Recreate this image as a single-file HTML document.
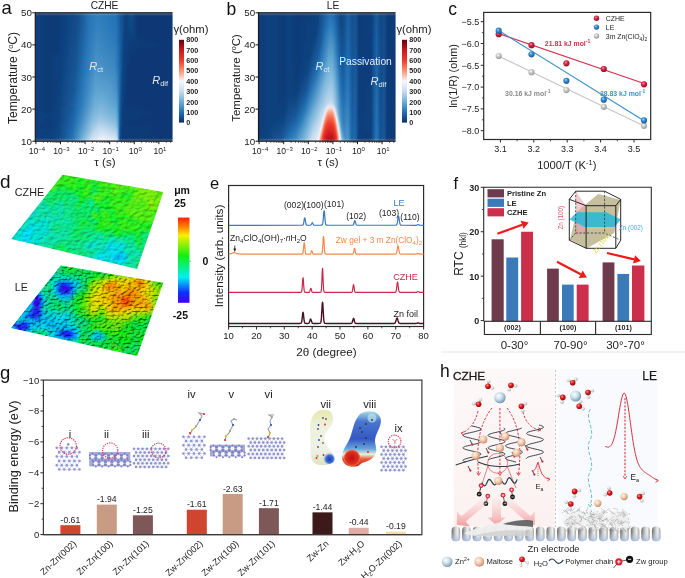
<!DOCTYPE html>
<html><head><meta charset="utf-8"><style>
html,body{margin:0;padding:0;background:#fff;width:685px;height:578px;overflow:hidden}
svg{display:block;filter:blur(0.35px);font-family:"Liberation Sans", sans-serif}
</style></head><body>
<svg width="685" height="578" viewBox="0 0 685 578">
<defs><linearGradient id="ha0" x1="35.3" y1="0" x2="172.5" y2="0" gradientUnits="userSpaceOnUse"><stop offset="0.000" stop-color="#0e407d"/><stop offset="0.091" stop-color="#0c3b78"/><stop offset="0.161" stop-color="#0c3b78"/><stop offset="0.307" stop-color="#124b8a"/><stop offset="0.409" stop-color="#2b79ba"/><stop offset="0.467" stop-color="#317ebc"/><stop offset="0.588" stop-color="#2372b6"/><stop offset="0.631" stop-color="#155190"/><stop offset="0.664" stop-color="#0e3f7c"/><stop offset="0.701" stop-color="#124b8a"/><stop offset="0.741" stop-color="#0b3874"/><stop offset="1.000" stop-color="#0b3874"/></linearGradient><linearGradient id="ha1" x1="35.3" y1="0" x2="172.5" y2="0" gradientUnits="userSpaceOnUse"><stop offset="0.000" stop-color="#0e407d"/><stop offset="0.091" stop-color="#0c3b78"/><stop offset="0.161" stop-color="#0c3b78"/><stop offset="0.307" stop-color="#134c8a"/><stop offset="0.401" stop-color="#2877b8"/><stop offset="0.456" stop-color="#3380bd"/><stop offset="0.588" stop-color="#2373b6"/><stop offset="0.631" stop-color="#145090"/><stop offset="0.664" stop-color="#0e3f7c"/><stop offset="0.701" stop-color="#124b8a"/><stop offset="0.741" stop-color="#0b3874"/><stop offset="1.000" stop-color="#0b3874"/></linearGradient><linearGradient id="ha2" x1="35.3" y1="0" x2="172.5" y2="0" gradientUnits="userSpaceOnUse"><stop offset="0.000" stop-color="#0e407d"/><stop offset="0.091" stop-color="#0c3b78"/><stop offset="0.161" stop-color="#0c3b78"/><stop offset="0.307" stop-color="#134c8b"/><stop offset="0.401" stop-color="#2978b9"/><stop offset="0.453" stop-color="#3480bd"/><stop offset="0.588" stop-color="#2473b6"/><stop offset="0.624" stop-color="#175798"/><stop offset="0.657" stop-color="#0e3f7c"/><stop offset="0.704" stop-color="#124988"/><stop offset="0.741" stop-color="#0b3874"/><stop offset="1.000" stop-color="#0b3874"/></linearGradient><linearGradient id="ha3" x1="35.3" y1="0" x2="172.5" y2="0" gradientUnits="userSpaceOnUse"><stop offset="0.000" stop-color="#0e407d"/><stop offset="0.091" stop-color="#0c3b78"/><stop offset="0.161" stop-color="#0c3b78"/><stop offset="0.310" stop-color="#144e8d"/><stop offset="0.401" stop-color="#2a78b9"/><stop offset="0.460" stop-color="#3481be"/><stop offset="0.588" stop-color="#2574b7"/><stop offset="0.624" stop-color="#175798"/><stop offset="0.657" stop-color="#0e3f7c"/><stop offset="0.690" stop-color="#124987"/><stop offset="0.712" stop-color="#104482"/><stop offset="0.748" stop-color="#0b3874"/><stop offset="1.000" stop-color="#0b3874"/></linearGradient><linearGradient id="ha4" x1="35.3" y1="0" x2="172.5" y2="0" gradientUnits="userSpaceOnUse"><stop offset="0.000" stop-color="#0e407d"/><stop offset="0.091" stop-color="#0c3b78"/><stop offset="0.161" stop-color="#0c3b78"/><stop offset="0.303" stop-color="#134d8c"/><stop offset="0.398" stop-color="#2978b9"/><stop offset="0.456" stop-color="#3682be"/><stop offset="0.588" stop-color="#2675b7"/><stop offset="0.620" stop-color="#195b9c"/><stop offset="0.657" stop-color="#0e3f7c"/><stop offset="0.704" stop-color="#114886"/><stop offset="0.745" stop-color="#0b3874"/><stop offset="1.000" stop-color="#0b3874"/></linearGradient><linearGradient id="ha5" x1="35.3" y1="0" x2="172.5" y2="0" gradientUnits="userSpaceOnUse"><stop offset="0.000" stop-color="#0e407d"/><stop offset="0.091" stop-color="#0c3b78"/><stop offset="0.161" stop-color="#0c3b78"/><stop offset="0.299" stop-color="#134c8b"/><stop offset="0.394" stop-color="#2877b8"/><stop offset="0.453" stop-color="#3783bf"/><stop offset="0.588" stop-color="#2776b8"/><stop offset="0.617" stop-color="#1a5fa1"/><stop offset="0.653" stop-color="#0e407d"/><stop offset="0.682" stop-color="#0f4381"/><stop offset="0.708" stop-color="#104583"/><stop offset="0.745" stop-color="#0b3874"/><stop offset="1.000" stop-color="#0b3874"/></linearGradient><linearGradient id="ha6" x1="35.3" y1="0" x2="172.5" y2="0" gradientUnits="userSpaceOnUse"><stop offset="0.000" stop-color="#0e407d"/><stop offset="0.091" stop-color="#0c3b78"/><stop offset="0.161" stop-color="#0c3b78"/><stop offset="0.299" stop-color="#134d8c"/><stop offset="0.391" stop-color="#2876b8"/><stop offset="0.453" stop-color="#3985c0"/><stop offset="0.588" stop-color="#2877b8"/><stop offset="0.613" stop-color="#1c63a6"/><stop offset="0.650" stop-color="#0e417e"/><stop offset="0.679" stop-color="#0e407e"/><stop offset="0.704" stop-color="#104583"/><stop offset="0.748" stop-color="#0b3874"/><stop offset="1.000" stop-color="#0b3874"/></linearGradient><linearGradient id="ha7" x1="35.3" y1="0" x2="172.5" y2="0" gradientUnits="userSpaceOnUse"><stop offset="0.000" stop-color="#0e407d"/><stop offset="0.091" stop-color="#0c3b78"/><stop offset="0.161" stop-color="#0c3b78"/><stop offset="0.299" stop-color="#144e8d"/><stop offset="0.391" stop-color="#2977b9"/><stop offset="0.449" stop-color="#3b86c0"/><stop offset="0.588" stop-color="#2978b9"/><stop offset="0.613" stop-color="#1c64a6"/><stop offset="0.650" stop-color="#0e407e"/><stop offset="0.682" stop-color="#0e417e"/><stop offset="0.712" stop-color="#0e407d"/><stop offset="0.766" stop-color="#0b3874"/><stop offset="1.000" stop-color="#0b3874"/></linearGradient><linearGradient id="ha8" x1="35.3" y1="0" x2="172.5" y2="0" gradientUnits="userSpaceOnUse"><stop offset="0.000" stop-color="#0e407d"/><stop offset="0.091" stop-color="#0c3b78"/><stop offset="0.161" stop-color="#0c3b78"/><stop offset="0.299" stop-color="#144f8e"/><stop offset="0.391" stop-color="#2a79b9"/><stop offset="0.453" stop-color="#3c87c1"/><stop offset="0.584" stop-color="#2c7aba"/><stop offset="0.609" stop-color="#1e68ab"/><stop offset="0.650" stop-color="#0e407d"/><stop offset="0.715" stop-color="#0d3d7a"/><stop offset="0.847" stop-color="#0b3874"/><stop offset="1.000" stop-color="#0b3874"/></linearGradient><linearGradient id="ha9" x1="35.3" y1="0" x2="172.5" y2="0" gradientUnits="userSpaceOnUse"><stop offset="0.000" stop-color="#0e407d"/><stop offset="0.091" stop-color="#0c3b78"/><stop offset="0.161" stop-color="#0c3b78"/><stop offset="0.299" stop-color="#14508f"/><stop offset="0.383" stop-color="#2876b8"/><stop offset="0.449" stop-color="#3e89c2"/><stop offset="0.588" stop-color="#2c7aba"/><stop offset="0.609" stop-color="#1e69ac"/><stop offset="0.646" stop-color="#0f427f"/><stop offset="0.682" stop-color="#0d3d7a"/><stop offset="0.989" stop-color="#0b3874"/><stop offset="1.000" stop-color="#0b3874"/></linearGradient><linearGradient id="ha10" x1="35.3" y1="0" x2="172.5" y2="0" gradientUnits="userSpaceOnUse"><stop offset="0.000" stop-color="#0e407d"/><stop offset="0.091" stop-color="#0c3b78"/><stop offset="0.161" stop-color="#0c3b78"/><stop offset="0.299" stop-color="#155190"/><stop offset="0.383" stop-color="#2978b9"/><stop offset="0.449" stop-color="#408ac3"/><stop offset="0.584" stop-color="#2f7dbb"/><stop offset="0.609" stop-color="#1e6aad"/><stop offset="0.646" stop-color="#0f417f"/><stop offset="0.686" stop-color="#0d3c79"/><stop offset="1.000" stop-color="#0b3874"/></linearGradient><linearGradient id="ha11" x1="35.3" y1="0" x2="172.5" y2="0" gradientUnits="userSpaceOnUse"><stop offset="0.000" stop-color="#0e407d"/><stop offset="0.091" stop-color="#0c3b78"/><stop offset="0.161" stop-color="#0c3b78"/><stop offset="0.299" stop-color="#155291"/><stop offset="0.380" stop-color="#2977b8"/><stop offset="0.445" stop-color="#418cc3"/><stop offset="0.584" stop-color="#317ebc"/><stop offset="0.609" stop-color="#1e6aad"/><stop offset="0.646" stop-color="#0e417e"/><stop offset="0.737" stop-color="#0b3874"/><stop offset="1.000" stop-color="#0b3874"/></linearGradient><linearGradient id="ha12" x1="35.3" y1="0" x2="172.5" y2="0" gradientUnits="userSpaceOnUse"><stop offset="0.000" stop-color="#0e407d"/><stop offset="0.091" stop-color="#0c3b78"/><stop offset="0.161" stop-color="#0c3b78"/><stop offset="0.296" stop-color="#155291"/><stop offset="0.376" stop-color="#2877b8"/><stop offset="0.445" stop-color="#438dc4"/><stop offset="0.584" stop-color="#3380bd"/><stop offset="0.609" stop-color="#1f6bae"/><stop offset="0.642" stop-color="#0f4380"/><stop offset="0.690" stop-color="#0c3a77"/><stop offset="1.000" stop-color="#0b3874"/></linearGradient><linearGradient id="ha13" x1="35.3" y1="0" x2="172.5" y2="0" gradientUnits="userSpaceOnUse"><stop offset="0.000" stop-color="#0e407d"/><stop offset="0.091" stop-color="#0c3b78"/><stop offset="0.193" stop-color="#0f417e"/><stop offset="0.296" stop-color="#155392"/><stop offset="0.372" stop-color="#2776b8"/><stop offset="0.442" stop-color="#458ec5"/><stop offset="0.580" stop-color="#3682be"/><stop offset="0.609" stop-color="#1f6caf"/><stop offset="0.642" stop-color="#0f4280"/><stop offset="0.690" stop-color="#0c3976"/><stop offset="1.000" stop-color="#0b3874"/></linearGradient><linearGradient id="ha14" x1="35.3" y1="0" x2="172.5" y2="0" gradientUnits="userSpaceOnUse"><stop offset="0.000" stop-color="#0e407d"/><stop offset="0.091" stop-color="#0c3b78"/><stop offset="0.190" stop-color="#0e417e"/><stop offset="0.296" stop-color="#165493"/><stop offset="0.372" stop-color="#2978b9"/><stop offset="0.445" stop-color="#4790c6"/><stop offset="0.580" stop-color="#3884bf"/><stop offset="0.609" stop-color="#1f6cb0"/><stop offset="0.642" stop-color="#0f427f"/><stop offset="0.701" stop-color="#0b3975"/><stop offset="1.000" stop-color="#0b3874"/></linearGradient><linearGradient id="ha15" x1="35.3" y1="0" x2="172.5" y2="0" gradientUnits="userSpaceOnUse"><stop offset="0.000" stop-color="#0e407d"/><stop offset="0.091" stop-color="#0c3b78"/><stop offset="0.190" stop-color="#0f417e"/><stop offset="0.299" stop-color="#175696"/><stop offset="0.372" stop-color="#2b79b9"/><stop offset="0.445" stop-color="#4992c7"/><stop offset="0.580" stop-color="#3a86c0"/><stop offset="0.609" stop-color="#206db1"/><stop offset="0.639" stop-color="#104482"/><stop offset="0.686" stop-color="#0b3975"/><stop offset="1.000" stop-color="#0b3874"/></linearGradient><linearGradient id="ha16" x1="35.3" y1="0" x2="172.5" y2="0" gradientUnits="userSpaceOnUse"><stop offset="0.000" stop-color="#0e407d"/><stop offset="0.091" stop-color="#0c3b78"/><stop offset="0.186" stop-color="#0e417e"/><stop offset="0.292" stop-color="#165494"/><stop offset="0.365" stop-color="#2877b8"/><stop offset="0.442" stop-color="#4b94c8"/><stop offset="0.580" stop-color="#3c87c1"/><stop offset="0.609" stop-color="#206eb1"/><stop offset="0.639" stop-color="#104481"/><stop offset="0.686" stop-color="#0b3875"/><stop offset="1.000" stop-color="#0b3874"/></linearGradient><linearGradient id="ha17" x1="35.3" y1="0" x2="172.5" y2="0" gradientUnits="userSpaceOnUse"><stop offset="0.000" stop-color="#0e407d"/><stop offset="0.091" stop-color="#0c3b78"/><stop offset="0.186" stop-color="#0f417e"/><stop offset="0.288" stop-color="#165494"/><stop offset="0.361" stop-color="#2876b8"/><stop offset="0.438" stop-color="#4c95c8"/><stop offset="0.577" stop-color="#408ac3"/><stop offset="0.606" stop-color="#2574b7"/><stop offset="0.639" stop-color="#0f4381"/><stop offset="0.679" stop-color="#0b3975"/><stop offset="1.000" stop-color="#0b3874"/></linearGradient><linearGradient id="ha18" x1="35.3" y1="0" x2="172.5" y2="0" gradientUnits="userSpaceOnUse"><stop offset="0.000" stop-color="#0e407d"/><stop offset="0.091" stop-color="#0c3b78"/><stop offset="0.182" stop-color="#0e407e"/><stop offset="0.288" stop-color="#165595"/><stop offset="0.361" stop-color="#2978b9"/><stop offset="0.442" stop-color="#5097ca"/><stop offset="0.584" stop-color="#3f89c2"/><stop offset="0.609" stop-color="#206fb3"/><stop offset="0.635" stop-color="#104684"/><stop offset="0.668" stop-color="#0c3975"/><stop offset="1.000" stop-color="#0b3874"/></linearGradient><linearGradient id="ha19" x1="35.3" y1="0" x2="172.5" y2="0" gradientUnits="userSpaceOnUse"><stop offset="0.000" stop-color="#0e407d"/><stop offset="0.091" stop-color="#0c3b78"/><stop offset="0.182" stop-color="#0e417e"/><stop offset="0.292" stop-color="#175898"/><stop offset="0.361" stop-color="#2b7aba"/><stop offset="0.442" stop-color="#5299cb"/><stop offset="0.580" stop-color="#438dc4"/><stop offset="0.606" stop-color="#2776b8"/><stop offset="0.635" stop-color="#104583"/><stop offset="0.675" stop-color="#0b3975"/><stop offset="1.000" stop-color="#0b3874"/></linearGradient><linearGradient id="ha20" x1="35.3" y1="0" x2="172.5" y2="0" gradientUnits="userSpaceOnUse"><stop offset="0.000" stop-color="#0e407d"/><stop offset="0.091" stop-color="#0c3b78"/><stop offset="0.186" stop-color="#0f427f"/><stop offset="0.292" stop-color="#185999"/><stop offset="0.354" stop-color="#2977b8"/><stop offset="0.438" stop-color="#549bcc"/><stop offset="0.573" stop-color="#4891c6"/><stop offset="0.599" stop-color="#3582be"/><stop offset="0.613" stop-color="#1e69ac"/><stop offset="0.635" stop-color="#104582"/><stop offset="0.672" stop-color="#0b3975"/><stop offset="1.000" stop-color="#0b3874"/></linearGradient><linearGradient id="ha21" x1="35.3" y1="0" x2="172.5" y2="0" gradientUnits="userSpaceOnUse"><stop offset="0.000" stop-color="#0e407d"/><stop offset="0.091" stop-color="#0c3b78"/><stop offset="0.157" stop-color="#0d3d7a"/><stop offset="0.281" stop-color="#175696"/><stop offset="0.350" stop-color="#2877b8"/><stop offset="0.434" stop-color="#559ccc"/><stop offset="0.522" stop-color="#539acb"/><stop offset="0.588" stop-color="#438dc4"/><stop offset="0.609" stop-color="#2171b5"/><stop offset="0.635" stop-color="#104482"/><stop offset="0.672" stop-color="#0b3975"/><stop offset="1.000" stop-color="#0b3874"/></linearGradient><linearGradient id="ha22" x1="35.3" y1="0" x2="172.5" y2="0" gradientUnits="userSpaceOnUse"><stop offset="0.000" stop-color="#0e407d"/><stop offset="0.091" stop-color="#0c3b78"/><stop offset="0.157" stop-color="#0d3e7a"/><stop offset="0.285" stop-color="#175899"/><stop offset="0.350" stop-color="#2a79b9"/><stop offset="0.438" stop-color="#599fce"/><stop offset="0.544" stop-color="#539acb"/><stop offset="0.591" stop-color="#438dc4"/><stop offset="0.609" stop-color="#2272b6"/><stop offset="0.631" stop-color="#114785"/><stop offset="0.664" stop-color="#0b3975"/><stop offset="1.000" stop-color="#0b3874"/></linearGradient><linearGradient id="ha23" x1="35.3" y1="0" x2="172.5" y2="0" gradientUnits="userSpaceOnUse"><stop offset="0.000" stop-color="#0e407d"/><stop offset="0.095" stop-color="#0c3a77"/><stop offset="0.157" stop-color="#0d3e7b"/><stop offset="0.285" stop-color="#18599a"/><stop offset="0.347" stop-color="#2a78b9"/><stop offset="0.442" stop-color="#5da2d0"/><stop offset="0.551" stop-color="#559ccc"/><stop offset="0.591" stop-color="#458fc5"/><stop offset="0.613" stop-color="#1e6aad"/><stop offset="0.631" stop-color="#114684"/><stop offset="0.668" stop-color="#0b3975"/><stop offset="1.000" stop-color="#0b3874"/></linearGradient><linearGradient id="ha24" x1="35.3" y1="0" x2="172.5" y2="0" gradientUnits="userSpaceOnUse"><stop offset="0.000" stop-color="#0e407d"/><stop offset="0.095" stop-color="#0c3a77"/><stop offset="0.157" stop-color="#0d3e7b"/><stop offset="0.281" stop-color="#18599a"/><stop offset="0.343" stop-color="#2a78b9"/><stop offset="0.442" stop-color="#60a5d1"/><stop offset="0.547" stop-color="#599fce"/><stop offset="0.591" stop-color="#4891c6"/><stop offset="0.609" stop-color="#2473b6"/><stop offset="0.631" stop-color="#104684"/><stop offset="0.661" stop-color="#0c3975"/><stop offset="1.000" stop-color="#0b3874"/></linearGradient><linearGradient id="ha25" x1="35.3" y1="0" x2="172.5" y2="0" gradientUnits="userSpaceOnUse"><stop offset="0.000" stop-color="#0e407d"/><stop offset="0.095" stop-color="#0c3a77"/><stop offset="0.157" stop-color="#0d3e7b"/><stop offset="0.281" stop-color="#185b9b"/><stop offset="0.339" stop-color="#2978b9"/><stop offset="0.434" stop-color="#61a6d2"/><stop offset="0.493" stop-color="#64a8d3"/><stop offset="0.584" stop-color="#5299cb"/><stop offset="0.602" stop-color="#3985c0"/><stop offset="0.613" stop-color="#1e6aad"/><stop offset="0.631" stop-color="#104583"/><stop offset="0.664" stop-color="#0b3975"/><stop offset="1.000" stop-color="#0b3874"/></linearGradient><linearGradient id="ha26" x1="35.3" y1="0" x2="172.5" y2="0" gradientUnits="userSpaceOnUse"><stop offset="0.000" stop-color="#0e407d"/><stop offset="0.095" stop-color="#0c3a77"/><stop offset="0.153" stop-color="#0e3f7c"/><stop offset="0.270" stop-color="#175898"/><stop offset="0.336" stop-color="#2978b9"/><stop offset="0.434" stop-color="#65a9d3"/><stop offset="0.493" stop-color="#68abd5"/><stop offset="0.584" stop-color="#559ccc"/><stop offset="0.602" stop-color="#3b86c1"/><stop offset="0.613" stop-color="#1f6bae"/><stop offset="0.628" stop-color="#124987"/><stop offset="0.653" stop-color="#0c3a76"/><stop offset="1.000" stop-color="#0b3874"/></linearGradient><linearGradient id="ha27" x1="35.3" y1="0" x2="172.5" y2="0" gradientUnits="userSpaceOnUse"><stop offset="0.000" stop-color="#0e407d"/><stop offset="0.095" stop-color="#0c3a77"/><stop offset="0.157" stop-color="#0e3f7c"/><stop offset="0.277" stop-color="#195c9d"/><stop offset="0.332" stop-color="#2978b9"/><stop offset="0.434" stop-color="#68acd5"/><stop offset="0.485" stop-color="#6eafd7"/><stop offset="0.584" stop-color="#599fce"/><stop offset="0.602" stop-color="#3e88c2"/><stop offset="0.613" stop-color="#1f6bae"/><stop offset="0.628" stop-color="#114886"/><stop offset="0.657" stop-color="#0c3975"/><stop offset="1.000" stop-color="#0b3874"/></linearGradient><linearGradient id="ha28" x1="35.3" y1="0" x2="172.5" y2="0" gradientUnits="userSpaceOnUse"><stop offset="0.000" stop-color="#0e407d"/><stop offset="0.095" stop-color="#0c3a77"/><stop offset="0.153" stop-color="#0e407d"/><stop offset="0.230" stop-color="#134d8c"/><stop offset="0.325" stop-color="#2776b8"/><stop offset="0.438" stop-color="#6fb0d7"/><stop offset="0.485" stop-color="#74b2d8"/><stop offset="0.584" stop-color="#5da3d0"/><stop offset="0.599" stop-color="#4a93c7"/><stop offset="0.613" stop-color="#1f6bae"/><stop offset="0.628" stop-color="#114785"/><stop offset="0.657" stop-color="#0b3975"/><stop offset="1.000" stop-color="#0b3874"/></linearGradient><linearGradient id="ha29" x1="35.3" y1="0" x2="172.5" y2="0" gradientUnits="userSpaceOnUse"><stop offset="0.000" stop-color="#0e407d"/><stop offset="0.095" stop-color="#0c3b77"/><stop offset="0.153" stop-color="#0e407d"/><stop offset="0.270" stop-color="#195c9d"/><stop offset="0.325" stop-color="#2978b9"/><stop offset="0.434" stop-color="#73b2d8"/><stop offset="0.485" stop-color="#7bb6da"/><stop offset="0.584" stop-color="#62a7d2"/><stop offset="0.599" stop-color="#4d96c9"/><stop offset="0.613" stop-color="#1f6bae"/><stop offset="0.628" stop-color="#104684"/><stop offset="0.650" stop-color="#0c3a76"/><stop offset="1.000" stop-color="#0b3874"/></linearGradient><linearGradient id="ha30" x1="35.3" y1="0" x2="172.5" y2="0" gradientUnits="userSpaceOnUse"><stop offset="0.000" stop-color="#0e407d"/><stop offset="0.095" stop-color="#0c3b77"/><stop offset="0.157" stop-color="#0e407d"/><stop offset="0.274" stop-color="#1a5fa1"/><stop offset="0.325" stop-color="#2c7aba"/><stop offset="0.427" stop-color="#75b3d9"/><stop offset="0.478" stop-color="#84badd"/><stop offset="0.584" stop-color="#68abd4"/><stop offset="0.599" stop-color="#5299cb"/><stop offset="0.613" stop-color="#1f6bae"/><stop offset="0.624" stop-color="#124b8a"/><stop offset="0.642" stop-color="#0c3b78"/><stop offset="1.000" stop-color="#0b3874"/></linearGradient><linearGradient id="ha31" x1="35.3" y1="0" x2="172.5" y2="0" gradientUnits="userSpaceOnUse"><stop offset="0.000" stop-color="#0e407d"/><stop offset="0.113" stop-color="#0d3e7b"/><stop offset="0.182" stop-color="#104583"/><stop offset="0.281" stop-color="#1c64a7"/><stop offset="0.325" stop-color="#307dbc"/><stop offset="0.427" stop-color="#7db7db"/><stop offset="0.478" stop-color="#8dbfdf"/><stop offset="0.584" stop-color="#6eb0d7"/><stop offset="0.599" stop-color="#579dcd"/><stop offset="0.613" stop-color="#1f6bae"/><stop offset="0.624" stop-color="#124a89"/><stop offset="0.642" stop-color="#0c3b77"/><stop offset="1.000" stop-color="#0b3874"/></linearGradient><linearGradient id="ha32" x1="35.3" y1="0" x2="172.5" y2="0" gradientUnits="userSpaceOnUse"><stop offset="0.000" stop-color="#0e407d"/><stop offset="0.113" stop-color="#0e3e7b"/><stop offset="0.179" stop-color="#104482"/><stop offset="0.285" stop-color="#1e69ab"/><stop offset="0.328" stop-color="#3682be"/><stop offset="0.416" stop-color="#7db7db"/><stop offset="0.474" stop-color="#97c4e2"/><stop offset="0.584" stop-color="#77b4d9"/><stop offset="0.599" stop-color="#5ca2cf"/><stop offset="0.613" stop-color="#1f6bae"/><stop offset="0.624" stop-color="#124987"/><stop offset="0.646" stop-color="#0c3a76"/><stop offset="1.000" stop-color="#0b3874"/></linearGradient><linearGradient id="ha33" x1="35.3" y1="0" x2="172.5" y2="0" gradientUnits="userSpaceOnUse"><stop offset="0.000" stop-color="#0e407d"/><stop offset="0.109" stop-color="#0d3d7a"/><stop offset="0.179" stop-color="#104583"/><stop offset="0.281" stop-color="#1e69ac"/><stop offset="0.328" stop-color="#3a86c0"/><stop offset="0.416" stop-color="#86bbdd"/><stop offset="0.471" stop-color="#a1c9e5"/><stop offset="0.580" stop-color="#84badd"/><stop offset="0.595" stop-color="#6dafd7"/><stop offset="0.606" stop-color="#428cc4"/><stop offset="0.613" stop-color="#1f6bae"/><stop offset="0.624" stop-color="#114886"/><stop offset="0.646" stop-color="#0c3a76"/><stop offset="1.000" stop-color="#0b3874"/></linearGradient><linearGradient id="ha34" x1="35.3" y1="0" x2="172.5" y2="0" gradientUnits="userSpaceOnUse"><stop offset="0.000" stop-color="#0e407d"/><stop offset="0.109" stop-color="#0d3d7a"/><stop offset="0.161" stop-color="#0e417e"/><stop offset="0.270" stop-color="#1d66a8"/><stop offset="0.310" stop-color="#307dbc"/><stop offset="0.409" stop-color="#8abdde"/><stop offset="0.464" stop-color="#accee8"/><stop offset="0.507" stop-color="#a8cce7"/><stop offset="0.584" stop-color="#8dbfdf"/><stop offset="0.595" stop-color="#78b4da"/><stop offset="0.602" stop-color="#5aa0ce"/><stop offset="0.613" stop-color="#1f6bae"/><stop offset="0.624" stop-color="#114785"/><stop offset="0.646" stop-color="#0c3976"/><stop offset="1.000" stop-color="#0b3874"/></linearGradient><linearGradient id="ha35" x1="35.3" y1="0" x2="172.5" y2="0" gradientUnits="userSpaceOnUse"><stop offset="0.000" stop-color="#0e407d"/><stop offset="0.095" stop-color="#0c3b78"/><stop offset="0.157" stop-color="#0f427f"/><stop offset="0.266" stop-color="#1d67a9"/><stop offset="0.299" stop-color="#2c7aba"/><stop offset="0.409" stop-color="#95c3e2"/><stop offset="0.464" stop-color="#bad5ec"/><stop offset="0.507" stop-color="#b8d4eb"/><stop offset="0.584" stop-color="#9ac5e3"/><stop offset="0.595" stop-color="#84badd"/><stop offset="0.606" stop-color="#4a93c7"/><stop offset="0.613" stop-color="#1f6bae"/><stop offset="0.620" stop-color="#134e8d"/><stop offset="0.635" stop-color="#0c3c78"/><stop offset="1.000" stop-color="#0b3874"/></linearGradient><linearGradient id="ha36" x1="35.3" y1="0" x2="172.5" y2="0" gradientUnits="userSpaceOnUse"><stop offset="0.000" stop-color="#0e407d"/><stop offset="0.113" stop-color="#0e3f7d"/><stop offset="0.179" stop-color="#114886"/><stop offset="0.274" stop-color="#206eb1"/><stop offset="0.343" stop-color="#589fce"/><stop offset="0.438" stop-color="#bcd6ec"/><stop offset="0.482" stop-color="#cbdef0"/><stop offset="0.569" stop-color="#b3d2ea"/><stop offset="0.591" stop-color="#9dc7e4"/><stop offset="0.599" stop-color="#80b9dc"/><stop offset="0.606" stop-color="#4f97c9"/><stop offset="0.613" stop-color="#1e6aad"/><stop offset="0.620" stop-color="#134c8b"/><stop offset="0.635" stop-color="#0c3b78"/><stop offset="1.000" stop-color="#0b3874"/></linearGradient><linearGradient id="ha37" x1="35.3" y1="0" x2="172.5" y2="0" gradientUnits="userSpaceOnUse"><stop offset="0.000" stop-color="#0e407d"/><stop offset="0.091" stop-color="#0d3d7a"/><stop offset="0.179" stop-color="#114987"/><stop offset="0.270" stop-color="#206fb2"/><stop offset="0.350" stop-color="#67abd4"/><stop offset="0.431" stop-color="#c6dbef"/><stop offset="0.493" stop-color="#d5e4f3"/><stop offset="0.580" stop-color="#bfd8ed"/><stop offset="0.591" stop-color="#aecfe9"/><stop offset="0.599" stop-color="#8fc0e0"/><stop offset="0.606" stop-color="#549bcc"/><stop offset="0.613" stop-color="#1e6aad"/><stop offset="0.620" stop-color="#124b89"/><stop offset="0.635" stop-color="#0c3b77"/><stop offset="1.000" stop-color="#0b3874"/></linearGradient><linearGradient id="ha38" x1="35.3" y1="0" x2="172.5" y2="0" gradientUnits="userSpaceOnUse"><stop offset="0.000" stop-color="#0e407d"/><stop offset="0.113" stop-color="#0e407d"/><stop offset="0.179" stop-color="#124988"/><stop offset="0.274" stop-color="#2574b7"/><stop offset="0.350" stop-color="#71b1d8"/><stop offset="0.420" stop-color="#caddf0"/><stop offset="0.489" stop-color="#e1ecf7"/><stop offset="0.588" stop-color="#c9ddf0"/><stop offset="0.595" stop-color="#b5d3ea"/><stop offset="0.602" stop-color="#7fb8db"/><stop offset="0.609" stop-color="#3683be"/><stop offset="0.613" stop-color="#1e69ac"/><stop offset="0.620" stop-color="#124988"/><stop offset="0.635" stop-color="#0c3b77"/><stop offset="1.000" stop-color="#0b3874"/></linearGradient><linearGradient id="ha39" x1="35.3" y1="0" x2="172.5" y2="0" gradientUnits="userSpaceOnUse"><stop offset="0.000" stop-color="#0e407d"/><stop offset="0.113" stop-color="#0e407d"/><stop offset="0.179" stop-color="#124a89"/><stop offset="0.270" stop-color="#2574b7"/><stop offset="0.343" stop-color="#6fb0d7"/><stop offset="0.405" stop-color="#c9ddf0"/><stop offset="0.478" stop-color="#edf3fa"/><stop offset="0.551" stop-color="#e3edf7"/><stop offset="0.591" stop-color="#d0e2f2"/><stop offset="0.595" stop-color="#c9ddf0"/><stop offset="0.599" stop-color="#b2d1ea"/><stop offset="0.606" stop-color="#60a5d1"/><stop offset="0.609" stop-color="#3884bf"/><stop offset="0.613" stop-color="#1d68aa"/><stop offset="0.620" stop-color="#114886"/><stop offset="0.635" stop-color="#0c3a77"/><stop offset="1.000" stop-color="#0b3874"/></linearGradient><filter id="blha" x="0" y="0" width="1" height="1"><feGaussianBlur stdDeviation="0.4 1.6" edgeMode="duplicate"/></filter><linearGradient id="cba" x1="0" y1="0" x2="0" y2="1" ><stop offset="0.000" stop-color="#67000d"/><stop offset="0.125" stop-color="#cb181d"/><stop offset="0.250" stop-color="#ef3b2c"/><stop offset="0.375" stop-color="#fc9272"/><stop offset="0.500" stop-color="#f4f8fc"/><stop offset="0.625" stop-color="#c6dbef"/><stop offset="0.750" stop-color="#6baed6"/><stop offset="0.875" stop-color="#2171b5"/><stop offset="1.000" stop-color="#08306b"/></linearGradient><linearGradient id="hb0" x1="258.5" y1="0" x2="395.5" y2="0" gradientUnits="userSpaceOnUse"><stop offset="0.000" stop-color="#0c3a77"/><stop offset="0.077" stop-color="#0e417e"/><stop offset="0.106" stop-color="#0e417e"/><stop offset="0.182" stop-color="#0c3b78"/><stop offset="0.223" stop-color="#0f4381"/><stop offset="0.285" stop-color="#0c3a77"/><stop offset="0.431" stop-color="#0e407e"/><stop offset="0.489" stop-color="#1b61a3"/><stop offset="0.529" stop-color="#2373b6"/><stop offset="0.558" stop-color="#1c63a5"/><stop offset="0.602" stop-color="#104482"/><stop offset="0.628" stop-color="#144e8d"/><stop offset="0.653" stop-color="#1b62a4"/><stop offset="0.686" stop-color="#144e8d"/><stop offset="0.708" stop-color="#155292"/><stop offset="0.737" stop-color="#0c3b78"/><stop offset="0.825" stop-color="#0e3f7c"/><stop offset="0.861" stop-color="#195c9d"/><stop offset="0.894" stop-color="#104684"/><stop offset="0.916" stop-color="#134c8a"/><stop offset="0.945" stop-color="#0c3b77"/><stop offset="1.000" stop-color="#0c3a77"/></linearGradient><linearGradient id="hb1" x1="258.5" y1="0" x2="395.5" y2="0" gradientUnits="userSpaceOnUse"><stop offset="0.000" stop-color="#0c3a77"/><stop offset="0.077" stop-color="#0e417e"/><stop offset="0.106" stop-color="#0e417e"/><stop offset="0.182" stop-color="#0c3b78"/><stop offset="0.223" stop-color="#0f4381"/><stop offset="0.285" stop-color="#0c3a77"/><stop offset="0.431" stop-color="#0f417e"/><stop offset="0.496" stop-color="#1e69ac"/><stop offset="0.529" stop-color="#2776b8"/><stop offset="0.555" stop-color="#1e6aad"/><stop offset="0.599" stop-color="#104684"/><stop offset="0.624" stop-color="#134b8a"/><stop offset="0.653" stop-color="#1c63a5"/><stop offset="0.686" stop-color="#144f8e"/><stop offset="0.708" stop-color="#155393"/><stop offset="0.734" stop-color="#0d3c79"/><stop offset="0.825" stop-color="#0e3f7c"/><stop offset="0.861" stop-color="#195d9e"/><stop offset="0.894" stop-color="#104684"/><stop offset="0.916" stop-color="#134c8b"/><stop offset="0.945" stop-color="#0c3b77"/><stop offset="1.000" stop-color="#0c3a77"/></linearGradient><linearGradient id="hb2" x1="258.5" y1="0" x2="395.5" y2="0" gradientUnits="userSpaceOnUse"><stop offset="0.000" stop-color="#0c3a77"/><stop offset="0.077" stop-color="#0e417e"/><stop offset="0.106" stop-color="#0e417e"/><stop offset="0.182" stop-color="#0c3b78"/><stop offset="0.223" stop-color="#0f4381"/><stop offset="0.285" stop-color="#0c3a77"/><stop offset="0.431" stop-color="#0f427f"/><stop offset="0.489" stop-color="#1d67a9"/><stop offset="0.522" stop-color="#2b79b9"/><stop offset="0.551" stop-color="#2170b4"/><stop offset="0.599" stop-color="#114785"/><stop offset="0.624" stop-color="#134c8b"/><stop offset="0.653" stop-color="#1c64a6"/><stop offset="0.690" stop-color="#14508f"/><stop offset="0.708" stop-color="#165393"/><stop offset="0.737" stop-color="#0c3b78"/><stop offset="0.825" stop-color="#0e3f7c"/><stop offset="0.861" stop-color="#195d9f"/><stop offset="0.894" stop-color="#114684"/><stop offset="0.916" stop-color="#134c8b"/><stop offset="0.945" stop-color="#0c3b77"/><stop offset="1.000" stop-color="#0c3a77"/></linearGradient><linearGradient id="hb3" x1="258.5" y1="0" x2="395.5" y2="0" gradientUnits="userSpaceOnUse"><stop offset="0.000" stop-color="#0c3a77"/><stop offset="0.077" stop-color="#0e417e"/><stop offset="0.106" stop-color="#0e417e"/><stop offset="0.182" stop-color="#0c3b78"/><stop offset="0.223" stop-color="#0f4381"/><stop offset="0.285" stop-color="#0c3a77"/><stop offset="0.431" stop-color="#0f4380"/><stop offset="0.485" stop-color="#1d67a9"/><stop offset="0.518" stop-color="#2e7cbb"/><stop offset="0.547" stop-color="#2877b8"/><stop offset="0.602" stop-color="#114785"/><stop offset="0.624" stop-color="#134d8c"/><stop offset="0.653" stop-color="#1c65a7"/><stop offset="0.686" stop-color="#144f8f"/><stop offset="0.708" stop-color="#165494"/><stop offset="0.737" stop-color="#0c3b78"/><stop offset="0.825" stop-color="#0e3f7c"/><stop offset="0.861" stop-color="#1a5e9f"/><stop offset="0.894" stop-color="#114684"/><stop offset="0.916" stop-color="#134d8c"/><stop offset="0.945" stop-color="#0c3b77"/><stop offset="1.000" stop-color="#0c3a77"/></linearGradient><linearGradient id="hb4" x1="258.5" y1="0" x2="395.5" y2="0" gradientUnits="userSpaceOnUse"><stop offset="0.000" stop-color="#0c3a77"/><stop offset="0.077" stop-color="#0e417e"/><stop offset="0.106" stop-color="#0e417e"/><stop offset="0.182" stop-color="#0c3b78"/><stop offset="0.223" stop-color="#0f4381"/><stop offset="0.285" stop-color="#0c3a77"/><stop offset="0.431" stop-color="#104481"/><stop offset="0.489" stop-color="#206db1"/><stop offset="0.526" stop-color="#3581be"/><stop offset="0.555" stop-color="#2574b7"/><stop offset="0.602" stop-color="#114887"/><stop offset="0.624" stop-color="#134d8d"/><stop offset="0.653" stop-color="#1d65a8"/><stop offset="0.686" stop-color="#14508f"/><stop offset="0.708" stop-color="#165494"/><stop offset="0.737" stop-color="#0c3b78"/><stop offset="0.825" stop-color="#0e3f7c"/><stop offset="0.861" stop-color="#1a5fa0"/><stop offset="0.894" stop-color="#114785"/><stop offset="0.916" stop-color="#134d8c"/><stop offset="0.945" stop-color="#0c3b77"/><stop offset="1.000" stop-color="#0c3a77"/></linearGradient><linearGradient id="hb5" x1="258.5" y1="0" x2="395.5" y2="0" gradientUnits="userSpaceOnUse"><stop offset="0.000" stop-color="#0c3a77"/><stop offset="0.077" stop-color="#0e417e"/><stop offset="0.106" stop-color="#0e417e"/><stop offset="0.182" stop-color="#0c3b78"/><stop offset="0.223" stop-color="#0f4381"/><stop offset="0.285" stop-color="#0c3a77"/><stop offset="0.427" stop-color="#104481"/><stop offset="0.478" stop-color="#1d67a9"/><stop offset="0.507" stop-color="#317fbc"/><stop offset="0.536" stop-color="#3884bf"/><stop offset="0.566" stop-color="#1f6caf"/><stop offset="0.602" stop-color="#124a88"/><stop offset="0.624" stop-color="#144e8d"/><stop offset="0.653" stop-color="#1d66a9"/><stop offset="0.686" stop-color="#145090"/><stop offset="0.708" stop-color="#165595"/><stop offset="0.737" stop-color="#0c3b78"/><stop offset="0.825" stop-color="#0e3f7c"/><stop offset="0.861" stop-color="#1a5fa1"/><stop offset="0.894" stop-color="#114785"/><stop offset="0.916" stop-color="#134d8c"/><stop offset="0.945" stop-color="#0c3b77"/><stop offset="1.000" stop-color="#0c3a77"/></linearGradient><linearGradient id="hb6" x1="258.5" y1="0" x2="395.5" y2="0" gradientUnits="userSpaceOnUse"><stop offset="0.000" stop-color="#0c3a77"/><stop offset="0.077" stop-color="#0e417e"/><stop offset="0.106" stop-color="#0e417e"/><stop offset="0.182" stop-color="#0c3b78"/><stop offset="0.223" stop-color="#0f4381"/><stop offset="0.285" stop-color="#0c3a77"/><stop offset="0.420" stop-color="#0f4380"/><stop offset="0.467" stop-color="#1a60a1"/><stop offset="0.496" stop-color="#2d7bba"/><stop offset="0.529" stop-color="#3f89c2"/><stop offset="0.558" stop-color="#2977b8"/><stop offset="0.599" stop-color="#134d8c"/><stop offset="0.620" stop-color="#134c8b"/><stop offset="0.653" stop-color="#1d67aa"/><stop offset="0.686" stop-color="#155190"/><stop offset="0.708" stop-color="#165595"/><stop offset="0.737" stop-color="#0c3b78"/><stop offset="0.825" stop-color="#0e3f7c"/><stop offset="0.861" stop-color="#1a60a2"/><stop offset="0.894" stop-color="#114785"/><stop offset="0.916" stop-color="#134e8d"/><stop offset="0.942" stop-color="#0c3b78"/><stop offset="1.000" stop-color="#0c3a77"/></linearGradient><linearGradient id="hb7" x1="258.5" y1="0" x2="395.5" y2="0" gradientUnits="userSpaceOnUse"><stop offset="0.000" stop-color="#0c3a77"/><stop offset="0.077" stop-color="#0e417e"/><stop offset="0.106" stop-color="#0e417e"/><stop offset="0.182" stop-color="#0c3b78"/><stop offset="0.223" stop-color="#0f4381"/><stop offset="0.285" stop-color="#0c3a77"/><stop offset="0.420" stop-color="#104482"/><stop offset="0.467" stop-color="#1c63a5"/><stop offset="0.496" stop-color="#327fbc"/><stop offset="0.529" stop-color="#448ec4"/><stop offset="0.558" stop-color="#2d7bba"/><stop offset="0.588" stop-color="#175898"/><stop offset="0.613" stop-color="#124b89"/><stop offset="0.653" stop-color="#1e68ab"/><stop offset="0.686" stop-color="#155191"/><stop offset="0.708" stop-color="#175696"/><stop offset="0.734" stop-color="#0d3d79"/><stop offset="0.821" stop-color="#0d3e7b"/><stop offset="0.861" stop-color="#1b61a2"/><stop offset="0.894" stop-color="#114786"/><stop offset="0.916" stop-color="#144e8d"/><stop offset="0.942" stop-color="#0c3b78"/><stop offset="1.000" stop-color="#0c3a77"/></linearGradient><linearGradient id="hb8" x1="258.5" y1="0" x2="395.5" y2="0" gradientUnits="userSpaceOnUse"><stop offset="0.000" stop-color="#0c3a77"/><stop offset="0.077" stop-color="#0e417e"/><stop offset="0.106" stop-color="#0e417e"/><stop offset="0.182" stop-color="#0c3b78"/><stop offset="0.223" stop-color="#0f4381"/><stop offset="0.285" stop-color="#0c3a77"/><stop offset="0.412" stop-color="#104482"/><stop offset="0.456" stop-color="#195c9e"/><stop offset="0.485" stop-color="#2b79b9"/><stop offset="0.522" stop-color="#4891c6"/><stop offset="0.547" stop-color="#3f8ac2"/><stop offset="0.577" stop-color="#1d67aa"/><stop offset="0.606" stop-color="#134d8c"/><stop offset="0.628" stop-color="#165494"/><stop offset="0.653" stop-color="#1e69ac"/><stop offset="0.686" stop-color="#155291"/><stop offset="0.708" stop-color="#175697"/><stop offset="0.734" stop-color="#0d3d79"/><stop offset="0.821" stop-color="#0d3e7b"/><stop offset="0.861" stop-color="#1b61a3"/><stop offset="0.894" stop-color="#114886"/><stop offset="0.916" stop-color="#144e8e"/><stop offset="0.942" stop-color="#0c3b78"/><stop offset="1.000" stop-color="#0c3a77"/></linearGradient><linearGradient id="hb9" x1="258.5" y1="0" x2="395.5" y2="0" gradientUnits="userSpaceOnUse"><stop offset="0.000" stop-color="#0c3a77"/><stop offset="0.077" stop-color="#0e417e"/><stop offset="0.106" stop-color="#0e417e"/><stop offset="0.182" stop-color="#0c3b78"/><stop offset="0.223" stop-color="#0f4381"/><stop offset="0.285" stop-color="#0c3a77"/><stop offset="0.409" stop-color="#104582"/><stop offset="0.453" stop-color="#195d9e"/><stop offset="0.482" stop-color="#2b7aba"/><stop offset="0.522" stop-color="#4d95c9"/><stop offset="0.547" stop-color="#448ec4"/><stop offset="0.577" stop-color="#1f6bae"/><stop offset="0.606" stop-color="#144e8d"/><stop offset="0.628" stop-color="#165596"/><stop offset="0.653" stop-color="#1e6aad"/><stop offset="0.686" stop-color="#155292"/><stop offset="0.708" stop-color="#175797"/><stop offset="0.734" stop-color="#0d3d79"/><stop offset="0.821" stop-color="#0d3e7b"/><stop offset="0.861" stop-color="#1b62a4"/><stop offset="0.894" stop-color="#114886"/><stop offset="0.916" stop-color="#144f8e"/><stop offset="0.942" stop-color="#0c3b78"/><stop offset="1.000" stop-color="#0c3a77"/></linearGradient><linearGradient id="hb10" x1="258.5" y1="0" x2="395.5" y2="0" gradientUnits="userSpaceOnUse"><stop offset="0.000" stop-color="#0c3a77"/><stop offset="0.077" stop-color="#0e417e"/><stop offset="0.106" stop-color="#0e417e"/><stop offset="0.182" stop-color="#0c3b78"/><stop offset="0.223" stop-color="#0f4381"/><stop offset="0.285" stop-color="#0c3a77"/><stop offset="0.401" stop-color="#104582"/><stop offset="0.449" stop-color="#195d9f"/><stop offset="0.478" stop-color="#2c7aba"/><stop offset="0.518" stop-color="#5198ca"/><stop offset="0.547" stop-color="#4992c7"/><stop offset="0.580" stop-color="#1e69ac"/><stop offset="0.606" stop-color="#14508f"/><stop offset="0.628" stop-color="#175697"/><stop offset="0.653" stop-color="#1f6bae"/><stop offset="0.686" stop-color="#155292"/><stop offset="0.708" stop-color="#175798"/><stop offset="0.734" stop-color="#0d3d79"/><stop offset="0.821" stop-color="#0d3e7b"/><stop offset="0.861" stop-color="#1c63a5"/><stop offset="0.894" stop-color="#114886"/><stop offset="0.916" stop-color="#144f8e"/><stop offset="0.945" stop-color="#0c3b77"/><stop offset="1.000" stop-color="#0c3a77"/></linearGradient><linearGradient id="hb11" x1="258.5" y1="0" x2="395.5" y2="0" gradientUnits="userSpaceOnUse"><stop offset="0.000" stop-color="#0c3a77"/><stop offset="0.077" stop-color="#0e417e"/><stop offset="0.106" stop-color="#0e417e"/><stop offset="0.182" stop-color="#0c3b78"/><stop offset="0.223" stop-color="#0f4381"/><stop offset="0.285" stop-color="#0c3a77"/><stop offset="0.394" stop-color="#104582"/><stop offset="0.442" stop-color="#195b9c"/><stop offset="0.471" stop-color="#2977b9"/><stop offset="0.515" stop-color="#549bcc"/><stop offset="0.540" stop-color="#549bcc"/><stop offset="0.580" stop-color="#1f6caf"/><stop offset="0.606" stop-color="#155191"/><stop offset="0.628" stop-color="#175798"/><stop offset="0.653" stop-color="#1f6caf"/><stop offset="0.686" stop-color="#155393"/><stop offset="0.708" stop-color="#175898"/><stop offset="0.734" stop-color="#0d3d79"/><stop offset="0.821" stop-color="#0d3e7b"/><stop offset="0.861" stop-color="#1c63a6"/><stop offset="0.894" stop-color="#114887"/><stop offset="0.916" stop-color="#144f8f"/><stop offset="0.945" stop-color="#0c3b77"/><stop offset="1.000" stop-color="#0c3a77"/></linearGradient><linearGradient id="hb12" x1="258.5" y1="0" x2="395.5" y2="0" gradientUnits="userSpaceOnUse"><stop offset="0.000" stop-color="#0c3a77"/><stop offset="0.077" stop-color="#0e417e"/><stop offset="0.106" stop-color="#0e417e"/><stop offset="0.182" stop-color="#0c3b78"/><stop offset="0.223" stop-color="#0f4381"/><stop offset="0.285" stop-color="#0c3a77"/><stop offset="0.387" stop-color="#104582"/><stop offset="0.442" stop-color="#1a5fa1"/><stop offset="0.467" stop-color="#2a78b9"/><stop offset="0.515" stop-color="#5aa0ce"/><stop offset="0.540" stop-color="#599fce"/><stop offset="0.580" stop-color="#206fb3"/><stop offset="0.609" stop-color="#155291"/><stop offset="0.631" stop-color="#195c9e"/><stop offset="0.653" stop-color="#1f6db1"/><stop offset="0.686" stop-color="#165393"/><stop offset="0.708" stop-color="#175899"/><stop offset="0.734" stop-color="#0d3d79"/><stop offset="0.821" stop-color="#0d3e7b"/><stop offset="0.861" stop-color="#1c64a6"/><stop offset="0.894" stop-color="#114887"/><stop offset="0.916" stop-color="#14508f"/><stop offset="0.945" stop-color="#0c3b77"/><stop offset="1.000" stop-color="#0c3a77"/></linearGradient><linearGradient id="hb13" x1="258.5" y1="0" x2="395.5" y2="0" gradientUnits="userSpaceOnUse"><stop offset="0.000" stop-color="#0c3a77"/><stop offset="0.077" stop-color="#0e417e"/><stop offset="0.106" stop-color="#0e417e"/><stop offset="0.182" stop-color="#0c3b78"/><stop offset="0.223" stop-color="#0f4381"/><stop offset="0.285" stop-color="#0c3a77"/><stop offset="0.380" stop-color="#104482"/><stop offset="0.438" stop-color="#1b61a3"/><stop offset="0.464" stop-color="#2b7aba"/><stop offset="0.511" stop-color="#5da3d0"/><stop offset="0.540" stop-color="#5fa4d0"/><stop offset="0.577" stop-color="#2977b8"/><stop offset="0.602" stop-color="#175798"/><stop offset="0.624" stop-color="#175797"/><stop offset="0.653" stop-color="#206eb2"/><stop offset="0.686" stop-color="#165494"/><stop offset="0.708" stop-color="#185999"/><stop offset="0.734" stop-color="#0d3d7a"/><stop offset="0.821" stop-color="#0d3e7b"/><stop offset="0.861" stop-color="#1c65a7"/><stop offset="0.894" stop-color="#124987"/><stop offset="0.916" stop-color="#145090"/><stop offset="0.942" stop-color="#0c3b78"/><stop offset="1.000" stop-color="#0c3a77"/></linearGradient><linearGradient id="hb14" x1="258.5" y1="0" x2="395.5" y2="0" gradientUnits="userSpaceOnUse"><stop offset="0.000" stop-color="#0c3a77"/><stop offset="0.077" stop-color="#0e417e"/><stop offset="0.106" stop-color="#0e417e"/><stop offset="0.182" stop-color="#0c3b78"/><stop offset="0.223" stop-color="#0f4381"/><stop offset="0.285" stop-color="#0c3a77"/><stop offset="0.372" stop-color="#104482"/><stop offset="0.434" stop-color="#1b63a5"/><stop offset="0.460" stop-color="#2d7bba"/><stop offset="0.511" stop-color="#63a7d2"/><stop offset="0.540" stop-color="#64a8d3"/><stop offset="0.577" stop-color="#2d7bba"/><stop offset="0.595" stop-color="#1b61a3"/><stop offset="0.617" stop-color="#165595"/><stop offset="0.653" stop-color="#206fb3"/><stop offset="0.686" stop-color="#165494"/><stop offset="0.708" stop-color="#18599a"/><stop offset="0.734" stop-color="#0d3d7a"/><stop offset="0.821" stop-color="#0d3e7b"/><stop offset="0.861" stop-color="#1d66a8"/><stop offset="0.894" stop-color="#124987"/><stop offset="0.916" stop-color="#155190"/><stop offset="0.942" stop-color="#0c3b78"/><stop offset="1.000" stop-color="#0c3a77"/></linearGradient><linearGradient id="hb15" x1="258.5" y1="0" x2="395.5" y2="0" gradientUnits="userSpaceOnUse"><stop offset="0.000" stop-color="#0c3a77"/><stop offset="0.077" stop-color="#0e417e"/><stop offset="0.106" stop-color="#0e417e"/><stop offset="0.182" stop-color="#0c3b78"/><stop offset="0.223" stop-color="#0f4381"/><stop offset="0.285" stop-color="#0c3b77"/><stop offset="0.369" stop-color="#104582"/><stop offset="0.434" stop-color="#1d68aa"/><stop offset="0.460" stop-color="#3380bd"/><stop offset="0.511" stop-color="#68acd5"/><stop offset="0.536" stop-color="#6caed6"/><stop offset="0.566" stop-color="#458fc5"/><stop offset="0.588" stop-color="#206db1"/><stop offset="0.613" stop-color="#175696"/><stop offset="0.639" stop-color="#1e68ab"/><stop offset="0.657" stop-color="#206fb3"/><stop offset="0.686" stop-color="#165595"/><stop offset="0.708" stop-color="#185a9a"/><stop offset="0.734" stop-color="#0d3d7a"/><stop offset="0.821" stop-color="#0d3e7b"/><stop offset="0.861" stop-color="#1d66a9"/><stop offset="0.894" stop-color="#124988"/><stop offset="0.916" stop-color="#155190"/><stop offset="0.942" stop-color="#0c3b78"/><stop offset="1.000" stop-color="#0c3a77"/></linearGradient><linearGradient id="hb16" x1="258.5" y1="0" x2="395.5" y2="0" gradientUnits="userSpaceOnUse"><stop offset="0.000" stop-color="#0c3a77"/><stop offset="0.077" stop-color="#0e417e"/><stop offset="0.106" stop-color="#0e417e"/><stop offset="0.182" stop-color="#0c3b78"/><stop offset="0.223" stop-color="#0f4381"/><stop offset="0.285" stop-color="#0c3b77"/><stop offset="0.365" stop-color="#104583"/><stop offset="0.431" stop-color="#1e6aad"/><stop offset="0.464" stop-color="#3f89c2"/><stop offset="0.511" stop-color="#6eb0d7"/><stop offset="0.536" stop-color="#72b2d8"/><stop offset="0.566" stop-color="#4a93c7"/><stop offset="0.591" stop-color="#1f6bae"/><stop offset="0.613" stop-color="#175898"/><stop offset="0.642" stop-color="#1f6db0"/><stop offset="0.661" stop-color="#206db1"/><stop offset="0.686" stop-color="#165595"/><stop offset="0.708" stop-color="#185a9b"/><stop offset="0.734" stop-color="#0d3d7a"/><stop offset="0.821" stop-color="#0d3e7b"/><stop offset="0.850" stop-color="#1a5fa1"/><stop offset="0.865" stop-color="#1d66a9"/><stop offset="0.894" stop-color="#124988"/><stop offset="0.916" stop-color="#155191"/><stop offset="0.942" stop-color="#0c3b78"/><stop offset="1.000" stop-color="#0c3a77"/></linearGradient><linearGradient id="hb17" x1="258.5" y1="0" x2="395.5" y2="0" gradientUnits="userSpaceOnUse"><stop offset="0.000" stop-color="#0c3a77"/><stop offset="0.077" stop-color="#0e417e"/><stop offset="0.106" stop-color="#0e417e"/><stop offset="0.182" stop-color="#0c3b78"/><stop offset="0.226" stop-color="#0f4280"/><stop offset="0.288" stop-color="#0c3b77"/><stop offset="0.365" stop-color="#114886"/><stop offset="0.438" stop-color="#2776b8"/><stop offset="0.504" stop-color="#70b0d7"/><stop offset="0.536" stop-color="#79b5da"/><stop offset="0.562" stop-color="#559ccc"/><stop offset="0.591" stop-color="#206eb2"/><stop offset="0.613" stop-color="#185a9b"/><stop offset="0.635" stop-color="#1d67a9"/><stop offset="0.653" stop-color="#2373b6"/><stop offset="0.686" stop-color="#165596"/><stop offset="0.708" stop-color="#185b9c"/><stop offset="0.734" stop-color="#0d3d7a"/><stop offset="0.821" stop-color="#0d3e7b"/><stop offset="0.861" stop-color="#1d68aa"/><stop offset="0.894" stop-color="#124a88"/><stop offset="0.916" stop-color="#155291"/><stop offset="0.942" stop-color="#0c3b78"/><stop offset="1.000" stop-color="#0c3a77"/></linearGradient><linearGradient id="hb18" x1="258.5" y1="0" x2="395.5" y2="0" gradientUnits="userSpaceOnUse"><stop offset="0.000" stop-color="#0c3a77"/><stop offset="0.077" stop-color="#0e417e"/><stop offset="0.106" stop-color="#0e417e"/><stop offset="0.182" stop-color="#0c3b78"/><stop offset="0.226" stop-color="#0f4280"/><stop offset="0.285" stop-color="#0c3b78"/><stop offset="0.358" stop-color="#114785"/><stop offset="0.431" stop-color="#2675b7"/><stop offset="0.500" stop-color="#74b2d8"/><stop offset="0.533" stop-color="#81b9dc"/><stop offset="0.558" stop-color="#61a6d2"/><stop offset="0.595" stop-color="#1f6caf"/><stop offset="0.617" stop-color="#195b9c"/><stop offset="0.650" stop-color="#2474b6"/><stop offset="0.664" stop-color="#1f6baf"/><stop offset="0.682" stop-color="#175697"/><stop offset="0.708" stop-color="#195b9c"/><stop offset="0.734" stop-color="#0d3d7a"/><stop offset="0.821" stop-color="#0d3e7b"/><stop offset="0.861" stop-color="#1e68ab"/><stop offset="0.894" stop-color="#124a88"/><stop offset="0.916" stop-color="#155292"/><stop offset="0.938" stop-color="#0d3c79"/><stop offset="1.000" stop-color="#0c3a77"/></linearGradient><linearGradient id="hb19" x1="258.5" y1="0" x2="395.5" y2="0" gradientUnits="userSpaceOnUse"><stop offset="0.000" stop-color="#0c3a77"/><stop offset="0.077" stop-color="#0e417e"/><stop offset="0.106" stop-color="#0e417e"/><stop offset="0.182" stop-color="#0c3b78"/><stop offset="0.226" stop-color="#0f4280"/><stop offset="0.285" stop-color="#0c3b78"/><stop offset="0.354" stop-color="#114887"/><stop offset="0.423" stop-color="#2675b7"/><stop offset="0.496" stop-color="#78b4da"/><stop offset="0.529" stop-color="#89bdde"/><stop offset="0.551" stop-color="#74b2d8"/><stop offset="0.595" stop-color="#206fb2"/><stop offset="0.617" stop-color="#195d9e"/><stop offset="0.650" stop-color="#2675b7"/><stop offset="0.668" stop-color="#1d67aa"/><stop offset="0.686" stop-color="#175697"/><stop offset="0.708" stop-color="#195c9d"/><stop offset="0.734" stop-color="#0d3d7a"/><stop offset="0.821" stop-color="#0e3e7b"/><stop offset="0.861" stop-color="#1e69ac"/><stop offset="0.894" stop-color="#124a89"/><stop offset="0.916" stop-color="#155292"/><stop offset="0.942" stop-color="#0c3b78"/><stop offset="1.000" stop-color="#0c3a77"/></linearGradient><linearGradient id="hb20" x1="258.5" y1="0" x2="395.5" y2="0" gradientUnits="userSpaceOnUse"><stop offset="0.000" stop-color="#0c3a77"/><stop offset="0.077" stop-color="#0e417e"/><stop offset="0.106" stop-color="#0e417e"/><stop offset="0.182" stop-color="#0c3b78"/><stop offset="0.226" stop-color="#0f4280"/><stop offset="0.281" stop-color="#0d3c78"/><stop offset="0.354" stop-color="#134b8a"/><stop offset="0.416" stop-color="#2776b8"/><stop offset="0.496" stop-color="#80b8dc"/><stop offset="0.533" stop-color="#8fc0e0"/><stop offset="0.555" stop-color="#73b2d8"/><stop offset="0.599" stop-color="#1f6cb0"/><stop offset="0.617" stop-color="#1a5fa1"/><stop offset="0.653" stop-color="#2776b8"/><stop offset="0.672" stop-color="#1c63a5"/><stop offset="0.686" stop-color="#175797"/><stop offset="0.708" stop-color="#195c9d"/><stop offset="0.734" stop-color="#0d3d7a"/><stop offset="0.821" stop-color="#0e3e7b"/><stop offset="0.847" stop-color="#195d9e"/><stop offset="0.861" stop-color="#1e6aad"/><stop offset="0.894" stop-color="#124a89"/><stop offset="0.916" stop-color="#155392"/><stop offset="0.942" stop-color="#0c3b78"/><stop offset="1.000" stop-color="#0c3a77"/></linearGradient><linearGradient id="hb21" x1="258.5" y1="0" x2="395.5" y2="0" gradientUnits="userSpaceOnUse"><stop offset="0.000" stop-color="#0c3a77"/><stop offset="0.077" stop-color="#0e417e"/><stop offset="0.106" stop-color="#0e417e"/><stop offset="0.182" stop-color="#0c3b78"/><stop offset="0.226" stop-color="#0f4280"/><stop offset="0.281" stop-color="#0d3d79"/><stop offset="0.354" stop-color="#144f8e"/><stop offset="0.409" stop-color="#2877b8"/><stop offset="0.489" stop-color="#80b8dc"/><stop offset="0.529" stop-color="#96c3e2"/><stop offset="0.547" stop-color="#87bcde"/><stop offset="0.573" stop-color="#529acb"/><stop offset="0.599" stop-color="#206fb3"/><stop offset="0.620" stop-color="#1b62a3"/><stop offset="0.650" stop-color="#2977b8"/><stop offset="0.664" stop-color="#206eb2"/><stop offset="0.682" stop-color="#175899"/><stop offset="0.708" stop-color="#195d9e"/><stop offset="0.734" stop-color="#0d3d7a"/><stop offset="0.821" stop-color="#0e3e7b"/><stop offset="0.858" stop-color="#1e69ac"/><stop offset="0.872" stop-color="#1b62a4"/><stop offset="0.894" stop-color="#124b89"/><stop offset="0.916" stop-color="#155393"/><stop offset="0.942" stop-color="#0c3b78"/><stop offset="1.000" stop-color="#0c3a77"/></linearGradient><linearGradient id="hb22" x1="258.5" y1="0" x2="395.5" y2="0" gradientUnits="userSpaceOnUse"><stop offset="0.000" stop-color="#0c3a77"/><stop offset="0.077" stop-color="#0e417e"/><stop offset="0.106" stop-color="#0e417e"/><stop offset="0.182" stop-color="#0c3c78"/><stop offset="0.226" stop-color="#0f4280"/><stop offset="0.281" stop-color="#0d3e7a"/><stop offset="0.347" stop-color="#144f8e"/><stop offset="0.398" stop-color="#2675b7"/><stop offset="0.485" stop-color="#84bbdd"/><stop offset="0.522" stop-color="#9cc6e4"/><stop offset="0.544" stop-color="#93c2e1"/><stop offset="0.573" stop-color="#579ecd"/><stop offset="0.602" stop-color="#206db1"/><stop offset="0.620" stop-color="#1c64a6"/><stop offset="0.650" stop-color="#2a79b9"/><stop offset="0.668" stop-color="#1e6aad"/><stop offset="0.686" stop-color="#175898"/><stop offset="0.708" stop-color="#195d9f"/><stop offset="0.734" stop-color="#0d3d7a"/><stop offset="0.821" stop-color="#0e3f7c"/><stop offset="0.847" stop-color="#1a5e9f"/><stop offset="0.861" stop-color="#1f6bae"/><stop offset="0.883" stop-color="#155393"/><stop offset="0.898" stop-color="#134c8b"/><stop offset="0.916" stop-color="#165393"/><stop offset="0.942" stop-color="#0c3b78"/><stop offset="1.000" stop-color="#0c3a77"/></linearGradient><linearGradient id="hb23" x1="258.5" y1="0" x2="395.5" y2="0" gradientUnits="userSpaceOnUse"><stop offset="0.000" stop-color="#0c3a77"/><stop offset="0.077" stop-color="#0e417e"/><stop offset="0.106" stop-color="#0e417e"/><stop offset="0.182" stop-color="#0c3c78"/><stop offset="0.226" stop-color="#0f4380"/><stop offset="0.281" stop-color="#0e3f7c"/><stop offset="0.347" stop-color="#165393"/><stop offset="0.391" stop-color="#2776b8"/><stop offset="0.478" stop-color="#84bbdd"/><stop offset="0.518" stop-color="#a2c9e5"/><stop offset="0.540" stop-color="#9ec7e4"/><stop offset="0.562" stop-color="#76b3d9"/><stop offset="0.599" stop-color="#2675b7"/><stop offset="0.620" stop-color="#1d66a8"/><stop offset="0.653" stop-color="#2c7aba"/><stop offset="0.672" stop-color="#1c65a8"/><stop offset="0.686" stop-color="#185899"/><stop offset="0.708" stop-color="#1a5e9f"/><stop offset="0.734" stop-color="#0d3d7a"/><stop offset="0.821" stop-color="#0e3f7c"/><stop offset="0.847" stop-color="#1a5e9f"/><stop offset="0.861" stop-color="#1f6caf"/><stop offset="0.880" stop-color="#185899"/><stop offset="0.894" stop-color="#124b8a"/><stop offset="0.916" stop-color="#165494"/><stop offset="0.942" stop-color="#0c3b78"/><stop offset="1.000" stop-color="#0c3a77"/></linearGradient><linearGradient id="hb24" x1="258.5" y1="0" x2="395.5" y2="0" gradientUnits="userSpaceOnUse"><stop offset="0.000" stop-color="#0c3a77"/><stop offset="0.077" stop-color="#0e417e"/><stop offset="0.106" stop-color="#0e417e"/><stop offset="0.182" stop-color="#0d3c78"/><stop offset="0.226" stop-color="#0f4381"/><stop offset="0.281" stop-color="#0e417e"/><stop offset="0.347" stop-color="#175899"/><stop offset="0.383" stop-color="#2877b8"/><stop offset="0.467" stop-color="#80b8dc"/><stop offset="0.511" stop-color="#a7cce6"/><stop offset="0.536" stop-color="#a8cce7"/><stop offset="0.558" stop-color="#85bbdd"/><stop offset="0.602" stop-color="#2373b6"/><stop offset="0.620" stop-color="#1d68aa"/><stop offset="0.653" stop-color="#2d7bbb"/><stop offset="0.668" stop-color="#1f6caf"/><stop offset="0.682" stop-color="#185a9a"/><stop offset="0.708" stop-color="#1a5ea0"/><stop offset="0.734" stop-color="#0d3d7a"/><stop offset="0.821" stop-color="#0e3f7c"/><stop offset="0.843" stop-color="#185899"/><stop offset="0.861" stop-color="#1f6cb0"/><stop offset="0.880" stop-color="#18599a"/><stop offset="0.894" stop-color="#124b8a"/><stop offset="0.916" stop-color="#165494"/><stop offset="0.942" stop-color="#0c3b78"/><stop offset="1.000" stop-color="#0c3a77"/></linearGradient><linearGradient id="hb25" x1="258.5" y1="0" x2="395.5" y2="0" gradientUnits="userSpaceOnUse"><stop offset="0.000" stop-color="#0c3a77"/><stop offset="0.077" stop-color="#0e417e"/><stop offset="0.106" stop-color="#0e417e"/><stop offset="0.179" stop-color="#0c3b78"/><stop offset="0.226" stop-color="#104482"/><stop offset="0.274" stop-color="#0f417f"/><stop offset="0.339" stop-color="#185999"/><stop offset="0.376" stop-color="#2877b8"/><stop offset="0.474" stop-color="#91c1e1"/><stop offset="0.515" stop-color="#afd0e9"/><stop offset="0.540" stop-color="#accee8"/><stop offset="0.562" stop-color="#82badc"/><stop offset="0.599" stop-color="#2d7bba"/><stop offset="0.617" stop-color="#1e6aad"/><stop offset="0.653" stop-color="#2f7dbb"/><stop offset="0.668" stop-color="#1f6db0"/><stop offset="0.686" stop-color="#185a9a"/><stop offset="0.708" stop-color="#1a5fa0"/><stop offset="0.734" stop-color="#0d3d7a"/><stop offset="0.821" stop-color="#0e3f7c"/><stop offset="0.843" stop-color="#18599a"/><stop offset="0.861" stop-color="#206db1"/><stop offset="0.894" stop-color="#134c8a"/><stop offset="0.912" stop-color="#175697"/><stop offset="0.942" stop-color="#0c3b78"/><stop offset="1.000" stop-color="#0c3a77"/></linearGradient><linearGradient id="hb26" x1="258.5" y1="0" x2="395.5" y2="0" gradientUnits="userSpaceOnUse"><stop offset="0.000" stop-color="#0c3a77"/><stop offset="0.077" stop-color="#0e417e"/><stop offset="0.106" stop-color="#0e417e"/><stop offset="0.179" stop-color="#0d3c78"/><stop offset="0.226" stop-color="#104583"/><stop offset="0.281" stop-color="#104583"/><stop offset="0.347" stop-color="#1c64a6"/><stop offset="0.372" stop-color="#2c7aba"/><stop offset="0.464" stop-color="#8ebfe0"/><stop offset="0.511" stop-color="#b5d3ea"/><stop offset="0.536" stop-color="#b6d3eb"/><stop offset="0.558" stop-color="#92c1e1"/><stop offset="0.588" stop-color="#4891c6"/><stop offset="0.609" stop-color="#2171b5"/><stop offset="0.628" stop-color="#206fb3"/><stop offset="0.653" stop-color="#317ebc"/><stop offset="0.672" stop-color="#1d68aa"/><stop offset="0.686" stop-color="#185a9b"/><stop offset="0.708" stop-color="#1a5fa1"/><stop offset="0.734" stop-color="#0d3d7a"/><stop offset="0.821" stop-color="#0e3f7c"/><stop offset="0.843" stop-color="#18599a"/><stop offset="0.858" stop-color="#1f6db0"/><stop offset="0.872" stop-color="#1c65a8"/><stop offset="0.891" stop-color="#134d8c"/><stop offset="0.916" stop-color="#165595"/><stop offset="0.938" stop-color="#0d3d79"/><stop offset="1.000" stop-color="#0c3a77"/></linearGradient><linearGradient id="hb27" x1="258.5" y1="0" x2="395.5" y2="0" gradientUnits="userSpaceOnUse"><stop offset="0.000" stop-color="#0c3a77"/><stop offset="0.077" stop-color="#0e417e"/><stop offset="0.109" stop-color="#0e3f7d"/><stop offset="0.186" stop-color="#0d3d7a"/><stop offset="0.226" stop-color="#104684"/><stop offset="0.274" stop-color="#114785"/><stop offset="0.339" stop-color="#1c64a7"/><stop offset="0.365" stop-color="#2c7aba"/><stop offset="0.442" stop-color="#7db7db"/><stop offset="0.496" stop-color="#b5d3ea"/><stop offset="0.533" stop-color="#bfd8ed"/><stop offset="0.555" stop-color="#a1c9e5"/><stop offset="0.584" stop-color="#559ccc"/><stop offset="0.609" stop-color="#2473b6"/><stop offset="0.631" stop-color="#2574b7"/><stop offset="0.653" stop-color="#337fbd"/><stop offset="0.672" stop-color="#1e69ac"/><stop offset="0.686" stop-color="#185b9c"/><stop offset="0.708" stop-color="#1a60a2"/><stop offset="0.734" stop-color="#0d3d7a"/><stop offset="0.821" stop-color="#0e3f7c"/><stop offset="0.843" stop-color="#185a9a"/><stop offset="0.858" stop-color="#206eb1"/><stop offset="0.872" stop-color="#1d66a8"/><stop offset="0.891" stop-color="#134d8c"/><stop offset="0.916" stop-color="#165595"/><stop offset="0.942" stop-color="#0c3b78"/><stop offset="1.000" stop-color="#0c3a77"/></linearGradient><linearGradient id="hb28" x1="258.5" y1="0" x2="395.5" y2="0" gradientUnits="userSpaceOnUse"><stop offset="0.000" stop-color="#0c3a77"/><stop offset="0.077" stop-color="#0e417e"/><stop offset="0.109" stop-color="#0e3f7d"/><stop offset="0.190" stop-color="#0e3f7c"/><stop offset="0.226" stop-color="#114886"/><stop offset="0.270" stop-color="#124987"/><stop offset="0.339" stop-color="#1f6bae"/><stop offset="0.376" stop-color="#428cc4"/><stop offset="0.442" stop-color="#87bcde"/><stop offset="0.500" stop-color="#bfd7ed"/><stop offset="0.522" stop-color="#d5e4f3"/><stop offset="0.536" stop-color="#d0e2f2"/><stop offset="0.573" stop-color="#77b4d9"/><stop offset="0.602" stop-color="#317fbc"/><stop offset="0.620" stop-color="#2171b5"/><stop offset="0.653" stop-color="#3481be"/><stop offset="0.672" stop-color="#1e6aad"/><stop offset="0.686" stop-color="#195b9c"/><stop offset="0.708" stop-color="#1b60a2"/><stop offset="0.734" stop-color="#0d3d7a"/><stop offset="0.821" stop-color="#0e3f7c"/><stop offset="0.843" stop-color="#185a9b"/><stop offset="0.861" stop-color="#206fb3"/><stop offset="0.894" stop-color="#134c8b"/><stop offset="0.916" stop-color="#165696"/><stop offset="0.942" stop-color="#0c3b78"/><stop offset="1.000" stop-color="#0c3a77"/></linearGradient><linearGradient id="hb29" x1="258.5" y1="0" x2="395.5" y2="0" gradientUnits="userSpaceOnUse"><stop offset="0.000" stop-color="#0c3a77"/><stop offset="0.077" stop-color="#0e417e"/><stop offset="0.109" stop-color="#0e407d"/><stop offset="0.186" stop-color="#0e3f7c"/><stop offset="0.226" stop-color="#124a88"/><stop offset="0.274" stop-color="#134e8d"/><stop offset="0.343" stop-color="#2575b7"/><stop offset="0.416" stop-color="#76b3d9"/><stop offset="0.489" stop-color="#c7dbef"/><stop offset="0.507" stop-color="#f3f7fc"/><stop offset="0.518" stop-color="#f5e6e4"/><stop offset="0.533" stop-color="#f5e5e3"/><stop offset="0.544" stop-color="#f0f6fb"/><stop offset="0.555" stop-color="#ccdff1"/><stop offset="0.569" stop-color="#88bdde"/><stop offset="0.599" stop-color="#3c87c1"/><stop offset="0.617" stop-color="#2474b7"/><stop offset="0.653" stop-color="#3683be"/><stop offset="0.672" stop-color="#1f6bae"/><stop offset="0.686" stop-color="#195c9d"/><stop offset="0.708" stop-color="#1b61a3"/><stop offset="0.734" stop-color="#0d3d7a"/><stop offset="0.821" stop-color="#0e3f7c"/><stop offset="0.843" stop-color="#185b9b"/><stop offset="0.861" stop-color="#2170b4"/><stop offset="0.880" stop-color="#195b9c"/><stop offset="0.894" stop-color="#134c8b"/><stop offset="0.916" stop-color="#175696"/><stop offset="0.942" stop-color="#0c3b78"/><stop offset="1.000" stop-color="#0c3a77"/></linearGradient><linearGradient id="hb30" x1="258.5" y1="0" x2="395.5" y2="0" gradientUnits="userSpaceOnUse"><stop offset="0.000" stop-color="#0c3a77"/><stop offset="0.077" stop-color="#0f417e"/><stop offset="0.113" stop-color="#0e3f7c"/><stop offset="0.190" stop-color="#0f427f"/><stop offset="0.230" stop-color="#134c8a"/><stop offset="0.281" stop-color="#165595"/><stop offset="0.336" stop-color="#2776b8"/><stop offset="0.409" stop-color="#7ab5da"/><stop offset="0.478" stop-color="#c7dbef"/><stop offset="0.493" stop-color="#edf3fa"/><stop offset="0.496" stop-color="#f5eff0"/><stop offset="0.504" stop-color="#f8cabe"/><stop offset="0.515" stop-color="#f9b4a0"/><stop offset="0.533" stop-color="#f9b29d"/><stop offset="0.540" stop-color="#f9bcaa"/><stop offset="0.547" stop-color="#f7d6ce"/><stop offset="0.551" stop-color="#f5ecec"/><stop offset="0.555" stop-color="#edf4fa"/><stop offset="0.566" stop-color="#bad5ec"/><stop offset="0.577" stop-color="#7bb6da"/><stop offset="0.599" stop-color="#408bc3"/><stop offset="0.617" stop-color="#2876b8"/><stop offset="0.639" stop-color="#3380bd"/><stop offset="0.653" stop-color="#3884bf"/><stop offset="0.672" stop-color="#1f6caf"/><stop offset="0.686" stop-color="#195c9e"/><stop offset="0.704" stop-color="#1c64a7"/><stop offset="0.734" stop-color="#0d3d7a"/><stop offset="0.821" stop-color="#0e3f7c"/><stop offset="0.847" stop-color="#1b62a3"/><stop offset="0.861" stop-color="#2171b5"/><stop offset="0.880" stop-color="#195b9c"/><stop offset="0.894" stop-color="#134d8c"/><stop offset="0.916" stop-color="#175697"/><stop offset="0.938" stop-color="#0d3d79"/><stop offset="1.000" stop-color="#0c3a77"/></linearGradient><linearGradient id="hb31" x1="258.5" y1="0" x2="395.5" y2="0" gradientUnits="userSpaceOnUse"><stop offset="0.000" stop-color="#0c3a77"/><stop offset="0.077" stop-color="#0f417e"/><stop offset="0.109" stop-color="#0e407e"/><stop offset="0.182" stop-color="#0f417e"/><stop offset="0.226" stop-color="#144f8f"/><stop offset="0.270" stop-color="#175696"/><stop offset="0.325" stop-color="#2575b7"/><stop offset="0.405" stop-color="#81b9dc"/><stop offset="0.471" stop-color="#c9ddf0"/><stop offset="0.485" stop-color="#f1f6fb"/><stop offset="0.496" stop-color="#f9b6a3"/><stop offset="0.504" stop-color="#fb9a7d"/><stop offset="0.511" stop-color="#fb8e6e"/><stop offset="0.536" stop-color="#fb8c6d"/><stop offset="0.544" stop-color="#fb997c"/><stop offset="0.551" stop-color="#f9b8a6"/><stop offset="0.558" stop-color="#f5ecec"/><stop offset="0.562" stop-color="#eaf2f9"/><stop offset="0.569" stop-color="#caddf0"/><stop offset="0.580" stop-color="#7eb7db"/><stop offset="0.591" stop-color="#559ccc"/><stop offset="0.613" stop-color="#2d7bba"/><stop offset="0.631" stop-color="#2f7cbb"/><stop offset="0.653" stop-color="#3a86c0"/><stop offset="0.672" stop-color="#1f6db0"/><stop offset="0.686" stop-color="#195d9e"/><stop offset="0.704" stop-color="#1c65a7"/><stop offset="0.734" stop-color="#0d3e7a"/><stop offset="0.821" stop-color="#0e3f7c"/><stop offset="0.843" stop-color="#195b9c"/><stop offset="0.861" stop-color="#2171b5"/><stop offset="0.880" stop-color="#195c9d"/><stop offset="0.894" stop-color="#134d8c"/><stop offset="0.916" stop-color="#175797"/><stop offset="0.938" stop-color="#0d3d79"/><stop offset="1.000" stop-color="#0c3a77"/></linearGradient><linearGradient id="hb32" x1="258.5" y1="0" x2="395.5" y2="0" gradientUnits="userSpaceOnUse"><stop offset="0.000" stop-color="#0c3a77"/><stop offset="0.077" stop-color="#0f417f"/><stop offset="0.113" stop-color="#0e407d"/><stop offset="0.186" stop-color="#104482"/><stop offset="0.226" stop-color="#155393"/><stop offset="0.270" stop-color="#195b9c"/><stop offset="0.318" stop-color="#2877b8"/><stop offset="0.380" stop-color="#6dafd7"/><stop offset="0.442" stop-color="#afd0e9"/><stop offset="0.467" stop-color="#d2e2f2"/><stop offset="0.478" stop-color="#f1f6fb"/><stop offset="0.493" stop-color="#fb997b"/><stop offset="0.500" stop-color="#f97e62"/><stop offset="0.515" stop-color="#f66c53"/><stop offset="0.536" stop-color="#f66d54"/><stop offset="0.547" stop-color="#f98165"/><stop offset="0.551" stop-color="#fb8e6f"/><stop offset="0.558" stop-color="#f9bba9"/><stop offset="0.566" stop-color="#f3f7fc"/><stop offset="0.577" stop-color="#bbd5ec"/><stop offset="0.588" stop-color="#6dafd7"/><stop offset="0.602" stop-color="#418bc3"/><stop offset="0.620" stop-color="#2d7bba"/><stop offset="0.653" stop-color="#3c88c1"/><stop offset="0.672" stop-color="#206eb1"/><stop offset="0.686" stop-color="#1a5e9f"/><stop offset="0.708" stop-color="#1c63a5"/><stop offset="0.734" stop-color="#0d3e7a"/><stop offset="0.821" stop-color="#0e3f7c"/><stop offset="0.843" stop-color="#195c9d"/><stop offset="0.861" stop-color="#2272b6"/><stop offset="0.880" stop-color="#195c9d"/><stop offset="0.894" stop-color="#134d8c"/><stop offset="0.912" stop-color="#18599a"/><stop offset="0.942" stop-color="#0c3b78"/><stop offset="1.000" stop-color="#0c3a77"/></linearGradient><linearGradient id="hb33" x1="258.5" y1="0" x2="395.5" y2="0" gradientUnits="userSpaceOnUse"><stop offset="0.000" stop-color="#0c3b77"/><stop offset="0.077" stop-color="#0f427f"/><stop offset="0.109" stop-color="#0f427f"/><stop offset="0.179" stop-color="#104582"/><stop offset="0.230" stop-color="#175797"/><stop offset="0.277" stop-color="#1c65a7"/><stop offset="0.314" stop-color="#2d7bbb"/><stop offset="0.372" stop-color="#6eafd7"/><stop offset="0.416" stop-color="#a2c9e5"/><stop offset="0.460" stop-color="#d2e2f2"/><stop offset="0.471" stop-color="#eff5fb"/><stop offset="0.474" stop-color="#f5e7e6"/><stop offset="0.485" stop-color="#fc9677"/><stop offset="0.496" stop-color="#f66750"/><stop offset="0.511" stop-color="#f2513d"/><stop offset="0.536" stop-color="#f2503d"/><stop offset="0.547" stop-color="#f5634c"/><stop offset="0.558" stop-color="#fc9171"/><stop offset="0.566" stop-color="#f8cbbf"/><stop offset="0.569" stop-color="#f5eeef"/><stop offset="0.573" stop-color="#e7f0f8"/><stop offset="0.580" stop-color="#c3daee"/><stop offset="0.591" stop-color="#6fb0d7"/><stop offset="0.602" stop-color="#4790c6"/><stop offset="0.617" stop-color="#317ebc"/><stop offset="0.653" stop-color="#3e89c2"/><stop offset="0.672" stop-color="#206fb3"/><stop offset="0.686" stop-color="#1a5fa0"/><stop offset="0.704" stop-color="#1d66a9"/><stop offset="0.734" stop-color="#0d3e7b"/><stop offset="0.821" stop-color="#0e3f7c"/><stop offset="0.843" stop-color="#195c9d"/><stop offset="0.858" stop-color="#2272b5"/><stop offset="0.872" stop-color="#1e69ac"/><stop offset="0.891" stop-color="#144e8d"/><stop offset="0.916" stop-color="#175798"/><stop offset="0.938" stop-color="#0d3d7a"/><stop offset="1.000" stop-color="#0c3a77"/></linearGradient><linearGradient id="hb34" x1="258.5" y1="0" x2="395.5" y2="0" gradientUnits="userSpaceOnUse"><stop offset="0.000" stop-color="#0c3b77"/><stop offset="0.077" stop-color="#0f4280"/><stop offset="0.109" stop-color="#0f4380"/><stop offset="0.179" stop-color="#114786"/><stop offset="0.226" stop-color="#195b9c"/><stop offset="0.270" stop-color="#1d68aa"/><stop offset="0.310" stop-color="#3380bd"/><stop offset="0.369" stop-color="#74b3d9"/><stop offset="0.409" stop-color="#a7cce7"/><stop offset="0.453" stop-color="#d1e2f2"/><stop offset="0.464" stop-color="#ecf3fa"/><stop offset="0.467" stop-color="#f5f0f1"/><stop offset="0.478" stop-color="#fb9b7e"/><stop offset="0.485" stop-color="#f77057"/><stop offset="0.496" stop-color="#f14937"/><stop offset="0.511" stop-color="#ed392b"/><stop offset="0.544" stop-color="#f03f30"/><stop offset="0.555" stop-color="#f5604a"/><stop offset="0.562" stop-color="#fa8669"/><stop offset="0.566" stop-color="#fba186"/><stop offset="0.573" stop-color="#f5e6e4"/><stop offset="0.577" stop-color="#ebf2f9"/><stop offset="0.584" stop-color="#c7dcef"/><stop offset="0.595" stop-color="#71b1d8"/><stop offset="0.606" stop-color="#468fc5"/><stop offset="0.620" stop-color="#3380bd"/><stop offset="0.653" stop-color="#418bc3"/><stop offset="0.675" stop-color="#1e69ac"/><stop offset="0.690" stop-color="#1b60a2"/><stop offset="0.704" stop-color="#1d67a9"/><stop offset="0.734" stop-color="#0d3e7b"/><stop offset="0.821" stop-color="#0e3f7c"/><stop offset="0.843" stop-color="#195d9e"/><stop offset="0.858" stop-color="#2272b6"/><stop offset="0.872" stop-color="#1e6aad"/><stop offset="0.891" stop-color="#144f8e"/><stop offset="0.916" stop-color="#175898"/><stop offset="0.938" stop-color="#0d3d7a"/><stop offset="1.000" stop-color="#0c3a77"/></linearGradient><linearGradient id="hb35" x1="258.5" y1="0" x2="395.5" y2="0" gradientUnits="userSpaceOnUse"><stop offset="0.000" stop-color="#0c3b77"/><stop offset="0.077" stop-color="#0f4381"/><stop offset="0.113" stop-color="#0f4381"/><stop offset="0.182" stop-color="#134c8b"/><stop offset="0.230" stop-color="#1b61a3"/><stop offset="0.285" stop-color="#2877b8"/><stop offset="0.354" stop-color="#6aadd5"/><stop offset="0.401" stop-color="#accee8"/><stop offset="0.449" stop-color="#d7e6f4"/><stop offset="0.460" stop-color="#f3f7fc"/><stop offset="0.474" stop-color="#fb8b6c"/><stop offset="0.485" stop-color="#f24f3c"/><stop offset="0.493" stop-color="#ed392b"/><stop offset="0.526" stop-color="#e12e26"/><stop offset="0.551" stop-color="#ee3a2c"/><stop offset="0.562" stop-color="#f66850"/><stop offset="0.569" stop-color="#fb9a7d"/><stop offset="0.577" stop-color="#f6e1dd"/><stop offset="0.580" stop-color="#edf3fa"/><stop offset="0.588" stop-color="#c9ddf0"/><stop offset="0.599" stop-color="#72b1d8"/><stop offset="0.609" stop-color="#468fc5"/><stop offset="0.624" stop-color="#3783bf"/><stop offset="0.653" stop-color="#438dc4"/><stop offset="0.675" stop-color="#1e6aad"/><stop offset="0.690" stop-color="#1b61a3"/><stop offset="0.704" stop-color="#1d68aa"/><stop offset="0.734" stop-color="#0d3e7b"/><stop offset="0.821" stop-color="#0e3f7c"/><stop offset="0.847" stop-color="#1c64a6"/><stop offset="0.861" stop-color="#2574b7"/><stop offset="0.876" stop-color="#1c64a6"/><stop offset="0.894" stop-color="#134e8d"/><stop offset="0.916" stop-color="#175899"/><stop offset="0.938" stop-color="#0d3d7a"/><stop offset="1.000" stop-color="#0c3a77"/></linearGradient><linearGradient id="hb36" x1="258.5" y1="0" x2="395.5" y2="0" gradientUnits="userSpaceOnUse"><stop offset="0.000" stop-color="#0c3b78"/><stop offset="0.073" stop-color="#0f4380"/><stop offset="0.102" stop-color="#114886"/><stop offset="0.161" stop-color="#124a88"/><stop offset="0.234" stop-color="#1d67aa"/><stop offset="0.274" stop-color="#2978b9"/><stop offset="0.347" stop-color="#6baed6"/><stop offset="0.398" stop-color="#b4d2ea"/><stop offset="0.442" stop-color="#d6e5f4"/><stop offset="0.453" stop-color="#eef4fa"/><stop offset="0.456" stop-color="#f5eceb"/><stop offset="0.467" stop-color="#fc9778"/><stop offset="0.482" stop-color="#f04030"/><stop offset="0.500" stop-color="#dc2924"/><stop offset="0.544" stop-color="#dd2924"/><stop offset="0.558" stop-color="#ef3b2c"/><stop offset="0.569" stop-color="#f87a5f"/><stop offset="0.573" stop-color="#fc9677"/><stop offset="0.580" stop-color="#f6dfda"/><stop offset="0.584" stop-color="#edf4fa"/><stop offset="0.591" stop-color="#c9ddf0"/><stop offset="0.602" stop-color="#73b2d8"/><stop offset="0.613" stop-color="#4790c6"/><stop offset="0.628" stop-color="#3b87c1"/><stop offset="0.650" stop-color="#4791c6"/><stop offset="0.664" stop-color="#3480bd"/><stop offset="0.675" stop-color="#1f6baf"/><stop offset="0.686" stop-color="#1b61a3"/><stop offset="0.704" stop-color="#1e68ab"/><stop offset="0.734" stop-color="#0d3e7b"/><stop offset="0.821" stop-color="#0e3f7c"/><stop offset="0.843" stop-color="#195d9f"/><stop offset="0.858" stop-color="#2473b6"/><stop offset="0.872" stop-color="#1f6bae"/><stop offset="0.891" stop-color="#144f8e"/><stop offset="0.916" stop-color="#185899"/><stop offset="0.938" stop-color="#0d3d7a"/><stop offset="1.000" stop-color="#0c3a77"/></linearGradient><linearGradient id="hb37" x1="258.5" y1="0" x2="395.5" y2="0" gradientUnits="userSpaceOnUse"><stop offset="0.000" stop-color="#0d3c78"/><stop offset="0.073" stop-color="#104482"/><stop offset="0.106" stop-color="#124988"/><stop offset="0.161" stop-color="#134d8c"/><stop offset="0.230" stop-color="#1f6db0"/><stop offset="0.266" stop-color="#2d7bba"/><stop offset="0.339" stop-color="#6dafd6"/><stop offset="0.401" stop-color="#c3d9ee"/><stop offset="0.438" stop-color="#dce9f5"/><stop offset="0.449" stop-color="#f4f8fb"/><stop offset="0.464" stop-color="#fb8b6c"/><stop offset="0.474" stop-color="#f14635"/><stop offset="0.482" stop-color="#e53128"/><stop offset="0.507" stop-color="#d01d1f"/><stop offset="0.544" stop-color="#d32020"/><stop offset="0.562" stop-color="#ec382b"/><stop offset="0.569" stop-color="#f45d48"/><stop offset="0.577" stop-color="#fc9475"/><stop offset="0.584" stop-color="#f6dfdb"/><stop offset="0.588" stop-color="#edf4fa"/><stop offset="0.595" stop-color="#c9ddf0"/><stop offset="0.606" stop-color="#74b2d8"/><stop offset="0.617" stop-color="#4a92c7"/><stop offset="0.628" stop-color="#408ac3"/><stop offset="0.653" stop-color="#4891c6"/><stop offset="0.675" stop-color="#1f6db0"/><stop offset="0.690" stop-color="#1b62a4"/><stop offset="0.704" stop-color="#1e69ac"/><stop offset="0.734" stop-color="#0d3e7b"/><stop offset="0.818" stop-color="#0d3e7a"/><stop offset="0.839" stop-color="#175797"/><stop offset="0.858" stop-color="#2574b7"/><stop offset="0.872" stop-color="#1f6caf"/><stop offset="0.891" stop-color="#144f8f"/><stop offset="0.916" stop-color="#185999"/><stop offset="0.938" stop-color="#0d3d7a"/><stop offset="1.000" stop-color="#0c3a77"/></linearGradient><linearGradient id="hb38" x1="258.5" y1="0" x2="395.5" y2="0" gradientUnits="userSpaceOnUse"><stop offset="0.000" stop-color="#0d3c79"/><stop offset="0.073" stop-color="#104684"/><stop offset="0.109" stop-color="#124b8a"/><stop offset="0.172" stop-color="#165595"/><stop offset="0.226" stop-color="#2473b6"/><stop offset="0.274" stop-color="#3b87c1"/><stop offset="0.339" stop-color="#79b5da"/><stop offset="0.394" stop-color="#c7dbef"/><stop offset="0.431" stop-color="#dbe8f5"/><stop offset="0.442" stop-color="#f0f5fb"/><stop offset="0.445" stop-color="#f5eceb"/><stop offset="0.456" stop-color="#fb9b7e"/><stop offset="0.467" stop-color="#f2513d"/><stop offset="0.471" stop-color="#ef3b2c"/><stop offset="0.493" stop-color="#cd1a1e"/><stop offset="0.522" stop-color="#bb141a"/><stop offset="0.540" stop-color="#c2161c"/><stop offset="0.562" stop-color="#e22e26"/><stop offset="0.569" stop-color="#f04332"/><stop offset="0.580" stop-color="#fc9576"/><stop offset="0.588" stop-color="#f6e2de"/><stop offset="0.591" stop-color="#ecf3fa"/><stop offset="0.599" stop-color="#c8ddf0"/><stop offset="0.609" stop-color="#75b3d9"/><stop offset="0.617" stop-color="#569dcd"/><stop offset="0.628" stop-color="#468fc5"/><stop offset="0.653" stop-color="#4a93c7"/><stop offset="0.679" stop-color="#1d68aa"/><stop offset="0.693" stop-color="#1d66a8"/><stop offset="0.708" stop-color="#1d66a9"/><stop offset="0.730" stop-color="#0e417e"/><stop offset="0.781" stop-color="#0c3a77"/><stop offset="0.825" stop-color="#0f4280"/><stop offset="0.858" stop-color="#2675b7"/><stop offset="0.872" stop-color="#1f6cb0"/><stop offset="0.891" stop-color="#14508f"/><stop offset="0.916" stop-color="#18599a"/><stop offset="0.938" stop-color="#0d3d7a"/><stop offset="1.000" stop-color="#0c3a77"/></linearGradient><linearGradient id="hb39" x1="258.5" y1="0" x2="395.5" y2="0" gradientUnits="userSpaceOnUse"><stop offset="0.000" stop-color="#0d3d7a"/><stop offset="0.073" stop-color="#114887"/><stop offset="0.106" stop-color="#144f8e"/><stop offset="0.161" stop-color="#175797"/><stop offset="0.215" stop-color="#2877b8"/><stop offset="0.266" stop-color="#3f8ac2"/><stop offset="0.336" stop-color="#80b9dc"/><stop offset="0.387" stop-color="#c8dcf0"/><stop offset="0.427" stop-color="#e0ebf6"/><stop offset="0.438" stop-color="#f4f6fa"/><stop offset="0.449" stop-color="#faad97"/><stop offset="0.453" stop-color="#fc9171"/><stop offset="0.464" stop-color="#f14736"/><stop offset="0.471" stop-color="#e22f27"/><stop offset="0.493" stop-color="#b7131a"/><stop offset="0.515" stop-color="#a40f17"/><stop offset="0.536" stop-color="#a60f17"/><stop offset="0.551" stop-color="#c2161c"/><stop offset="0.569" stop-color="#e83429"/><stop offset="0.573" stop-color="#f04131"/><stop offset="0.584" stop-color="#fc9779"/><stop offset="0.591" stop-color="#f5e5e3"/><stop offset="0.595" stop-color="#eaf2f9"/><stop offset="0.602" stop-color="#c7dcef"/><stop offset="0.613" stop-color="#76b4d9"/><stop offset="0.624" stop-color="#5299cb"/><stop offset="0.642" stop-color="#4f97ca"/><stop offset="0.657" stop-color="#4891c6"/><stop offset="0.679" stop-color="#1e69ac"/><stop offset="0.690" stop-color="#1c64a6"/><stop offset="0.704" stop-color="#1e6aad"/><stop offset="0.734" stop-color="#0d3e7b"/><stop offset="0.818" stop-color="#0d3e7a"/><stop offset="0.839" stop-color="#175798"/><stop offset="0.854" stop-color="#2272b6"/><stop offset="0.865" stop-color="#2675b7"/><stop offset="0.891" stop-color="#14508f"/><stop offset="0.912" stop-color="#195c9d"/><stop offset="0.942" stop-color="#0c3c78"/><stop offset="1.000" stop-color="#0c3a77"/></linearGradient><filter id="blhb" x="0" y="0" width="1" height="1"><feGaussianBlur stdDeviation="0.4 1.6" edgeMode="duplicate"/></filter><linearGradient id="cbb" x1="0" y1="0" x2="0" y2="1" ><stop offset="0.000" stop-color="#67000d"/><stop offset="0.125" stop-color="#cb181d"/><stop offset="0.250" stop-color="#ef3b2c"/><stop offset="0.375" stop-color="#fc9272"/><stop offset="0.500" stop-color="#f4f8fc"/><stop offset="0.625" stop-color="#c6dbef"/><stop offset="0.750" stop-color="#6baed6"/><stop offset="0.875" stop-color="#2171b5"/><stop offset="1.000" stop-color="#08306b"/></linearGradient><radialGradient id="spred" cx="0.4" cy="0.35" r="0.65"><stop offset="0" stop-color="#ff9aa8"/><stop offset="0.35" stop-color="#d62f4a"/><stop offset="1" stop-color="#8a1028"/></radialGradient><radialGradient id="spblue" cx="0.4" cy="0.35" r="0.65"><stop offset="0" stop-color="#b8e0ff"/><stop offset="0.35" stop-color="#3b8fd4"/><stop offset="1" stop-color="#1c5a98"/></radialGradient><radialGradient id="spgray" cx="0.4" cy="0.35" r="0.65"><stop offset="0" stop-color="#ffffff"/><stop offset="0.35" stop-color="#cfcfcf"/><stop offset="1" stop-color="#9a9a9a"/></radialGradient><clipPath id="cpcz"><polygon points="62.6,174.8 163.4,191.9 137.1,269.0 11.2,239.0"/></clipPath><filter id="fbcz" x="9" y="172" width="157" height="100" filterUnits="userSpaceOnUse"><feGaussianBlur in="SourceGraphic" stdDeviation="1.3" result="col"/><feTurbulence type="fractalNoise" baseFrequency="0.22 0.36" numOctaves="3" seed="3" result="noise"/><feDiffuseLighting in="noise" surfaceScale="2.4" diffuseConstant="1.0" lighting-color="#ffffff" result="light"><feDistantLight azimuth="235" elevation="55"/></feDiffuseLighting><feComposite in="col" in2="light" operator="arithmetic" k1="0.8" k2="0.38" k3="0" k4="0"/></filter><clipPath id="cple"><polygon points="60.8,265.4 163.4,282.8 137.1,356.1 11.0,328.0"/></clipPath><filter id="fble" x="9" y="263" width="157" height="96" filterUnits="userSpaceOnUse"><feGaussianBlur in="SourceGraphic" stdDeviation="1.3" result="col"/><feTurbulence type="fractalNoise" baseFrequency="0.3 0.5" numOctaves="3" seed="7" result="noise"/><feDiffuseLighting in="noise" surfaceScale="4.5" diffuseConstant="1.0" lighting-color="#ffffff" result="light"><feDistantLight azimuth="235" elevation="55"/></feDiffuseLighting><feComposite in="col" in2="light" operator="arithmetic" k1="0.95" k2="0.15" k3="0" k4="0"/></filter><linearGradient id="cbd" x1="0" y1="0" x2="0" y2="1" ><stop offset="0" stop-color="#ff2000"/><stop offset="0.12" stop-color="#ff8c00"/><stop offset="0.21" stop-color="#f8f000"/><stop offset="0.45" stop-color="#10f010"/><stop offset="0.7" stop-color="#00f0f0"/><stop offset="0.88" stop-color="#1030ff"/><stop offset="1" stop-color="#4000ff"/></linearGradient><radialGradient id="espa" cx="0.5" cy="0.45" r="0.6"><stop offset="0" stop-color="#f4f8ec"/><stop offset="0.7" stop-color="#e4ecc8"/><stop offset="1" stop-color="#d8e4b0"/></radialGradient><radialGradient id="espb" cx="0.55" cy="0.45" r="0.6"><stop offset="0" stop-color="#2038c8"/><stop offset="0.55" stop-color="#4a78d8"/><stop offset="1" stop-color="#a8d8e0"/></radialGradient><radialGradient id="espr" cx="0.5" cy="0.5" r="0.55"><stop offset="0" stop-color="#c01010"/><stop offset="0.7" stop-color="#e03020"/><stop offset="1" stop-color="#f0a060"/></radialGradient><linearGradient id="espv" x1="0" y1="0" x2="0" y2="1"><stop offset="0" stop-color="#e4e8b0"/><stop offset="0.3" stop-color="#eef2dc"/><stop offset="0.75" stop-color="#eef0e4"/><stop offset="1" stop-color="#dce4c0"/></linearGradient><linearGradient id="espw" x1="1" y1="0" x2="0" y2="1"><stop offset="0" stop-color="#c8ecec"/><stop offset="0.25" stop-color="#5888d8"/><stop offset="0.55" stop-color="#3058c8"/><stop offset="0.75" stop-color="#80b8e0"/><stop offset="0.85" stop-color="#f0e0b0"/><stop offset="1" stop-color="#e04020"/></linearGradient><radialGradient id="espbl" cx="0.55" cy="0.55" r="0.55"><stop offset="0" stop-color="#1838c0"/><stop offset="0.6" stop-color="#4070d0"/><stop offset="1" stop-color="#a0c0e8" stop-opacity="0.2"/></radialGradient><linearGradient id="espw2" x1="0" y1="0" x2="0" y2="1"><stop offset="0" stop-color="#a8dce4"/><stop offset="0.18" stop-color="#4a78d0"/><stop offset="0.5" stop-color="#3458c4"/><stop offset="0.68" stop-color="#6aa8dc"/><stop offset="0.78" stop-color="#e8f0d8"/><stop offset="0.86" stop-color="#e86040"/><stop offset="1" stop-color="#c02010"/></linearGradient><radialGradient id="znsp" cx="0.38" cy="0.35" r="0.7"><stop offset="0" stop-color="#ffffff"/><stop offset="0.5" stop-color="#c4dbe8"/><stop offset="1" stop-color="#6a8ea8"/></radialGradient><radialGradient id="msp" cx="0.38" cy="0.35" r="0.7"><stop offset="0" stop-color="#fff4ec"/><stop offset="0.5" stop-color="#f0c8a8"/><stop offset="1" stop-color="#c08868"/></radialGradient><radialGradient id="osp" cx="0.38" cy="0.35" r="0.7"><stop offset="0" stop-color="#ff9090"/><stop offset="0.45" stop-color="#e01818"/><stop offset="1" stop-color="#900808"/></radialGradient><radialGradient id="hsp" cx="0.38" cy="0.35" r="0.7"><stop offset="0" stop-color="#ffffff"/><stop offset="1" stop-color="#a8a8a8"/></radialGradient><linearGradient id="cap" x1="0" y1="0" x2="1" y2="0"><stop offset="0" stop-color="#6a6a6a"/><stop offset="0.45" stop-color="#d0d0d0"/><stop offset="0.7" stop-color="#f0f0f0"/><stop offset="1" stop-color="#a0a0a0"/></linearGradient><linearGradient id="capb" x1="0" y1="0" x2="0" y2="1"><stop offset="0.4" stop-color="#c8d8f0" stop-opacity="0"/><stop offset="1" stop-color="#a8bce0" stop-opacity="0.9"/></linearGradient><linearGradient id="pinkbg" x1="0" y1="0" x2="0" y2="1"><stop offset="0" stop-color="#fdf8f8"/><stop offset="1" stop-color="#fcf1f1"/></linearGradient><linearGradient id="parr" x1="0" y1="0" x2="0" y2="1"><stop offset="0" stop-color="#f4c8c8" stop-opacity="0.2"/><stop offset="1" stop-color="#ec8a8a" stop-opacity="0.85"/></linearGradient><linearGradient id="sheet" x1="0" y1="0" x2="1" y2="0.3"><stop offset="0" stop-color="#fafafa"/><stop offset="0.5" stop-color="#e0e0e0"/><stop offset="0.8" stop-color="#8a8a8a"/><stop offset="1" stop-color="#c0c0c0"/></linearGradient><linearGradient id="parr2" gradientUnits="userSpaceOnUse" x1="0" y1="496" x2="0" y2="526"><stop offset="0" stop-color="#f8d0d0" stop-opacity="0.1"/><stop offset="0.6" stop-color="#f4b0b0" stop-opacity="0.6"/><stop offset="1" stop-color="#f09090" stop-opacity="0.85"/></linearGradient><radialGradient id="dend" cx="0.5" cy="0.5" r="0.5"><stop offset="0" stop-color="#eaeaea"/><stop offset="0.7" stop-color="#f2f2f2" stop-opacity="0.9"/><stop offset="1" stop-color="#f6f6f6" stop-opacity="0"/></radialGradient></defs>
<g filter="url(#blha)"><rect x="35.30" y="12.80" width="137.20" height="4.21" fill="url(#ha0)" /><rect x="35.30" y="16.01" width="137.20" height="4.21" fill="url(#ha1)" /><rect x="35.30" y="19.22" width="137.20" height="4.21" fill="url(#ha2)" /><rect x="35.30" y="22.43" width="137.20" height="4.21" fill="url(#ha3)" /><rect x="35.30" y="25.64" width="137.20" height="4.21" fill="url(#ha4)" /><rect x="35.30" y="28.85" width="137.20" height="4.21" fill="url(#ha5)" /><rect x="35.30" y="32.06" width="137.20" height="4.21" fill="url(#ha6)" /><rect x="35.30" y="35.27" width="137.20" height="4.21" fill="url(#ha7)" /><rect x="35.30" y="38.48" width="137.20" height="4.21" fill="url(#ha8)" /><rect x="35.30" y="41.69" width="137.20" height="4.21" fill="url(#ha9)" /><rect x="35.30" y="44.90" width="137.20" height="4.21" fill="url(#ha10)" /><rect x="35.30" y="48.11" width="137.20" height="4.21" fill="url(#ha11)" /><rect x="35.30" y="51.32" width="137.20" height="4.21" fill="url(#ha12)" /><rect x="35.30" y="54.53" width="137.20" height="4.21" fill="url(#ha13)" /><rect x="35.30" y="57.74" width="137.20" height="4.21" fill="url(#ha14)" /><rect x="35.30" y="60.95" width="137.20" height="4.21" fill="url(#ha15)" /><rect x="35.30" y="64.16" width="137.20" height="4.21" fill="url(#ha16)" /><rect x="35.30" y="67.37" width="137.20" height="4.21" fill="url(#ha17)" /><rect x="35.30" y="70.58" width="137.20" height="4.21" fill="url(#ha18)" /><rect x="35.30" y="73.79" width="137.20" height="4.21" fill="url(#ha19)" /><rect x="35.30" y="77.00" width="137.20" height="4.21" fill="url(#ha20)" /><rect x="35.30" y="80.21" width="137.20" height="4.21" fill="url(#ha21)" /><rect x="35.30" y="83.42" width="137.20" height="4.21" fill="url(#ha22)" /><rect x="35.30" y="86.63" width="137.20" height="4.21" fill="url(#ha23)" /><rect x="35.30" y="89.84" width="137.20" height="4.21" fill="url(#ha24)" /><rect x="35.30" y="93.05" width="137.20" height="4.21" fill="url(#ha25)" /><rect x="35.30" y="96.26" width="137.20" height="4.21" fill="url(#ha26)" /><rect x="35.30" y="99.47" width="137.20" height="4.21" fill="url(#ha27)" /><rect x="35.30" y="102.68" width="137.20" height="4.21" fill="url(#ha28)" /><rect x="35.30" y="105.89" width="137.20" height="4.21" fill="url(#ha29)" /><rect x="35.30" y="109.10" width="137.20" height="4.21" fill="url(#ha30)" /><rect x="35.30" y="112.31" width="137.20" height="4.21" fill="url(#ha31)" /><rect x="35.30" y="115.52" width="137.20" height="4.21" fill="url(#ha32)" /><rect x="35.30" y="118.73" width="137.20" height="4.21" fill="url(#ha33)" /><rect x="35.30" y="121.94" width="137.20" height="4.21" fill="url(#ha34)" /><rect x="35.30" y="125.15" width="137.20" height="4.21" fill="url(#ha35)" /><rect x="35.30" y="128.36" width="137.20" height="4.21" fill="url(#ha36)" /><rect x="35.30" y="131.57" width="137.20" height="4.21" fill="url(#ha37)" /><rect x="35.30" y="134.78" width="137.20" height="4.21" fill="url(#ha38)" /><rect x="35.30" y="137.99" width="137.20" height="3.21" fill="url(#ha39)" /></g><line x1="35.30" y1="12.80" x2="172.50" y2="12.80" stroke="#1a1a1a" stroke-width="1.2" /><line x1="35.30" y1="12.20" x2="35.30" y2="141.80" stroke="#1a1a1a" stroke-width="1.2" /><line x1="34.70" y1="141.20" x2="172.50" y2="141.20" stroke="#1a1a1a" stroke-width="1.2" /><line x1="32.30" y1="12.80" x2="35.30" y2="12.80" stroke="#1a1a1a" stroke-width="1" /><text x="31.9" y="16.3" font-size="9.8" text-anchor="end" fill="#222" font-weight="normal" font-style="normal" >50</text><line x1="32.30" y1="44.90" x2="35.30" y2="44.90" stroke="#1a1a1a" stroke-width="1" /><text x="31.9" y="48.4" font-size="9.8" text-anchor="end" fill="#222" font-weight="normal" font-style="normal" >40</text><line x1="32.30" y1="77.00" x2="35.30" y2="77.00" stroke="#1a1a1a" stroke-width="1" /><text x="31.9" y="80.5" font-size="9.8" text-anchor="end" fill="#222" font-weight="normal" font-style="normal" >30</text><line x1="32.30" y1="109.10" x2="35.30" y2="109.10" stroke="#1a1a1a" stroke-width="1" /><text x="31.9" y="112.6" font-size="9.8" text-anchor="end" fill="#222" font-weight="normal" font-style="normal" >20</text><line x1="32.30" y1="141.20" x2="35.30" y2="141.20" stroke="#1a1a1a" stroke-width="1" /><text x="31.9" y="144.7" font-size="9.8" text-anchor="end" fill="#222" font-weight="normal" font-style="normal" >10</text><line x1="35.90" y1="141.20" x2="35.90" y2="144.20" stroke="#1a1a1a" stroke-width="1" /><text x="36.9" y="154.2" font-size="8.6" text-anchor="middle" fill="#222">10<tspan font-size="6" dy="-3.6">−4</tspan></text><line x1="43.31" y1="141.20" x2="43.31" y2="143.00" stroke="#1a1a1a" stroke-width="0.6" /><line x1="47.64" y1="141.20" x2="47.64" y2="143.00" stroke="#1a1a1a" stroke-width="0.6" /><line x1="50.71" y1="141.20" x2="50.71" y2="143.00" stroke="#1a1a1a" stroke-width="0.6" /><line x1="53.09" y1="141.20" x2="53.09" y2="143.00" stroke="#1a1a1a" stroke-width="0.6" /><line x1="55.04" y1="141.20" x2="55.04" y2="143.00" stroke="#1a1a1a" stroke-width="0.6" /><line x1="56.69" y1="141.20" x2="56.69" y2="143.00" stroke="#1a1a1a" stroke-width="0.6" /><line x1="58.12" y1="141.20" x2="58.12" y2="143.00" stroke="#1a1a1a" stroke-width="0.6" /><line x1="59.37" y1="141.20" x2="59.37" y2="143.00" stroke="#1a1a1a" stroke-width="0.6" /><line x1="60.50" y1="141.20" x2="60.50" y2="144.20" stroke="#1a1a1a" stroke-width="1" /><text x="61.5" y="154.2" font-size="8.6" text-anchor="middle" fill="#222">10<tspan font-size="6" dy="-3.6">−3</tspan></text><line x1="67.91" y1="141.20" x2="67.91" y2="143.00" stroke="#1a1a1a" stroke-width="0.6" /><line x1="72.24" y1="141.20" x2="72.24" y2="143.00" stroke="#1a1a1a" stroke-width="0.6" /><line x1="75.31" y1="141.20" x2="75.31" y2="143.00" stroke="#1a1a1a" stroke-width="0.6" /><line x1="77.69" y1="141.20" x2="77.69" y2="143.00" stroke="#1a1a1a" stroke-width="0.6" /><line x1="79.64" y1="141.20" x2="79.64" y2="143.00" stroke="#1a1a1a" stroke-width="0.6" /><line x1="81.29" y1="141.20" x2="81.29" y2="143.00" stroke="#1a1a1a" stroke-width="0.6" /><line x1="82.72" y1="141.20" x2="82.72" y2="143.00" stroke="#1a1a1a" stroke-width="0.6" /><line x1="83.97" y1="141.20" x2="83.97" y2="143.00" stroke="#1a1a1a" stroke-width="0.6" /><line x1="85.10" y1="141.20" x2="85.10" y2="144.20" stroke="#1a1a1a" stroke-width="1" /><text x="86.1" y="154.2" font-size="8.6" text-anchor="middle" fill="#222">10<tspan font-size="6" dy="-3.6">−2</tspan></text><line x1="92.51" y1="141.20" x2="92.51" y2="143.00" stroke="#1a1a1a" stroke-width="0.6" /><line x1="96.84" y1="141.20" x2="96.84" y2="143.00" stroke="#1a1a1a" stroke-width="0.6" /><line x1="99.91" y1="141.20" x2="99.91" y2="143.00" stroke="#1a1a1a" stroke-width="0.6" /><line x1="102.29" y1="141.20" x2="102.29" y2="143.00" stroke="#1a1a1a" stroke-width="0.6" /><line x1="104.24" y1="141.20" x2="104.24" y2="143.00" stroke="#1a1a1a" stroke-width="0.6" /><line x1="105.89" y1="141.20" x2="105.89" y2="143.00" stroke="#1a1a1a" stroke-width="0.6" /><line x1="107.32" y1="141.20" x2="107.32" y2="143.00" stroke="#1a1a1a" stroke-width="0.6" /><line x1="108.57" y1="141.20" x2="108.57" y2="143.00" stroke="#1a1a1a" stroke-width="0.6" /><line x1="109.70" y1="141.20" x2="109.70" y2="144.20" stroke="#1a1a1a" stroke-width="1" /><text x="110.7" y="154.2" font-size="8.6" text-anchor="middle" fill="#222">10<tspan font-size="6" dy="-3.6">−1</tspan></text><line x1="117.11" y1="141.20" x2="117.11" y2="143.00" stroke="#1a1a1a" stroke-width="0.6" /><line x1="121.44" y1="141.20" x2="121.44" y2="143.00" stroke="#1a1a1a" stroke-width="0.6" /><line x1="124.51" y1="141.20" x2="124.51" y2="143.00" stroke="#1a1a1a" stroke-width="0.6" /><line x1="126.89" y1="141.20" x2="126.89" y2="143.00" stroke="#1a1a1a" stroke-width="0.6" /><line x1="128.84" y1="141.20" x2="128.84" y2="143.00" stroke="#1a1a1a" stroke-width="0.6" /><line x1="130.49" y1="141.20" x2="130.49" y2="143.00" stroke="#1a1a1a" stroke-width="0.6" /><line x1="131.92" y1="141.20" x2="131.92" y2="143.00" stroke="#1a1a1a" stroke-width="0.6" /><line x1="133.17" y1="141.20" x2="133.17" y2="143.00" stroke="#1a1a1a" stroke-width="0.6" /><line x1="134.30" y1="141.20" x2="134.30" y2="144.20" stroke="#1a1a1a" stroke-width="1" /><text x="135.3" y="154.2" font-size="8.6" text-anchor="middle" fill="#222">10<tspan font-size="6" dy="-3.6">0</tspan></text><line x1="141.71" y1="141.20" x2="141.71" y2="143.00" stroke="#1a1a1a" stroke-width="0.6" /><line x1="146.04" y1="141.20" x2="146.04" y2="143.00" stroke="#1a1a1a" stroke-width="0.6" /><line x1="149.11" y1="141.20" x2="149.11" y2="143.00" stroke="#1a1a1a" stroke-width="0.6" /><line x1="151.49" y1="141.20" x2="151.49" y2="143.00" stroke="#1a1a1a" stroke-width="0.6" /><line x1="153.44" y1="141.20" x2="153.44" y2="143.00" stroke="#1a1a1a" stroke-width="0.6" /><line x1="155.09" y1="141.20" x2="155.09" y2="143.00" stroke="#1a1a1a" stroke-width="0.6" /><line x1="156.52" y1="141.20" x2="156.52" y2="143.00" stroke="#1a1a1a" stroke-width="0.6" /><line x1="157.77" y1="141.20" x2="157.77" y2="143.00" stroke="#1a1a1a" stroke-width="0.6" /><line x1="158.90" y1="141.20" x2="158.90" y2="144.20" stroke="#1a1a1a" stroke-width="1" /><text x="159.9" y="154.2" font-size="8.6" text-anchor="middle" fill="#222">10<tspan font-size="6" dy="-3.6">1</tspan></text><line x1="166.31" y1="141.20" x2="166.31" y2="143.00" stroke="#1a1a1a" stroke-width="0.6" /><line x1="170.64" y1="141.20" x2="170.64" y2="143.00" stroke="#1a1a1a" stroke-width="0.6" /><text x="104.9" y="166.0" font-size="11.5" text-anchor="middle" fill="#222" font-weight="normal" font-style="normal" >τ (s)</text><text x="104.5" y="8.9" font-size="10.2" text-anchor="middle" fill="#222" font-weight="normal" font-style="normal" >CZHE</text><text transform="translate(16.9,78.0) rotate(-90)" font-size="12.1" text-anchor="middle" fill="#222">Temperature (<tspan font-size="7.5" dy="-3.5">o</tspan><tspan dy="3.5">C)</tspan></text><rect x="179.00" y="39.80" width="5.00" height="82.80" fill="url(#cba)" /><text x="186.2" y="42.4" font-size="7.2" text-anchor="start" fill="#222" font-weight="bold" font-style="normal" >800</text><text x="186.2" y="52.8" font-size="7.2" text-anchor="start" fill="#222" font-weight="bold" font-style="normal" >700</text><text x="186.2" y="63.1" font-size="7.2" text-anchor="start" fill="#222" font-weight="bold" font-style="normal" >600</text><text x="186.2" y="73.4" font-size="7.2" text-anchor="start" fill="#222" font-weight="bold" font-style="normal" >500</text><text x="186.2" y="83.8" font-size="7.2" text-anchor="start" fill="#222" font-weight="bold" font-style="normal" >400</text><text x="186.2" y="94.1" font-size="7.2" text-anchor="start" fill="#222" font-weight="bold" font-style="normal" >300</text><text x="186.2" y="104.5" font-size="7.2" text-anchor="start" fill="#222" font-weight="bold" font-style="normal" >200</text><text x="186.2" y="114.8" font-size="7.2" text-anchor="start" fill="#222" font-weight="bold" font-style="normal" >100</text><text x="186.2" y="125.2" font-size="7.2" text-anchor="start" fill="#222" font-weight="bold" font-style="normal" >0</text><text x="173.4" y="33.2" font-size="11.3" text-anchor="start" fill="#222" font-weight="normal" font-style="normal" >γ(ohm)</text><text x="89.2" y="69.8" font-size="11" font-style="italic" fill="#dfe8f2">R<tspan font-size="7.5" font-style="normal" dy="2">ct</tspan></text><text x="152.2" y="83.8" font-size="11" font-style="italic" fill="#dfe8f2">R<tspan font-size="7.5" font-style="normal" dy="2">dif</tspan></text><text x="1.5" y="14.2" font-size="18.5" text-anchor="start" fill="#111" font-weight="normal" font-style="normal" >a</text><g filter="url(#blhb)"><rect x="258.50" y="12.80" width="137.00" height="4.21" fill="url(#hb0)" /><rect x="258.50" y="16.01" width="137.00" height="4.21" fill="url(#hb1)" /><rect x="258.50" y="19.22" width="137.00" height="4.21" fill="url(#hb2)" /><rect x="258.50" y="22.43" width="137.00" height="4.21" fill="url(#hb3)" /><rect x="258.50" y="25.64" width="137.00" height="4.21" fill="url(#hb4)" /><rect x="258.50" y="28.85" width="137.00" height="4.21" fill="url(#hb5)" /><rect x="258.50" y="32.06" width="137.00" height="4.21" fill="url(#hb6)" /><rect x="258.50" y="35.27" width="137.00" height="4.21" fill="url(#hb7)" /><rect x="258.50" y="38.48" width="137.00" height="4.21" fill="url(#hb8)" /><rect x="258.50" y="41.69" width="137.00" height="4.21" fill="url(#hb9)" /><rect x="258.50" y="44.90" width="137.00" height="4.21" fill="url(#hb10)" /><rect x="258.50" y="48.11" width="137.00" height="4.21" fill="url(#hb11)" /><rect x="258.50" y="51.32" width="137.00" height="4.21" fill="url(#hb12)" /><rect x="258.50" y="54.53" width="137.00" height="4.21" fill="url(#hb13)" /><rect x="258.50" y="57.74" width="137.00" height="4.21" fill="url(#hb14)" /><rect x="258.50" y="60.95" width="137.00" height="4.21" fill="url(#hb15)" /><rect x="258.50" y="64.16" width="137.00" height="4.21" fill="url(#hb16)" /><rect x="258.50" y="67.37" width="137.00" height="4.21" fill="url(#hb17)" /><rect x="258.50" y="70.58" width="137.00" height="4.21" fill="url(#hb18)" /><rect x="258.50" y="73.79" width="137.00" height="4.21" fill="url(#hb19)" /><rect x="258.50" y="77.00" width="137.00" height="4.21" fill="url(#hb20)" /><rect x="258.50" y="80.21" width="137.00" height="4.21" fill="url(#hb21)" /><rect x="258.50" y="83.42" width="137.00" height="4.21" fill="url(#hb22)" /><rect x="258.50" y="86.63" width="137.00" height="4.21" fill="url(#hb23)" /><rect x="258.50" y="89.84" width="137.00" height="4.21" fill="url(#hb24)" /><rect x="258.50" y="93.05" width="137.00" height="4.21" fill="url(#hb25)" /><rect x="258.50" y="96.26" width="137.00" height="4.21" fill="url(#hb26)" /><rect x="258.50" y="99.47" width="137.00" height="4.21" fill="url(#hb27)" /><rect x="258.50" y="102.68" width="137.00" height="4.21" fill="url(#hb28)" /><rect x="258.50" y="105.89" width="137.00" height="4.21" fill="url(#hb29)" /><rect x="258.50" y="109.10" width="137.00" height="4.21" fill="url(#hb30)" /><rect x="258.50" y="112.31" width="137.00" height="4.21" fill="url(#hb31)" /><rect x="258.50" y="115.52" width="137.00" height="4.21" fill="url(#hb32)" /><rect x="258.50" y="118.73" width="137.00" height="4.21" fill="url(#hb33)" /><rect x="258.50" y="121.94" width="137.00" height="4.21" fill="url(#hb34)" /><rect x="258.50" y="125.15" width="137.00" height="4.21" fill="url(#hb35)" /><rect x="258.50" y="128.36" width="137.00" height="4.21" fill="url(#hb36)" /><rect x="258.50" y="131.57" width="137.00" height="4.21" fill="url(#hb37)" /><rect x="258.50" y="134.78" width="137.00" height="4.21" fill="url(#hb38)" /><rect x="258.50" y="137.99" width="137.00" height="3.21" fill="url(#hb39)" /></g><line x1="258.50" y1="12.80" x2="395.50" y2="12.80" stroke="#1a1a1a" stroke-width="1.2" /><line x1="258.50" y1="12.20" x2="258.50" y2="141.80" stroke="#1a1a1a" stroke-width="1.2" /><line x1="257.90" y1="141.20" x2="395.50" y2="141.20" stroke="#1a1a1a" stroke-width="1.2" /><line x1="255.50" y1="12.80" x2="258.50" y2="12.80" stroke="#1a1a1a" stroke-width="1" /><text x="255.1" y="16.3" font-size="9.8" text-anchor="end" fill="#222" font-weight="normal" font-style="normal" >50</text><line x1="255.50" y1="44.90" x2="258.50" y2="44.90" stroke="#1a1a1a" stroke-width="1" /><text x="255.1" y="48.4" font-size="9.8" text-anchor="end" fill="#222" font-weight="normal" font-style="normal" >40</text><line x1="255.50" y1="77.00" x2="258.50" y2="77.00" stroke="#1a1a1a" stroke-width="1" /><text x="255.1" y="80.5" font-size="9.8" text-anchor="end" fill="#222" font-weight="normal" font-style="normal" >30</text><line x1="255.50" y1="109.10" x2="258.50" y2="109.10" stroke="#1a1a1a" stroke-width="1" /><text x="255.1" y="112.6" font-size="9.8" text-anchor="end" fill="#222" font-weight="normal" font-style="normal" >20</text><line x1="255.50" y1="141.20" x2="258.50" y2="141.20" stroke="#1a1a1a" stroke-width="1" /><text x="255.1" y="144.7" font-size="9.8" text-anchor="end" fill="#222" font-weight="normal" font-style="normal" >10</text><line x1="259.10" y1="141.20" x2="259.10" y2="144.20" stroke="#1a1a1a" stroke-width="1" /><text x="260.1" y="154.2" font-size="8.6" text-anchor="middle" fill="#222">10<tspan font-size="6" dy="-3.6">−4</tspan></text><line x1="266.51" y1="141.20" x2="266.51" y2="143.00" stroke="#1a1a1a" stroke-width="0.6" /><line x1="270.84" y1="141.20" x2="270.84" y2="143.00" stroke="#1a1a1a" stroke-width="0.6" /><line x1="273.91" y1="141.20" x2="273.91" y2="143.00" stroke="#1a1a1a" stroke-width="0.6" /><line x1="276.29" y1="141.20" x2="276.29" y2="143.00" stroke="#1a1a1a" stroke-width="0.6" /><line x1="278.24" y1="141.20" x2="278.24" y2="143.00" stroke="#1a1a1a" stroke-width="0.6" /><line x1="279.89" y1="141.20" x2="279.89" y2="143.00" stroke="#1a1a1a" stroke-width="0.6" /><line x1="281.32" y1="141.20" x2="281.32" y2="143.00" stroke="#1a1a1a" stroke-width="0.6" /><line x1="282.57" y1="141.20" x2="282.57" y2="143.00" stroke="#1a1a1a" stroke-width="0.6" /><line x1="283.70" y1="141.20" x2="283.70" y2="144.20" stroke="#1a1a1a" stroke-width="1" /><text x="284.7" y="154.2" font-size="8.6" text-anchor="middle" fill="#222">10<tspan font-size="6" dy="-3.6">−3</tspan></text><line x1="291.11" y1="141.20" x2="291.11" y2="143.00" stroke="#1a1a1a" stroke-width="0.6" /><line x1="295.44" y1="141.20" x2="295.44" y2="143.00" stroke="#1a1a1a" stroke-width="0.6" /><line x1="298.51" y1="141.20" x2="298.51" y2="143.00" stroke="#1a1a1a" stroke-width="0.6" /><line x1="300.89" y1="141.20" x2="300.89" y2="143.00" stroke="#1a1a1a" stroke-width="0.6" /><line x1="302.84" y1="141.20" x2="302.84" y2="143.00" stroke="#1a1a1a" stroke-width="0.6" /><line x1="304.49" y1="141.20" x2="304.49" y2="143.00" stroke="#1a1a1a" stroke-width="0.6" /><line x1="305.92" y1="141.20" x2="305.92" y2="143.00" stroke="#1a1a1a" stroke-width="0.6" /><line x1="307.17" y1="141.20" x2="307.17" y2="143.00" stroke="#1a1a1a" stroke-width="0.6" /><line x1="308.30" y1="141.20" x2="308.30" y2="144.20" stroke="#1a1a1a" stroke-width="1" /><text x="309.3" y="154.2" font-size="8.6" text-anchor="middle" fill="#222">10<tspan font-size="6" dy="-3.6">−2</tspan></text><line x1="315.71" y1="141.20" x2="315.71" y2="143.00" stroke="#1a1a1a" stroke-width="0.6" /><line x1="320.04" y1="141.20" x2="320.04" y2="143.00" stroke="#1a1a1a" stroke-width="0.6" /><line x1="323.11" y1="141.20" x2="323.11" y2="143.00" stroke="#1a1a1a" stroke-width="0.6" /><line x1="325.49" y1="141.20" x2="325.49" y2="143.00" stroke="#1a1a1a" stroke-width="0.6" /><line x1="327.44" y1="141.20" x2="327.44" y2="143.00" stroke="#1a1a1a" stroke-width="0.6" /><line x1="329.09" y1="141.20" x2="329.09" y2="143.00" stroke="#1a1a1a" stroke-width="0.6" /><line x1="330.52" y1="141.20" x2="330.52" y2="143.00" stroke="#1a1a1a" stroke-width="0.6" /><line x1="331.77" y1="141.20" x2="331.77" y2="143.00" stroke="#1a1a1a" stroke-width="0.6" /><line x1="332.90" y1="141.20" x2="332.90" y2="144.20" stroke="#1a1a1a" stroke-width="1" /><text x="333.9" y="154.2" font-size="8.6" text-anchor="middle" fill="#222">10<tspan font-size="6" dy="-3.6">−1</tspan></text><line x1="340.31" y1="141.20" x2="340.31" y2="143.00" stroke="#1a1a1a" stroke-width="0.6" /><line x1="344.64" y1="141.20" x2="344.64" y2="143.00" stroke="#1a1a1a" stroke-width="0.6" /><line x1="347.71" y1="141.20" x2="347.71" y2="143.00" stroke="#1a1a1a" stroke-width="0.6" /><line x1="350.09" y1="141.20" x2="350.09" y2="143.00" stroke="#1a1a1a" stroke-width="0.6" /><line x1="352.04" y1="141.20" x2="352.04" y2="143.00" stroke="#1a1a1a" stroke-width="0.6" /><line x1="353.69" y1="141.20" x2="353.69" y2="143.00" stroke="#1a1a1a" stroke-width="0.6" /><line x1="355.12" y1="141.20" x2="355.12" y2="143.00" stroke="#1a1a1a" stroke-width="0.6" /><line x1="356.37" y1="141.20" x2="356.37" y2="143.00" stroke="#1a1a1a" stroke-width="0.6" /><line x1="357.50" y1="141.20" x2="357.50" y2="144.20" stroke="#1a1a1a" stroke-width="1" /><text x="358.5" y="154.2" font-size="8.6" text-anchor="middle" fill="#222">10<tspan font-size="6" dy="-3.6">0</tspan></text><line x1="364.91" y1="141.20" x2="364.91" y2="143.00" stroke="#1a1a1a" stroke-width="0.6" /><line x1="369.24" y1="141.20" x2="369.24" y2="143.00" stroke="#1a1a1a" stroke-width="0.6" /><line x1="372.31" y1="141.20" x2="372.31" y2="143.00" stroke="#1a1a1a" stroke-width="0.6" /><line x1="374.69" y1="141.20" x2="374.69" y2="143.00" stroke="#1a1a1a" stroke-width="0.6" /><line x1="376.64" y1="141.20" x2="376.64" y2="143.00" stroke="#1a1a1a" stroke-width="0.6" /><line x1="378.29" y1="141.20" x2="378.29" y2="143.00" stroke="#1a1a1a" stroke-width="0.6" /><line x1="379.72" y1="141.20" x2="379.72" y2="143.00" stroke="#1a1a1a" stroke-width="0.6" /><line x1="380.97" y1="141.20" x2="380.97" y2="143.00" stroke="#1a1a1a" stroke-width="0.6" /><line x1="382.10" y1="141.20" x2="382.10" y2="144.20" stroke="#1a1a1a" stroke-width="1" /><text x="383.1" y="154.2" font-size="8.6" text-anchor="middle" fill="#222">10<tspan font-size="6" dy="-3.6">1</tspan></text><line x1="389.51" y1="141.20" x2="389.51" y2="143.00" stroke="#1a1a1a" stroke-width="0.6" /><line x1="393.84" y1="141.20" x2="393.84" y2="143.00" stroke="#1a1a1a" stroke-width="0.6" /><text x="328.0" y="166.0" font-size="11.5" text-anchor="middle" fill="#222" font-weight="normal" font-style="normal" >τ (s)</text><text x="333.0" y="8.9" font-size="10.2" text-anchor="middle" fill="#222" font-weight="normal" font-style="normal" >LE</text><text transform="translate(239.8,78.0) rotate(-90)" font-size="11.5" text-anchor="middle" fill="#222">Temperature (<tspan font-size="7.1" dy="-3.5">o</tspan><tspan dy="3.5">C)</tspan></text><rect x="402.00" y="39.80" width="5.00" height="82.80" fill="url(#cbb)" /><text x="409.2" y="42.4" font-size="7.2" text-anchor="start" fill="#222" font-weight="bold" font-style="normal" >800</text><text x="409.2" y="52.8" font-size="7.2" text-anchor="start" fill="#222" font-weight="bold" font-style="normal" >700</text><text x="409.2" y="63.1" font-size="7.2" text-anchor="start" fill="#222" font-weight="bold" font-style="normal" >600</text><text x="409.2" y="73.4" font-size="7.2" text-anchor="start" fill="#222" font-weight="bold" font-style="normal" >500</text><text x="409.2" y="83.8" font-size="7.2" text-anchor="start" fill="#222" font-weight="bold" font-style="normal" >400</text><text x="409.2" y="94.1" font-size="7.2" text-anchor="start" fill="#222" font-weight="bold" font-style="normal" >300</text><text x="409.2" y="104.5" font-size="7.2" text-anchor="start" fill="#222" font-weight="bold" font-style="normal" >200</text><text x="409.2" y="114.8" font-size="7.2" text-anchor="start" fill="#222" font-weight="bold" font-style="normal" >100</text><text x="409.2" y="125.2" font-size="7.2" text-anchor="start" fill="#222" font-weight="bold" font-style="normal" >0</text><text x="396.4" y="33.2" font-size="11.3" text-anchor="start" fill="#222" font-weight="normal" font-style="normal" >γ(ohm)</text><text x="315.5" y="69.5" font-size="11" font-style="italic" fill="#dfe8f2">R<tspan font-size="7.5" font-style="normal" dy="2">ct</tspan></text><text x="339.2" y="64.8" font-size="10.3" text-anchor="start" fill="#e8eef6" font-weight="normal" font-style="normal" >Passivation</text><text x="370.5" y="85" font-size="11" font-style="italic" fill="#dfe8f2">R<tspan font-size="7.5" font-style="normal" dy="2">dif</tspan></text><text x="226.5" y="15.0" font-size="17.5" text-anchor="start" fill="#111" font-weight="normal" font-style="normal" >b</text><rect x="483.70" y="12.40" width="167.00" height="127.10" fill="none" stroke="#2a2a2a" stroke-width="1.2"/><line x1="480.70" y1="21.70" x2="483.70" y2="21.70" stroke="#2a2a2a" stroke-width="1" /><text x="479.2" y="24.9" font-size="9" text-anchor="end" fill="#222" font-weight="normal" font-style="normal" >−5.5</text><line x1="480.70" y1="43.50" x2="483.70" y2="43.50" stroke="#2a2a2a" stroke-width="1" /><text x="479.2" y="46.7" font-size="9" text-anchor="end" fill="#222" font-weight="normal" font-style="normal" >−6.0</text><line x1="480.70" y1="65.30" x2="483.70" y2="65.30" stroke="#2a2a2a" stroke-width="1" /><text x="479.2" y="68.5" font-size="9" text-anchor="end" fill="#222" font-weight="normal" font-style="normal" >−6.5</text><line x1="480.70" y1="87.10" x2="483.70" y2="87.10" stroke="#2a2a2a" stroke-width="1" /><text x="479.2" y="90.3" font-size="9" text-anchor="end" fill="#222" font-weight="normal" font-style="normal" >−7.0</text><line x1="480.70" y1="108.90" x2="483.70" y2="108.90" stroke="#2a2a2a" stroke-width="1" /><text x="479.2" y="112.1" font-size="9" text-anchor="end" fill="#222" font-weight="normal" font-style="normal" >−7.5</text><line x1="480.70" y1="130.70" x2="483.70" y2="130.70" stroke="#2a2a2a" stroke-width="1" /><text x="479.2" y="133.9" font-size="9" text-anchor="end" fill="#222" font-weight="normal" font-style="normal" >−8.0</text><line x1="481.90" y1="32.60" x2="483.70" y2="32.60" stroke="#2a2a2a" stroke-width="0.8" /><line x1="481.90" y1="54.40" x2="483.70" y2="54.40" stroke="#2a2a2a" stroke-width="0.8" /><line x1="481.90" y1="76.20" x2="483.70" y2="76.20" stroke="#2a2a2a" stroke-width="0.8" /><line x1="481.90" y1="98.00" x2="483.70" y2="98.00" stroke="#2a2a2a" stroke-width="0.8" /><line x1="481.90" y1="119.80" x2="483.70" y2="119.80" stroke="#2a2a2a" stroke-width="0.8" /><line x1="500.40" y1="139.50" x2="500.40" y2="142.50" stroke="#2a2a2a" stroke-width="1" /><text x="500.4" y="151.7" font-size="9" text-anchor="middle" fill="#222" font-weight="normal" font-style="normal" >3.1</text><line x1="533.80" y1="139.50" x2="533.80" y2="142.50" stroke="#2a2a2a" stroke-width="1" /><text x="533.8" y="151.7" font-size="9" text-anchor="middle" fill="#222" font-weight="normal" font-style="normal" >3.2</text><line x1="567.20" y1="139.50" x2="567.20" y2="142.50" stroke="#2a2a2a" stroke-width="1" /><text x="567.2" y="151.7" font-size="9" text-anchor="middle" fill="#222" font-weight="normal" font-style="normal" >3.3</text><line x1="600.60" y1="139.50" x2="600.60" y2="142.50" stroke="#2a2a2a" stroke-width="1" /><text x="600.6" y="151.7" font-size="9" text-anchor="middle" fill="#222" font-weight="normal" font-style="normal" >3.4</text><line x1="634.00" y1="139.50" x2="634.00" y2="142.50" stroke="#2a2a2a" stroke-width="1" /><text x="634.0" y="151.7" font-size="9" text-anchor="middle" fill="#222" font-weight="normal" font-style="normal" >3.5</text><line x1="517.10" y1="139.50" x2="517.10" y2="141.30" stroke="#2a2a2a" stroke-width="0.8" /><line x1="550.50" y1="139.50" x2="550.50" y2="141.30" stroke="#2a2a2a" stroke-width="0.8" /><line x1="583.90" y1="139.50" x2="583.90" y2="141.30" stroke="#2a2a2a" stroke-width="0.8" /><line x1="617.30" y1="139.50" x2="617.30" y2="141.30" stroke="#2a2a2a" stroke-width="0.8" /><text x="566.8" y="169" font-size="11.2" text-anchor="middle" fill="#222">1000/T (K<tspan font-size="7.5" dy="-4">-1</tspan><tspan dy="4">)</tspan></text><text transform="translate(456.6,76) rotate(-90)" font-size="10.8" text-anchor="middle" fill="#222">ln(1/R) (ohm)</text><text x="448.3" y="14.6" font-size="17.5" text-anchor="start" fill="#111" font-weight="normal" font-style="normal" >c</text><line x1="498.70" y1="33.60" x2="644.00" y2="83.50" stroke="#d42f4b" stroke-width="1.2" /><line x1="498.70" y1="30.60" x2="644.00" y2="120.80" stroke="#3a92d2" stroke-width="1.2" /><line x1="498.70" y1="56.20" x2="644.00" y2="126.00" stroke="#c6c6c6" stroke-width="1.2" /><circle cx="498.70" cy="56.00" r="3.10" fill="url(#spgray)" /><circle cx="531.50" cy="72.20" r="3.10" fill="url(#spgray)" /><circle cx="566.40" cy="90.10" r="3.10" fill="url(#spgray)" /><circle cx="603.80" cy="106.80" r="3.10" fill="url(#spgray)" /><circle cx="644.00" cy="125.80" r="3.10" fill="url(#spgray)" /><circle cx="498.70" cy="34.20" r="3.10" fill="url(#spred)" /><circle cx="531.50" cy="45.20" r="3.10" fill="url(#spred)" /><circle cx="566.40" cy="63.30" r="3.10" fill="url(#spred)" /><circle cx="603.80" cy="69.00" r="3.10" fill="url(#spred)" /><circle cx="644.00" cy="84.30" r="3.10" fill="url(#spred)" /><circle cx="498.70" cy="30.70" r="3.10" fill="url(#spblue)" /><circle cx="531.50" cy="54.30" r="3.10" fill="url(#spblue)" /><circle cx="566.40" cy="80.80" r="3.10" fill="url(#spblue)" /><circle cx="603.80" cy="99.70" r="3.10" fill="url(#spblue)" /><circle cx="644.00" cy="120.40" r="3.10" fill="url(#spblue)" /><circle cx="596.50" cy="18.20" r="2.70" fill="url(#spred)" /><text x="605.8" y="20.7" font-size="6.9" fill="#222">CZHE</text><circle cx="596.50" cy="27.10" r="2.70" fill="url(#spblue)" /><text x="605.8" y="29.6" font-size="6.9" fill="#222">LE</text><circle cx="596.50" cy="36.00" r="2.70" fill="url(#spgray)" /><text x="605.8" y="38.5" font-size="6.9" fill="#222">3m Zn(ClO<tspan font-size="5" dy="2">4</tspan><tspan dy="-2">)</tspan><tspan font-size="5" dy="2">2</tspan></text><text x="544.8" y="45.5" font-size="6.9" font-weight="bold" fill="#d42f4b">21.81 kJ mol<tspan font-size="5" dy="-3">-1</tspan></text><text x="505.1" y="96.3" font-size="6.9" font-weight="bold" fill="#8a8a8a">30.16 kJ mol<tspan font-size="5" dy="-3">-1</tspan></text><text x="599.9" y="95.6" font-size="6.9" font-weight="bold" fill="#3a92d2">38.83 kJ mol<tspan font-size="5" dy="-3">-1</tspan></text><g clip-path="url(#cpcz)"><g filter="url(#fbcz)"><path d="M8 171h5v5h-5zM11 171h5v5h-5zM17 171h5v5h-5zM20 171h5v5h-5zM23 171h5v5h-5zM107 171h5v5h-5zM8 174h5v5h-5zM11 174h5v5h-5zM20 174h5v5h-5zM26 174h5v5h-5zM29 174h5v5h-5zM32 174h5v5h-5zM8 177h5v5h-5zM11 177h5v5h-5zM14 177h5v5h-5zM26 177h5v5h-5zM29 177h5v5h-5zM32 177h5v5h-5zM50 177h5v5h-5zM92 177h5v5h-5zM95 177h5v5h-5zM29 180h5v5h-5zM41 180h5v5h-5zM92 180h5v5h-5zM8 183h5v5h-5zM11 183h5v5h-5zM14 183h5v5h-5zM26 183h5v5h-5zM29 183h5v5h-5zM41 183h5v5h-5zM44 183h5v5h-5zM65 183h5v5h-5zM77 183h5v5h-5zM83 183h5v5h-5zM92 183h5v5h-5zM95 183h5v5h-5zM11 186h5v5h-5zM38 186h5v5h-5zM41 186h5v5h-5zM56 186h5v5h-5zM59 186h5v5h-5zM62 186h5v5h-5zM65 186h5v5h-5zM74 186h5v5h-5zM80 186h5v5h-5zM89 186h5v5h-5zM92 186h5v5h-5zM98 186h5v5h-5zM14 189h5v5h-5zM32 189h5v5h-5zM35 189h5v5h-5zM38 189h5v5h-5zM44 189h5v5h-5zM50 189h5v5h-5zM53 189h5v5h-5zM59 189h5v5h-5zM62 189h5v5h-5zM65 189h5v5h-5zM71 189h5v5h-5zM74 189h5v5h-5zM77 189h5v5h-5zM8 192h5v5h-5zM11 192h5v5h-5zM23 192h5v5h-5zM26 192h5v5h-5zM29 192h5v5h-5zM32 192h5v5h-5zM35 192h5v5h-5zM38 192h5v5h-5zM53 192h5v5h-5zM56 192h5v5h-5zM71 192h5v5h-5zM74 192h5v5h-5zM89 192h5v5h-5zM122 192h5v5h-5zM125 192h5v5h-5zM8 195h5v5h-5zM11 195h5v5h-5zM17 195h5v5h-5zM29 195h5v5h-5zM38 195h5v5h-5zM56 195h5v5h-5zM59 195h5v5h-5zM62 195h5v5h-5zM86 195h5v5h-5zM128 195h5v5h-5zM11 198h5v5h-5zM14 198h5v5h-5zM23 198h5v5h-5zM29 198h5v5h-5zM77 198h5v5h-5zM83 198h5v5h-5zM101 198h5v5h-5zM104 198h5v5h-5zM107 198h5v5h-5zM14 201h5v5h-5zM26 201h5v5h-5zM74 201h5v5h-5zM92 201h5v5h-5zM95 201h5v5h-5zM101 201h5v5h-5zM104 201h5v5h-5zM74 204h5v5h-5zM77 204h5v5h-5zM83 204h5v5h-5zM89 204h5v5h-5zM92 204h5v5h-5zM95 204h5v5h-5zM98 204h5v5h-5zM107 204h5v5h-5zM74 207h5v5h-5zM86 207h5v5h-5zM92 207h5v5h-5zM98 207h5v5h-5zM101 207h5v5h-5zM104 207h5v5h-5zM107 207h5v5h-5zM89 210h5v5h-5zM95 210h5v5h-5zM98 210h5v5h-5zM107 210h5v5h-5zM110 210h5v5h-5zM86 213h5v5h-5zM89 213h5v5h-5zM110 213h5v5h-5zM80 216h5v5h-5zM83 216h5v5h-5zM89 216h5v5h-5zM92 216h5v5h-5zM95 216h5v5h-5zM98 216h5v5h-5zM110 216h5v5h-5zM77 219h5v5h-5zM80 219h5v5h-5zM83 219h5v5h-5zM86 219h5v5h-5zM95 219h5v5h-5zM110 219h5v5h-5zM113 219h5v5h-5zM128 219h5v5h-5zM131 219h5v5h-5zM152 219h5v5h-5zM74 222h5v5h-5zM77 222h5v5h-5zM80 222h5v5h-5zM86 222h5v5h-5zM92 222h5v5h-5zM110 222h5v5h-5zM113 222h5v5h-5zM149 222h5v5h-5zM152 222h5v5h-5zM155 222h5v5h-5zM77 225h5v5h-5zM80 225h5v5h-5zM86 225h5v5h-5zM89 225h5v5h-5zM92 225h5v5h-5zM107 225h5v5h-5zM113 225h5v5h-5zM149 225h5v5h-5zM152 225h5v5h-5zM74 228h5v5h-5zM77 228h5v5h-5zM83 228h5v5h-5zM92 228h5v5h-5zM95 228h5v5h-5zM98 228h5v5h-5zM101 228h5v5h-5zM104 228h5v5h-5zM107 228h5v5h-5zM110 228h5v5h-5zM119 228h5v5h-5zM122 228h5v5h-5zM128 228h5v5h-5zM134 228h5v5h-5zM137 228h5v5h-5zM140 228h5v5h-5zM74 231h5v5h-5zM101 231h5v5h-5zM104 231h5v5h-5zM110 231h5v5h-5zM119 231h5v5h-5zM122 231h5v5h-5zM131 231h5v5h-5zM137 231h5v5h-5zM146 231h5v5h-5zM149 231h5v5h-5zM164 231h5v5h-5zM104 234h5v5h-5zM113 234h5v5h-5zM116 234h5v5h-5zM119 234h5v5h-5zM122 234h5v5h-5zM137 234h5v5h-5zM155 234h5v5h-5zM158 234h5v5h-5zM131 237h5v5h-5zM134 237h5v5h-5zM140 237h5v5h-5zM134 240h5v5h-5zM137 240h5v5h-5zM149 240h5v5h-5zM155 240h5v5h-5zM161 240h5v5h-5zM59 243h5v5h-5zM134 243h5v5h-5zM137 243h5v5h-5zM140 243h5v5h-5zM146 243h5v5h-5zM152 243h5v5h-5zM155 243h5v5h-5zM158 243h5v5h-5zM164 243h5v5h-5zM47 246h5v5h-5zM59 246h5v5h-5zM137 246h5v5h-5zM143 246h5v5h-5zM149 246h5v5h-5zM152 246h5v5h-5zM155 246h5v5h-5zM161 246h5v5h-5zM47 249h5v5h-5zM50 249h5v5h-5zM56 249h5v5h-5zM59 249h5v5h-5zM62 249h5v5h-5zM68 249h5v5h-5zM77 249h5v5h-5zM143 249h5v5h-5zM149 249h5v5h-5zM152 249h5v5h-5zM47 252h5v5h-5zM50 252h5v5h-5zM53 252h5v5h-5zM56 252h5v5h-5zM59 252h5v5h-5zM62 252h5v5h-5zM80 252h5v5h-5zM143 252h5v5h-5zM146 252h5v5h-5zM164 252h5v5h-5zM53 255h5v5h-5zM62 255h5v5h-5zM65 255h5v5h-5zM68 255h5v5h-5zM143 255h5v5h-5zM149 255h5v5h-5zM152 255h5v5h-5zM155 255h5v5h-5zM44 258h5v5h-5zM68 258h5v5h-5zM71 258h5v5h-5zM143 258h5v5h-5zM149 258h5v5h-5zM158 258h5v5h-5zM161 258h5v5h-5zM29 261h5v5h-5zM32 261h5v5h-5zM41 261h5v5h-5zM44 261h5v5h-5zM53 261h5v5h-5zM56 261h5v5h-5zM59 261h5v5h-5zM68 261h5v5h-5zM71 261h5v5h-5zM140 261h5v5h-5zM143 261h5v5h-5zM146 261h5v5h-5zM149 261h5v5h-5zM158 261h5v5h-5zM164 261h5v5h-5zM32 264h5v5h-5zM35 264h5v5h-5zM41 264h5v5h-5zM44 264h5v5h-5zM50 264h5v5h-5zM59 264h5v5h-5zM62 264h5v5h-5zM65 264h5v5h-5zM68 264h5v5h-5zM71 264h5v5h-5zM74 264h5v5h-5zM146 264h5v5h-5zM149 264h5v5h-5zM161 264h5v5h-5zM164 264h5v5h-5zM8 267h5v5h-5zM35 267h5v5h-5zM38 267h5v5h-5zM41 267h5v5h-5zM44 267h5v5h-5zM47 267h5v5h-5zM56 267h5v5h-5zM59 267h5v5h-5zM62 267h5v5h-5zM71 267h5v5h-5zM140 267h5v5h-5zM143 267h5v5h-5zM149 267h5v5h-5zM155 267h5v5h-5zM158 267h5v5h-5zM161 267h5v5h-5zM29 270h5v5h-5zM38 270h5v5h-5zM41 270h5v5h-5zM44 270h5v5h-5zM47 270h5v5h-5zM56 270h5v5h-5zM59 270h5v5h-5zM62 270h5v5h-5zM68 270h5v5h-5zM71 270h5v5h-5zM74 270h5v5h-5zM80 270h5v5h-5zM125 270h5v5h-5zM137 270h5v5h-5zM143 270h5v5h-5zM146 270h5v5h-5zM149 270h5v5h-5zM155 270h5v5h-5zM158 270h5v5h-5zM164 270h5v5h-5z" fill="#14e546"/><path d="M14 171h5v5h-5zM26 171h5v5h-5zM29 171h5v5h-5zM32 171h5v5h-5zM35 171h5v5h-5zM38 171h5v5h-5zM41 171h5v5h-5zM47 171h5v5h-5zM50 171h5v5h-5zM53 171h5v5h-5zM56 171h5v5h-5zM59 171h5v5h-5zM62 171h5v5h-5zM65 171h5v5h-5zM71 171h5v5h-5zM77 171h5v5h-5zM86 171h5v5h-5zM89 171h5v5h-5zM92 171h5v5h-5zM101 171h5v5h-5zM104 171h5v5h-5zM110 171h5v5h-5zM119 171h5v5h-5zM122 171h5v5h-5zM131 171h5v5h-5zM134 171h5v5h-5zM14 174h5v5h-5zM17 174h5v5h-5zM23 174h5v5h-5zM35 174h5v5h-5zM47 174h5v5h-5zM50 174h5v5h-5zM53 174h5v5h-5zM56 174h5v5h-5zM59 174h5v5h-5zM62 174h5v5h-5zM65 174h5v5h-5zM71 174h5v5h-5zM77 174h5v5h-5zM80 174h5v5h-5zM83 174h5v5h-5zM89 174h5v5h-5zM92 174h5v5h-5zM95 174h5v5h-5zM98 174h5v5h-5zM101 174h5v5h-5zM104 174h5v5h-5zM116 174h5v5h-5zM122 174h5v5h-5zM128 174h5v5h-5zM131 174h5v5h-5zM134 174h5v5h-5zM137 174h5v5h-5zM17 177h5v5h-5zM20 177h5v5h-5zM23 177h5v5h-5zM35 177h5v5h-5zM38 177h5v5h-5zM47 177h5v5h-5zM53 177h5v5h-5zM74 177h5v5h-5zM77 177h5v5h-5zM80 177h5v5h-5zM83 177h5v5h-5zM89 177h5v5h-5zM113 177h5v5h-5zM116 177h5v5h-5zM119 177h5v5h-5zM122 177h5v5h-5zM125 177h5v5h-5zM143 177h5v5h-5zM146 177h5v5h-5zM14 180h5v5h-5zM17 180h5v5h-5zM20 180h5v5h-5zM23 180h5v5h-5zM26 180h5v5h-5zM32 180h5v5h-5zM35 180h5v5h-5zM38 180h5v5h-5zM44 180h5v5h-5zM47 180h5v5h-5zM50 180h5v5h-5zM53 180h5v5h-5zM56 180h5v5h-5zM65 180h5v5h-5zM74 180h5v5h-5zM77 180h5v5h-5zM80 180h5v5h-5zM89 180h5v5h-5zM95 180h5v5h-5zM110 180h5v5h-5zM119 180h5v5h-5zM146 180h5v5h-5zM17 183h5v5h-5zM20 183h5v5h-5zM23 183h5v5h-5zM32 183h5v5h-5zM35 183h5v5h-5zM38 183h5v5h-5zM56 183h5v5h-5zM59 183h5v5h-5zM62 183h5v5h-5zM68 183h5v5h-5zM74 183h5v5h-5zM80 183h5v5h-5zM86 183h5v5h-5zM89 183h5v5h-5zM98 183h5v5h-5zM104 183h5v5h-5zM107 183h5v5h-5zM122 183h5v5h-5zM8 186h5v5h-5zM14 186h5v5h-5zM17 186h5v5h-5zM20 186h5v5h-5zM23 186h5v5h-5zM26 186h5v5h-5zM29 186h5v5h-5zM32 186h5v5h-5zM44 186h5v5h-5zM47 186h5v5h-5zM53 186h5v5h-5zM68 186h5v5h-5zM71 186h5v5h-5zM77 186h5v5h-5zM83 186h5v5h-5zM95 186h5v5h-5zM101 186h5v5h-5zM107 186h5v5h-5zM110 186h5v5h-5zM119 186h5v5h-5zM8 189h5v5h-5zM11 189h5v5h-5zM17 189h5v5h-5zM20 189h5v5h-5zM23 189h5v5h-5zM26 189h5v5h-5zM29 189h5v5h-5zM47 189h5v5h-5zM68 189h5v5h-5zM80 189h5v5h-5zM86 189h5v5h-5zM89 189h5v5h-5zM95 189h5v5h-5zM107 189h5v5h-5zM128 189h5v5h-5zM14 192h5v5h-5zM20 192h5v5h-5zM77 192h5v5h-5zM80 192h5v5h-5zM83 192h5v5h-5zM92 192h5v5h-5zM98 192h5v5h-5zM107 192h5v5h-5zM119 192h5v5h-5zM128 192h5v5h-5zM14 195h5v5h-5zM20 195h5v5h-5zM77 195h5v5h-5zM80 195h5v5h-5zM83 195h5v5h-5zM89 195h5v5h-5zM101 195h5v5h-5zM104 195h5v5h-5zM107 195h5v5h-5zM110 195h5v5h-5zM119 195h5v5h-5zM122 195h5v5h-5zM125 195h5v5h-5zM17 198h5v5h-5zM80 198h5v5h-5zM92 198h5v5h-5zM98 198h5v5h-5zM110 198h5v5h-5zM77 201h5v5h-5zM80 201h5v5h-5zM98 201h5v5h-5zM107 201h5v5h-5zM101 204h5v5h-5zM104 204h5v5h-5zM110 207h5v5h-5zM113 207h5v5h-5zM119 207h5v5h-5zM92 210h5v5h-5zM104 210h5v5h-5zM113 210h5v5h-5zM125 210h5v5h-5zM155 210h5v5h-5zM95 213h5v5h-5zM98 213h5v5h-5zM101 213h5v5h-5zM107 213h5v5h-5zM113 213h5v5h-5zM119 213h5v5h-5zM122 213h5v5h-5zM155 213h5v5h-5zM158 213h5v5h-5zM101 216h5v5h-5zM104 216h5v5h-5zM107 216h5v5h-5zM113 216h5v5h-5zM116 216h5v5h-5zM119 216h5v5h-5zM122 216h5v5h-5zM125 216h5v5h-5zM128 216h5v5h-5zM131 216h5v5h-5zM155 216h5v5h-5zM98 219h5v5h-5zM101 219h5v5h-5zM107 219h5v5h-5zM116 219h5v5h-5zM119 219h5v5h-5zM125 219h5v5h-5zM134 219h5v5h-5zM140 219h5v5h-5zM146 219h5v5h-5zM155 219h5v5h-5zM158 219h5v5h-5zM164 219h5v5h-5zM83 222h5v5h-5zM95 222h5v5h-5zM98 222h5v5h-5zM104 222h5v5h-5zM116 222h5v5h-5zM128 222h5v5h-5zM131 222h5v5h-5zM137 222h5v5h-5zM140 222h5v5h-5zM143 222h5v5h-5zM146 222h5v5h-5zM158 222h5v5h-5zM161 222h5v5h-5zM95 225h5v5h-5zM98 225h5v5h-5zM101 225h5v5h-5zM104 225h5v5h-5zM110 225h5v5h-5zM116 225h5v5h-5zM125 225h5v5h-5zM131 225h5v5h-5zM137 225h5v5h-5zM140 225h5v5h-5zM143 225h5v5h-5zM146 225h5v5h-5zM155 225h5v5h-5zM164 225h5v5h-5zM113 228h5v5h-5zM116 228h5v5h-5zM125 228h5v5h-5zM131 228h5v5h-5zM146 228h5v5h-5zM149 228h5v5h-5zM152 228h5v5h-5zM161 228h5v5h-5zM164 228h5v5h-5zM113 231h5v5h-5zM116 231h5v5h-5zM125 231h5v5h-5zM128 231h5v5h-5zM134 231h5v5h-5zM140 231h5v5h-5zM152 231h5v5h-5zM158 231h5v5h-5zM161 231h5v5h-5zM134 234h5v5h-5zM137 237h5v5h-5zM164 237h5v5h-5zM158 240h5v5h-5zM161 243h5v5h-5zM158 246h5v5h-5zM164 246h5v5h-5zM155 249h5v5h-5zM158 249h5v5h-5zM161 249h5v5h-5zM164 249h5v5h-5zM152 252h5v5h-5zM155 252h5v5h-5zM158 252h5v5h-5zM161 252h5v5h-5zM158 255h5v5h-5zM161 255h5v5h-5zM164 255h5v5h-5zM56 264h5v5h-5zM143 264h5v5h-5zM32 267h5v5h-5zM68 267h5v5h-5zM146 267h5v5h-5zM164 267h5v5h-5zM26 270h5v5h-5zM32 270h5v5h-5zM35 270h5v5h-5zM65 270h5v5h-5zM152 270h5v5h-5zM161 270h5v5h-5z" fill="#18e824"/><path d="M44 171h5v5h-5zM68 171h5v5h-5zM74 171h5v5h-5zM80 171h5v5h-5zM83 171h5v5h-5zM95 171h5v5h-5zM98 171h5v5h-5zM113 171h5v5h-5zM116 171h5v5h-5zM125 171h5v5h-5zM137 171h5v5h-5zM140 171h5v5h-5zM143 171h5v5h-5zM146 171h5v5h-5zM155 171h5v5h-5zM161 171h5v5h-5zM164 171h5v5h-5zM38 174h5v5h-5zM41 174h5v5h-5zM44 174h5v5h-5zM68 174h5v5h-5zM74 174h5v5h-5zM86 174h5v5h-5zM107 174h5v5h-5zM110 174h5v5h-5zM113 174h5v5h-5zM119 174h5v5h-5zM125 174h5v5h-5zM140 174h5v5h-5zM143 174h5v5h-5zM146 174h5v5h-5zM149 174h5v5h-5zM164 174h5v5h-5zM41 177h5v5h-5zM44 177h5v5h-5zM56 177h5v5h-5zM59 177h5v5h-5zM62 177h5v5h-5zM65 177h5v5h-5zM68 177h5v5h-5zM71 177h5v5h-5zM86 177h5v5h-5zM98 177h5v5h-5zM101 177h5v5h-5zM128 177h5v5h-5zM131 177h5v5h-5zM137 177h5v5h-5zM140 177h5v5h-5zM149 177h5v5h-5zM164 177h5v5h-5zM59 180h5v5h-5zM62 180h5v5h-5zM68 180h5v5h-5zM71 180h5v5h-5zM83 180h5v5h-5zM86 180h5v5h-5zM98 180h5v5h-5zM101 180h5v5h-5zM107 180h5v5h-5zM113 180h5v5h-5zM116 180h5v5h-5zM122 180h5v5h-5zM125 180h5v5h-5zM131 180h5v5h-5zM140 180h5v5h-5zM143 180h5v5h-5zM149 180h5v5h-5zM152 180h5v5h-5zM47 183h5v5h-5zM50 183h5v5h-5zM53 183h5v5h-5zM71 183h5v5h-5zM101 183h5v5h-5zM110 183h5v5h-5zM116 183h5v5h-5zM128 183h5v5h-5zM152 183h5v5h-5zM35 186h5v5h-5zM50 186h5v5h-5zM86 186h5v5h-5zM104 186h5v5h-5zM122 186h5v5h-5zM125 186h5v5h-5zM128 186h5v5h-5zM131 186h5v5h-5zM83 189h5v5h-5zM98 189h5v5h-5zM101 189h5v5h-5zM104 189h5v5h-5zM110 189h5v5h-5zM116 189h5v5h-5zM119 189h5v5h-5zM122 189h5v5h-5zM125 189h5v5h-5zM131 189h5v5h-5zM17 192h5v5h-5zM86 192h5v5h-5zM95 192h5v5h-5zM101 192h5v5h-5zM104 192h5v5h-5zM110 192h5v5h-5zM113 192h5v5h-5zM116 192h5v5h-5zM131 192h5v5h-5zM92 195h5v5h-5zM98 195h5v5h-5zM113 195h5v5h-5zM116 195h5v5h-5zM131 195h5v5h-5zM95 198h5v5h-5zM113 198h5v5h-5zM116 198h5v5h-5zM119 198h5v5h-5zM122 198h5v5h-5zM125 198h5v5h-5zM128 198h5v5h-5zM143 198h5v5h-5zM110 201h5v5h-5zM113 201h5v5h-5zM116 201h5v5h-5zM119 201h5v5h-5zM122 201h5v5h-5zM125 201h5v5h-5zM128 201h5v5h-5zM137 201h5v5h-5zM140 201h5v5h-5zM146 201h5v5h-5zM158 201h5v5h-5zM161 201h5v5h-5zM110 204h5v5h-5zM113 204h5v5h-5zM116 204h5v5h-5zM119 204h5v5h-5zM122 204h5v5h-5zM125 204h5v5h-5zM131 204h5v5h-5zM134 204h5v5h-5zM137 204h5v5h-5zM143 204h5v5h-5zM158 204h5v5h-5zM161 204h5v5h-5zM164 204h5v5h-5zM116 207h5v5h-5zM122 207h5v5h-5zM134 207h5v5h-5zM146 207h5v5h-5zM155 207h5v5h-5zM158 207h5v5h-5zM101 210h5v5h-5zM116 210h5v5h-5zM119 210h5v5h-5zM122 210h5v5h-5zM131 210h5v5h-5zM137 210h5v5h-5zM143 210h5v5h-5zM152 210h5v5h-5zM158 210h5v5h-5zM164 210h5v5h-5zM92 213h5v5h-5zM104 213h5v5h-5zM116 213h5v5h-5zM125 213h5v5h-5zM128 213h5v5h-5zM140 213h5v5h-5zM143 213h5v5h-5zM146 213h5v5h-5zM149 213h5v5h-5zM152 213h5v5h-5zM164 213h5v5h-5zM134 216h5v5h-5zM137 216h5v5h-5zM143 216h5v5h-5zM152 216h5v5h-5zM104 219h5v5h-5zM122 219h5v5h-5zM137 219h5v5h-5zM143 219h5v5h-5zM149 219h5v5h-5zM101 222h5v5h-5zM107 222h5v5h-5zM119 222h5v5h-5zM122 222h5v5h-5zM125 222h5v5h-5zM134 222h5v5h-5zM164 222h5v5h-5zM119 225h5v5h-5zM122 225h5v5h-5zM128 225h5v5h-5zM134 225h5v5h-5zM158 225h5v5h-5zM161 225h5v5h-5zM143 228h5v5h-5zM155 228h5v5h-5zM158 228h5v5h-5zM155 231h5v5h-5zM164 240h5v5h-5z" fill="#36e81c"/><path d="M128 171h5v5h-5zM149 171h5v5h-5zM152 171h5v5h-5zM158 171h5v5h-5zM152 174h5v5h-5zM158 174h5v5h-5zM161 174h5v5h-5zM104 177h5v5h-5zM107 177h5v5h-5zM110 177h5v5h-5zM134 177h5v5h-5zM152 177h5v5h-5zM155 177h5v5h-5zM161 177h5v5h-5zM104 180h5v5h-5zM128 180h5v5h-5zM134 180h5v5h-5zM137 180h5v5h-5zM155 180h5v5h-5zM158 180h5v5h-5zM161 180h5v5h-5zM164 180h5v5h-5zM113 183h5v5h-5zM119 183h5v5h-5zM125 183h5v5h-5zM131 183h5v5h-5zM134 183h5v5h-5zM137 183h5v5h-5zM143 183h5v5h-5zM146 183h5v5h-5zM149 183h5v5h-5zM155 183h5v5h-5zM158 183h5v5h-5zM164 183h5v5h-5zM113 186h5v5h-5zM116 186h5v5h-5zM134 186h5v5h-5zM155 186h5v5h-5zM161 186h5v5h-5zM113 189h5v5h-5zM134 189h5v5h-5zM137 189h5v5h-5zM155 189h5v5h-5zM158 189h5v5h-5zM164 189h5v5h-5zM134 192h5v5h-5zM143 192h5v5h-5zM152 192h5v5h-5zM155 192h5v5h-5zM158 192h5v5h-5zM161 192h5v5h-5zM164 192h5v5h-5zM95 195h5v5h-5zM137 195h5v5h-5zM140 195h5v5h-5zM146 195h5v5h-5zM152 195h5v5h-5zM158 195h5v5h-5zM164 195h5v5h-5zM131 198h5v5h-5zM134 198h5v5h-5zM137 198h5v5h-5zM140 198h5v5h-5zM158 198h5v5h-5zM161 198h5v5h-5zM131 201h5v5h-5zM134 201h5v5h-5zM143 201h5v5h-5zM155 201h5v5h-5zM164 201h5v5h-5zM128 204h5v5h-5zM140 204h5v5h-5zM146 204h5v5h-5zM155 204h5v5h-5zM125 207h5v5h-5zM128 207h5v5h-5zM131 207h5v5h-5zM137 207h5v5h-5zM140 207h5v5h-5zM143 207h5v5h-5zM149 207h5v5h-5zM152 207h5v5h-5zM161 207h5v5h-5zM164 207h5v5h-5zM128 210h5v5h-5zM134 210h5v5h-5zM140 210h5v5h-5zM146 210h5v5h-5zM149 210h5v5h-5zM161 210h5v5h-5zM131 213h5v5h-5zM134 213h5v5h-5zM137 213h5v5h-5zM161 213h5v5h-5zM140 216h5v5h-5zM146 216h5v5h-5zM149 216h5v5h-5zM158 216h5v5h-5zM161 216h5v5h-5zM164 216h5v5h-5zM161 219h5v5h-5z" fill="#54e814"/><path d="M155 174h5v5h-5zM158 177h5v5h-5zM140 183h5v5h-5zM161 183h5v5h-5zM137 186h5v5h-5zM140 186h5v5h-5zM143 186h5v5h-5zM146 186h5v5h-5zM149 186h5v5h-5zM152 186h5v5h-5zM158 186h5v5h-5zM164 186h5v5h-5zM140 189h5v5h-5zM143 189h5v5h-5zM146 189h5v5h-5zM149 189h5v5h-5zM152 189h5v5h-5zM161 189h5v5h-5zM137 192h5v5h-5zM140 192h5v5h-5zM146 192h5v5h-5zM149 192h5v5h-5zM134 195h5v5h-5zM143 195h5v5h-5zM149 195h5v5h-5zM155 195h5v5h-5zM161 195h5v5h-5zM146 198h5v5h-5zM149 198h5v5h-5zM152 198h5v5h-5zM155 198h5v5h-5zM164 198h5v5h-5zM152 201h5v5h-5zM149 204h5v5h-5zM152 204h5v5h-5z" fill="#72e80c"/><path d="M8 180h5v5h-5zM11 180h5v5h-5zM41 189h5v5h-5zM56 189h5v5h-5zM92 189h5v5h-5zM41 192h5v5h-5zM44 192h5v5h-5zM47 192h5v5h-5zM50 192h5v5h-5zM59 192h5v5h-5zM62 192h5v5h-5zM65 192h5v5h-5zM68 192h5v5h-5zM23 195h5v5h-5zM26 195h5v5h-5zM32 195h5v5h-5zM35 195h5v5h-5zM41 195h5v5h-5zM44 195h5v5h-5zM47 195h5v5h-5zM50 195h5v5h-5zM53 195h5v5h-5zM65 195h5v5h-5zM68 195h5v5h-5zM71 195h5v5h-5zM74 195h5v5h-5zM8 198h5v5h-5zM20 198h5v5h-5zM26 198h5v5h-5zM38 198h5v5h-5zM41 198h5v5h-5zM44 198h5v5h-5zM47 198h5v5h-5zM50 198h5v5h-5zM53 198h5v5h-5zM56 198h5v5h-5zM59 198h5v5h-5zM62 198h5v5h-5zM65 198h5v5h-5zM74 198h5v5h-5zM86 198h5v5h-5zM89 198h5v5h-5zM11 201h5v5h-5zM20 201h5v5h-5zM23 201h5v5h-5zM44 201h5v5h-5zM47 201h5v5h-5zM50 201h5v5h-5zM62 201h5v5h-5zM65 201h5v5h-5zM68 201h5v5h-5zM71 201h5v5h-5zM83 201h5v5h-5zM86 201h5v5h-5zM8 204h5v5h-5zM11 204h5v5h-5zM14 204h5v5h-5zM17 204h5v5h-5zM23 204h5v5h-5zM26 204h5v5h-5zM29 204h5v5h-5zM50 204h5v5h-5zM62 204h5v5h-5zM65 204h5v5h-5zM71 204h5v5h-5zM80 204h5v5h-5zM86 204h5v5h-5zM11 207h5v5h-5zM14 207h5v5h-5zM23 207h5v5h-5zM26 207h5v5h-5zM53 207h5v5h-5zM71 207h5v5h-5zM77 207h5v5h-5zM80 207h5v5h-5zM83 207h5v5h-5zM89 207h5v5h-5zM95 207h5v5h-5zM14 210h5v5h-5zM65 210h5v5h-5zM71 210h5v5h-5zM74 210h5v5h-5zM77 210h5v5h-5zM80 210h5v5h-5zM83 210h5v5h-5zM86 210h5v5h-5zM17 213h5v5h-5zM62 213h5v5h-5zM65 213h5v5h-5zM68 213h5v5h-5zM71 213h5v5h-5zM74 213h5v5h-5zM77 213h5v5h-5zM80 213h5v5h-5zM83 213h5v5h-5zM71 216h5v5h-5zM74 216h5v5h-5zM77 216h5v5h-5zM86 216h5v5h-5zM71 219h5v5h-5zM74 219h5v5h-5zM89 219h5v5h-5zM92 219h5v5h-5zM50 222h5v5h-5zM53 222h5v5h-5zM89 222h5v5h-5zM71 225h5v5h-5zM74 225h5v5h-5zM83 225h5v5h-5zM71 228h5v5h-5zM80 228h5v5h-5zM86 228h5v5h-5zM89 228h5v5h-5zM56 231h5v5h-5zM62 231h5v5h-5zM68 231h5v5h-5zM71 231h5v5h-5zM77 231h5v5h-5zM80 231h5v5h-5zM89 231h5v5h-5zM95 231h5v5h-5zM98 231h5v5h-5zM107 231h5v5h-5zM143 231h5v5h-5zM71 234h5v5h-5zM74 234h5v5h-5zM77 234h5v5h-5zM80 234h5v5h-5zM83 234h5v5h-5zM86 234h5v5h-5zM92 234h5v5h-5zM101 234h5v5h-5zM107 234h5v5h-5zM110 234h5v5h-5zM125 234h5v5h-5zM128 234h5v5h-5zM131 234h5v5h-5zM140 234h5v5h-5zM143 234h5v5h-5zM149 234h5v5h-5zM152 234h5v5h-5zM161 234h5v5h-5zM164 234h5v5h-5zM68 237h5v5h-5zM71 237h5v5h-5zM74 237h5v5h-5zM77 237h5v5h-5zM80 237h5v5h-5zM83 237h5v5h-5zM86 237h5v5h-5zM89 237h5v5h-5zM104 237h5v5h-5zM143 237h5v5h-5zM146 237h5v5h-5zM152 237h5v5h-5zM155 237h5v5h-5zM158 237h5v5h-5zM161 237h5v5h-5zM56 240h5v5h-5zM59 240h5v5h-5zM62 240h5v5h-5zM65 240h5v5h-5zM68 240h5v5h-5zM74 240h5v5h-5zM80 240h5v5h-5zM140 240h5v5h-5zM143 240h5v5h-5zM146 240h5v5h-5zM152 240h5v5h-5zM53 243h5v5h-5zM56 243h5v5h-5zM62 243h5v5h-5zM68 243h5v5h-5zM77 243h5v5h-5zM149 243h5v5h-5zM32 246h5v5h-5zM41 246h5v5h-5zM44 246h5v5h-5zM50 246h5v5h-5zM53 246h5v5h-5zM56 246h5v5h-5zM62 246h5v5h-5zM65 246h5v5h-5zM68 246h5v5h-5zM74 246h5v5h-5zM77 246h5v5h-5zM134 246h5v5h-5zM140 246h5v5h-5zM146 246h5v5h-5zM44 249h5v5h-5zM53 249h5v5h-5zM65 249h5v5h-5zM71 249h5v5h-5zM137 249h5v5h-5zM140 249h5v5h-5zM146 249h5v5h-5zM44 252h5v5h-5zM65 252h5v5h-5zM68 252h5v5h-5zM71 252h5v5h-5zM74 252h5v5h-5zM77 252h5v5h-5zM83 252h5v5h-5zM86 252h5v5h-5zM140 252h5v5h-5zM149 252h5v5h-5zM44 255h5v5h-5zM47 255h5v5h-5zM50 255h5v5h-5zM56 255h5v5h-5zM59 255h5v5h-5zM71 255h5v5h-5zM77 255h5v5h-5zM80 255h5v5h-5zM83 255h5v5h-5zM146 255h5v5h-5zM20 258h5v5h-5zM23 258h5v5h-5zM26 258h5v5h-5zM29 258h5v5h-5zM32 258h5v5h-5zM41 258h5v5h-5zM50 258h5v5h-5zM53 258h5v5h-5zM56 258h5v5h-5zM59 258h5v5h-5zM62 258h5v5h-5zM65 258h5v5h-5zM77 258h5v5h-5zM134 258h5v5h-5zM137 258h5v5h-5zM140 258h5v5h-5zM146 258h5v5h-5zM152 258h5v5h-5zM155 258h5v5h-5zM164 258h5v5h-5zM20 261h5v5h-5zM23 261h5v5h-5zM26 261h5v5h-5zM35 261h5v5h-5zM38 261h5v5h-5zM47 261h5v5h-5zM50 261h5v5h-5zM62 261h5v5h-5zM65 261h5v5h-5zM74 261h5v5h-5zM77 261h5v5h-5zM83 261h5v5h-5zM134 261h5v5h-5zM137 261h5v5h-5zM152 261h5v5h-5zM155 261h5v5h-5zM161 261h5v5h-5zM11 264h5v5h-5zM17 264h5v5h-5zM20 264h5v5h-5zM23 264h5v5h-5zM26 264h5v5h-5zM29 264h5v5h-5zM38 264h5v5h-5zM47 264h5v5h-5zM53 264h5v5h-5zM80 264h5v5h-5zM86 264h5v5h-5zM125 264h5v5h-5zM131 264h5v5h-5zM134 264h5v5h-5zM137 264h5v5h-5zM140 264h5v5h-5zM152 264h5v5h-5zM155 264h5v5h-5zM158 264h5v5h-5zM14 267h5v5h-5zM20 267h5v5h-5zM23 267h5v5h-5zM26 267h5v5h-5zM29 267h5v5h-5zM53 267h5v5h-5zM65 267h5v5h-5zM74 267h5v5h-5zM77 267h5v5h-5zM80 267h5v5h-5zM83 267h5v5h-5zM128 267h5v5h-5zM134 267h5v5h-5zM137 267h5v5h-5zM152 267h5v5h-5zM8 270h5v5h-5zM11 270h5v5h-5zM17 270h5v5h-5zM20 270h5v5h-5zM23 270h5v5h-5zM50 270h5v5h-5zM53 270h5v5h-5zM77 270h5v5h-5zM83 270h5v5h-5zM86 270h5v5h-5zM89 270h5v5h-5zM95 270h5v5h-5zM98 270h5v5h-5zM101 270h5v5h-5zM113 270h5v5h-5zM116 270h5v5h-5zM128 270h5v5h-5zM131 270h5v5h-5zM134 270h5v5h-5zM140 270h5v5h-5z" fill="#10e267"/><path d="M32 198h5v5h-5zM35 198h5v5h-5zM68 198h5v5h-5zM71 198h5v5h-5zM8 201h5v5h-5zM17 201h5v5h-5zM29 201h5v5h-5zM32 201h5v5h-5zM35 201h5v5h-5zM53 201h5v5h-5zM56 201h5v5h-5zM59 201h5v5h-5zM89 201h5v5h-5zM32 204h5v5h-5zM35 204h5v5h-5zM38 204h5v5h-5zM44 204h5v5h-5zM47 204h5v5h-5zM53 204h5v5h-5zM56 204h5v5h-5zM68 204h5v5h-5zM8 207h5v5h-5zM17 207h5v5h-5zM29 207h5v5h-5zM32 207h5v5h-5zM35 207h5v5h-5zM41 207h5v5h-5zM47 207h5v5h-5zM50 207h5v5h-5zM59 207h5v5h-5zM62 207h5v5h-5zM65 207h5v5h-5zM68 207h5v5h-5zM8 210h5v5h-5zM17 210h5v5h-5zM41 210h5v5h-5zM44 210h5v5h-5zM50 210h5v5h-5zM53 210h5v5h-5zM56 210h5v5h-5zM62 210h5v5h-5zM68 210h5v5h-5zM14 213h5v5h-5zM20 213h5v5h-5zM23 213h5v5h-5zM38 213h5v5h-5zM41 213h5v5h-5zM44 213h5v5h-5zM50 213h5v5h-5zM53 213h5v5h-5zM56 213h5v5h-5zM59 213h5v5h-5zM11 216h5v5h-5zM14 216h5v5h-5zM17 216h5v5h-5zM20 216h5v5h-5zM32 216h5v5h-5zM35 216h5v5h-5zM41 216h5v5h-5zM59 216h5v5h-5zM62 216h5v5h-5zM65 216h5v5h-5zM68 216h5v5h-5zM14 219h5v5h-5zM20 219h5v5h-5zM53 219h5v5h-5zM56 219h5v5h-5zM59 219h5v5h-5zM68 219h5v5h-5zM11 222h5v5h-5zM17 222h5v5h-5zM56 222h5v5h-5zM59 222h5v5h-5zM62 222h5v5h-5zM65 222h5v5h-5zM68 222h5v5h-5zM71 222h5v5h-5zM14 225h5v5h-5zM20 225h5v5h-5zM47 225h5v5h-5zM50 225h5v5h-5zM53 225h5v5h-5zM56 225h5v5h-5zM59 225h5v5h-5zM62 225h5v5h-5zM65 225h5v5h-5zM68 225h5v5h-5zM50 228h5v5h-5zM53 228h5v5h-5zM56 228h5v5h-5zM59 228h5v5h-5zM65 228h5v5h-5zM68 228h5v5h-5zM53 231h5v5h-5zM59 231h5v5h-5zM65 231h5v5h-5zM83 231h5v5h-5zM86 231h5v5h-5zM92 231h5v5h-5zM44 234h5v5h-5zM47 234h5v5h-5zM59 234h5v5h-5zM65 234h5v5h-5zM68 234h5v5h-5zM89 234h5v5h-5zM95 234h5v5h-5zM146 234h5v5h-5zM47 237h5v5h-5zM50 237h5v5h-5zM53 237h5v5h-5zM59 237h5v5h-5zM62 237h5v5h-5zM65 237h5v5h-5zM92 237h5v5h-5zM95 237h5v5h-5zM101 237h5v5h-5zM107 237h5v5h-5zM113 237h5v5h-5zM116 237h5v5h-5zM119 237h5v5h-5zM122 237h5v5h-5zM125 237h5v5h-5zM128 237h5v5h-5zM149 237h5v5h-5zM41 240h5v5h-5zM47 240h5v5h-5zM53 240h5v5h-5zM71 240h5v5h-5zM77 240h5v5h-5zM83 240h5v5h-5zM86 240h5v5h-5zM92 240h5v5h-5zM101 240h5v5h-5zM104 240h5v5h-5zM122 240h5v5h-5zM125 240h5v5h-5zM128 240h5v5h-5zM131 240h5v5h-5zM29 243h5v5h-5zM41 243h5v5h-5zM44 243h5v5h-5zM47 243h5v5h-5zM50 243h5v5h-5zM65 243h5v5h-5zM71 243h5v5h-5zM74 243h5v5h-5zM80 243h5v5h-5zM128 243h5v5h-5zM131 243h5v5h-5zM143 243h5v5h-5zM35 246h5v5h-5zM38 246h5v5h-5zM71 246h5v5h-5zM80 246h5v5h-5zM83 246h5v5h-5zM92 246h5v5h-5zM125 246h5v5h-5zM131 246h5v5h-5zM32 249h5v5h-5zM35 249h5v5h-5zM38 249h5v5h-5zM41 249h5v5h-5zM74 249h5v5h-5zM80 249h5v5h-5zM83 249h5v5h-5zM86 249h5v5h-5zM89 249h5v5h-5zM92 249h5v5h-5zM95 249h5v5h-5zM125 249h5v5h-5zM128 249h5v5h-5zM32 252h5v5h-5zM35 252h5v5h-5zM38 252h5v5h-5zM41 252h5v5h-5zM89 252h5v5h-5zM92 252h5v5h-5zM128 252h5v5h-5zM20 255h5v5h-5zM23 255h5v5h-5zM29 255h5v5h-5zM32 255h5v5h-5zM38 255h5v5h-5zM41 255h5v5h-5zM74 255h5v5h-5zM89 255h5v5h-5zM128 255h5v5h-5zM131 255h5v5h-5zM134 255h5v5h-5zM137 255h5v5h-5zM140 255h5v5h-5zM14 258h5v5h-5zM17 258h5v5h-5zM35 258h5v5h-5zM38 258h5v5h-5zM47 258h5v5h-5zM74 258h5v5h-5zM80 258h5v5h-5zM83 258h5v5h-5zM86 258h5v5h-5zM131 258h5v5h-5zM14 261h5v5h-5zM17 261h5v5h-5zM80 261h5v5h-5zM86 261h5v5h-5zM89 261h5v5h-5zM125 261h5v5h-5zM128 261h5v5h-5zM8 264h5v5h-5zM14 264h5v5h-5zM77 264h5v5h-5zM83 264h5v5h-5zM128 264h5v5h-5zM11 267h5v5h-5zM17 267h5v5h-5zM50 267h5v5h-5zM86 267h5v5h-5zM89 267h5v5h-5zM92 267h5v5h-5zM95 267h5v5h-5zM98 267h5v5h-5zM113 267h5v5h-5zM116 267h5v5h-5zM125 267h5v5h-5zM131 267h5v5h-5zM14 270h5v5h-5zM92 270h5v5h-5zM104 270h5v5h-5zM110 270h5v5h-5zM119 270h5v5h-5zM122 270h5v5h-5z" fill="#0ce089"/><path d="M38 201h5v5h-5zM41 201h5v5h-5zM20 204h5v5h-5zM41 204h5v5h-5zM59 204h5v5h-5zM20 207h5v5h-5zM38 207h5v5h-5zM44 207h5v5h-5zM56 207h5v5h-5zM11 210h5v5h-5zM20 210h5v5h-5zM23 210h5v5h-5zM26 210h5v5h-5zM35 210h5v5h-5zM38 210h5v5h-5zM47 210h5v5h-5zM59 210h5v5h-5zM11 213h5v5h-5zM26 213h5v5h-5zM32 213h5v5h-5zM35 213h5v5h-5zM47 213h5v5h-5zM8 216h5v5h-5zM23 216h5v5h-5zM26 216h5v5h-5zM29 216h5v5h-5zM38 216h5v5h-5zM44 216h5v5h-5zM47 216h5v5h-5zM50 216h5v5h-5zM53 216h5v5h-5zM56 216h5v5h-5zM8 219h5v5h-5zM11 219h5v5h-5zM17 219h5v5h-5zM23 219h5v5h-5zM29 219h5v5h-5zM32 219h5v5h-5zM35 219h5v5h-5zM38 219h5v5h-5zM47 219h5v5h-5zM50 219h5v5h-5zM62 219h5v5h-5zM65 219h5v5h-5zM20 222h5v5h-5zM23 222h5v5h-5zM26 222h5v5h-5zM41 222h5v5h-5zM44 222h5v5h-5zM47 222h5v5h-5zM8 225h5v5h-5zM23 225h5v5h-5zM11 228h5v5h-5zM17 228h5v5h-5zM38 228h5v5h-5zM44 228h5v5h-5zM47 228h5v5h-5zM62 228h5v5h-5zM14 231h5v5h-5zM32 231h5v5h-5zM35 231h5v5h-5zM47 231h5v5h-5zM50 231h5v5h-5zM11 234h5v5h-5zM32 234h5v5h-5zM41 234h5v5h-5zM50 234h5v5h-5zM53 234h5v5h-5zM56 234h5v5h-5zM62 234h5v5h-5zM98 234h5v5h-5zM8 237h5v5h-5zM11 237h5v5h-5zM38 237h5v5h-5zM41 237h5v5h-5zM44 237h5v5h-5zM56 237h5v5h-5zM98 237h5v5h-5zM110 237h5v5h-5zM8 240h5v5h-5zM11 240h5v5h-5zM17 240h5v5h-5zM26 240h5v5h-5zM29 240h5v5h-5zM32 240h5v5h-5zM38 240h5v5h-5zM44 240h5v5h-5zM50 240h5v5h-5zM89 240h5v5h-5zM95 240h5v5h-5zM98 240h5v5h-5zM107 240h5v5h-5zM113 240h5v5h-5zM116 240h5v5h-5zM119 240h5v5h-5zM8 243h5v5h-5zM20 243h5v5h-5zM26 243h5v5h-5zM32 243h5v5h-5zM35 243h5v5h-5zM38 243h5v5h-5zM83 243h5v5h-5zM86 243h5v5h-5zM95 243h5v5h-5zM98 243h5v5h-5zM101 243h5v5h-5zM104 243h5v5h-5zM122 243h5v5h-5zM125 243h5v5h-5zM11 246h5v5h-5zM23 246h5v5h-5zM29 246h5v5h-5zM86 246h5v5h-5zM89 246h5v5h-5zM95 246h5v5h-5zM98 246h5v5h-5zM101 246h5v5h-5zM113 246h5v5h-5zM122 246h5v5h-5zM128 246h5v5h-5zM8 249h5v5h-5zM11 249h5v5h-5zM29 249h5v5h-5zM98 249h5v5h-5zM104 249h5v5h-5zM122 249h5v5h-5zM131 249h5v5h-5zM134 249h5v5h-5zM8 252h5v5h-5zM14 252h5v5h-5zM20 252h5v5h-5zM29 252h5v5h-5zM107 252h5v5h-5zM125 252h5v5h-5zM131 252h5v5h-5zM134 252h5v5h-5zM137 252h5v5h-5zM8 255h5v5h-5zM11 255h5v5h-5zM14 255h5v5h-5zM17 255h5v5h-5zM26 255h5v5h-5zM35 255h5v5h-5zM86 255h5v5h-5zM92 255h5v5h-5zM125 255h5v5h-5zM11 258h5v5h-5zM125 258h5v5h-5zM128 258h5v5h-5zM95 261h5v5h-5zM98 261h5v5h-5zM101 261h5v5h-5zM107 261h5v5h-5zM110 261h5v5h-5zM116 261h5v5h-5zM122 261h5v5h-5zM131 261h5v5h-5zM89 264h5v5h-5zM92 264h5v5h-5zM95 264h5v5h-5zM98 264h5v5h-5zM104 264h5v5h-5zM107 264h5v5h-5zM110 264h5v5h-5zM113 264h5v5h-5zM119 264h5v5h-5zM122 264h5v5h-5zM101 267h5v5h-5zM104 267h5v5h-5zM107 267h5v5h-5zM110 267h5v5h-5zM119 267h5v5h-5zM122 267h5v5h-5zM107 270h5v5h-5z" fill="#07ddac"/><path d="M149 201h5v5h-5z" fill="#90e804"/><path d="M29 210h5v5h-5zM32 210h5v5h-5zM8 213h5v5h-5zM29 213h5v5h-5zM26 219h5v5h-5zM41 219h5v5h-5zM44 219h5v5h-5zM8 222h5v5h-5zM14 222h5v5h-5zM29 222h5v5h-5zM32 222h5v5h-5zM35 222h5v5h-5zM38 222h5v5h-5zM11 225h5v5h-5zM17 225h5v5h-5zM26 225h5v5h-5zM29 225h5v5h-5zM32 225h5v5h-5zM35 225h5v5h-5zM38 225h5v5h-5zM41 225h5v5h-5zM44 225h5v5h-5zM8 228h5v5h-5zM14 228h5v5h-5zM20 228h5v5h-5zM23 228h5v5h-5zM32 228h5v5h-5zM35 228h5v5h-5zM41 228h5v5h-5zM8 231h5v5h-5zM11 231h5v5h-5zM17 231h5v5h-5zM20 231h5v5h-5zM29 231h5v5h-5zM38 231h5v5h-5zM41 231h5v5h-5zM44 231h5v5h-5zM8 234h5v5h-5zM14 234h5v5h-5zM17 234h5v5h-5zM20 234h5v5h-5zM26 234h5v5h-5zM29 234h5v5h-5zM35 234h5v5h-5zM38 234h5v5h-5zM14 237h5v5h-5zM17 237h5v5h-5zM29 237h5v5h-5zM32 237h5v5h-5zM35 237h5v5h-5zM14 240h5v5h-5zM20 240h5v5h-5zM23 240h5v5h-5zM35 240h5v5h-5zM110 240h5v5h-5zM11 243h5v5h-5zM14 243h5v5h-5zM17 243h5v5h-5zM23 243h5v5h-5zM89 243h5v5h-5zM92 243h5v5h-5zM110 243h5v5h-5zM113 243h5v5h-5zM116 243h5v5h-5zM8 246h5v5h-5zM14 246h5v5h-5zM20 246h5v5h-5zM26 246h5v5h-5zM104 246h5v5h-5zM107 246h5v5h-5zM116 246h5v5h-5zM119 246h5v5h-5zM14 249h5v5h-5zM17 249h5v5h-5zM20 249h5v5h-5zM23 249h5v5h-5zM26 249h5v5h-5zM101 249h5v5h-5zM107 249h5v5h-5zM110 249h5v5h-5zM113 249h5v5h-5zM116 249h5v5h-5zM119 249h5v5h-5zM11 252h5v5h-5zM23 252h5v5h-5zM26 252h5v5h-5zM95 252h5v5h-5zM98 252h5v5h-5zM101 252h5v5h-5zM104 252h5v5h-5zM122 252h5v5h-5zM95 255h5v5h-5zM104 255h5v5h-5zM107 255h5v5h-5zM8 258h5v5h-5zM89 258h5v5h-5zM92 258h5v5h-5zM98 258h5v5h-5zM101 258h5v5h-5zM104 258h5v5h-5zM107 258h5v5h-5zM110 258h5v5h-5zM113 258h5v5h-5zM122 258h5v5h-5zM8 261h5v5h-5zM11 261h5v5h-5zM92 261h5v5h-5zM104 261h5v5h-5zM113 261h5v5h-5zM119 261h5v5h-5zM101 264h5v5h-5zM116 264h5v5h-5z" fill="#03dace"/><path d="M26 228h5v5h-5zM29 228h5v5h-5zM23 231h5v5h-5zM26 231h5v5h-5zM23 234h5v5h-5zM20 237h5v5h-5zM23 237h5v5h-5zM26 237h5v5h-5zM107 243h5v5h-5zM119 243h5v5h-5zM17 246h5v5h-5zM110 246h5v5h-5zM17 252h5v5h-5zM110 252h5v5h-5zM113 252h5v5h-5zM116 252h5v5h-5zM98 255h5v5h-5zM101 255h5v5h-5zM110 255h5v5h-5zM122 255h5v5h-5zM95 258h5v5h-5zM116 258h5v5h-5zM119 258h5v5h-5z" fill="#00d8f0"/><path d="M119 252h5v5h-5zM113 255h5v5h-5zM116 255h5v5h-5zM119 255h5v5h-5z" fill="#02bbf2"/></g></g><g clip-path="url(#cple)"><g filter="url(#fble)"><path d="M8 262h5v5h-5zM14 262h5v5h-5zM17 262h5v5h-5zM26 262h5v5h-5zM35 262h5v5h-5zM41 262h5v5h-5zM95 262h5v5h-5zM17 265h5v5h-5zM23 265h5v5h-5zM26 265h5v5h-5zM29 265h5v5h-5zM35 265h5v5h-5zM38 265h5v5h-5zM41 265h5v5h-5zM44 265h5v5h-5zM50 265h5v5h-5zM14 268h5v5h-5zM17 268h5v5h-5zM23 268h5v5h-5zM35 268h5v5h-5zM38 268h5v5h-5zM41 268h5v5h-5zM44 268h5v5h-5zM47 268h5v5h-5zM50 268h5v5h-5zM53 268h5v5h-5zM8 271h5v5h-5zM11 271h5v5h-5zM14 271h5v5h-5zM20 271h5v5h-5zM23 271h5v5h-5zM32 271h5v5h-5zM38 271h5v5h-5zM41 271h5v5h-5zM53 271h5v5h-5zM56 271h5v5h-5zM8 274h5v5h-5zM23 274h5v5h-5zM26 274h5v5h-5zM29 274h5v5h-5zM35 274h5v5h-5zM38 274h5v5h-5zM44 274h5v5h-5zM47 274h5v5h-5zM53 274h5v5h-5zM56 274h5v5h-5zM59 274h5v5h-5zM65 274h5v5h-5zM71 274h5v5h-5zM8 277h5v5h-5zM29 277h5v5h-5zM38 277h5v5h-5zM50 277h5v5h-5zM56 277h5v5h-5zM68 277h5v5h-5zM71 277h5v5h-5zM74 277h5v5h-5zM77 277h5v5h-5zM11 280h5v5h-5zM32 280h5v5h-5zM35 280h5v5h-5zM50 280h5v5h-5zM77 280h5v5h-5zM26 283h5v5h-5zM29 283h5v5h-5zM38 283h5v5h-5zM50 283h5v5h-5zM77 283h5v5h-5zM80 283h5v5h-5zM8 286h5v5h-5zM11 286h5v5h-5zM14 286h5v5h-5zM23 286h5v5h-5zM29 286h5v5h-5zM32 286h5v5h-5zM35 286h5v5h-5zM38 286h5v5h-5zM41 286h5v5h-5zM8 289h5v5h-5zM38 289h5v5h-5zM41 289h5v5h-5zM47 289h5v5h-5zM50 289h5v5h-5zM8 292h5v5h-5zM41 292h5v5h-5zM44 292h5v5h-5zM47 292h5v5h-5zM50 292h5v5h-5zM53 292h5v5h-5zM11 295h5v5h-5zM47 295h5v5h-5zM50 295h5v5h-5zM53 295h5v5h-5zM56 295h5v5h-5zM59 298h5v5h-5zM62 298h5v5h-5zM65 298h5v5h-5zM68 298h5v5h-5zM8 301h5v5h-5zM50 301h5v5h-5zM62 301h5v5h-5zM65 301h5v5h-5zM8 304h5v5h-5zM41 304h5v5h-5zM47 304h5v5h-5zM62 304h5v5h-5zM8 307h5v5h-5zM11 307h5v5h-5zM44 307h5v5h-5zM50 307h5v5h-5zM62 307h5v5h-5zM65 307h5v5h-5zM50 310h5v5h-5zM56 310h5v5h-5zM59 310h5v5h-5zM62 310h5v5h-5zM65 310h5v5h-5zM68 310h5v5h-5zM71 310h5v5h-5zM11 313h5v5h-5zM59 313h5v5h-5zM65 313h5v5h-5zM8 316h5v5h-5zM17 316h5v5h-5zM68 316h5v5h-5zM71 316h5v5h-5zM74 316h5v5h-5zM71 319h5v5h-5zM74 319h5v5h-5zM80 319h5v5h-5zM71 322h5v5h-5zM74 322h5v5h-5zM74 325h5v5h-5zM32 328h5v5h-5zM35 328h5v5h-5zM38 328h5v5h-5zM41 328h5v5h-5zM44 328h5v5h-5zM8 331h5v5h-5zM11 331h5v5h-5zM14 331h5v5h-5zM17 331h5v5h-5zM29 331h5v5h-5zM44 331h5v5h-5zM47 331h5v5h-5zM89 331h5v5h-5zM101 331h5v5h-5zM23 334h5v5h-5zM26 334h5v5h-5zM29 334h5v5h-5zM77 334h5v5h-5zM89 334h5v5h-5zM8 337h5v5h-5zM20 337h5v5h-5zM26 337h5v5h-5zM29 337h5v5h-5zM41 337h5v5h-5zM50 337h5v5h-5zM56 337h5v5h-5zM74 337h5v5h-5zM92 337h5v5h-5zM98 337h5v5h-5zM101 337h5v5h-5zM8 340h5v5h-5zM11 340h5v5h-5zM32 340h5v5h-5zM35 340h5v5h-5zM38 340h5v5h-5zM56 340h5v5h-5zM62 340h5v5h-5zM11 343h5v5h-5zM14 343h5v5h-5zM20 343h5v5h-5zM29 343h5v5h-5zM32 343h5v5h-5zM38 343h5v5h-5zM41 343h5v5h-5zM50 343h5v5h-5zM53 343h5v5h-5zM8 346h5v5h-5zM14 346h5v5h-5zM17 346h5v5h-5zM23 346h5v5h-5zM26 346h5v5h-5zM29 346h5v5h-5zM32 346h5v5h-5zM35 346h5v5h-5zM41 346h5v5h-5zM44 346h5v5h-5zM47 346h5v5h-5zM53 346h5v5h-5zM8 349h5v5h-5zM14 349h5v5h-5zM17 349h5v5h-5zM26 349h5v5h-5zM29 349h5v5h-5zM32 349h5v5h-5zM35 349h5v5h-5zM38 349h5v5h-5zM44 349h5v5h-5zM47 349h5v5h-5zM53 349h5v5h-5zM14 352h5v5h-5zM17 352h5v5h-5zM23 352h5v5h-5zM38 352h5v5h-5zM41 352h5v5h-5zM44 352h5v5h-5zM47 352h5v5h-5zM50 352h5v5h-5zM53 352h5v5h-5zM56 352h5v5h-5zM62 352h5v5h-5zM68 352h5v5h-5zM71 352h5v5h-5zM8 355h5v5h-5zM17 355h5v5h-5zM20 355h5v5h-5zM23 355h5v5h-5zM38 355h5v5h-5zM44 355h5v5h-5zM47 355h5v5h-5zM50 355h5v5h-5zM59 355h5v5h-5zM95 355h5v5h-5z" fill="#07ddac"/><path d="M11 262h5v5h-5zM29 262h5v5h-5zM32 262h5v5h-5zM38 262h5v5h-5zM44 262h5v5h-5zM47 262h5v5h-5zM50 262h5v5h-5zM53 262h5v5h-5zM59 262h5v5h-5zM77 262h5v5h-5zM83 262h5v5h-5zM92 262h5v5h-5zM98 262h5v5h-5zM131 262h5v5h-5zM146 262h5v5h-5zM8 265h5v5h-5zM11 265h5v5h-5zM14 265h5v5h-5zM32 265h5v5h-5zM47 265h5v5h-5zM53 265h5v5h-5zM56 265h5v5h-5zM95 265h5v5h-5zM8 268h5v5h-5zM11 268h5v5h-5zM26 268h5v5h-5zM32 268h5v5h-5zM56 268h5v5h-5zM59 268h5v5h-5zM65 268h5v5h-5zM77 268h5v5h-5zM86 268h5v5h-5zM26 271h5v5h-5zM29 271h5v5h-5zM35 271h5v5h-5zM44 271h5v5h-5zM59 271h5v5h-5zM62 271h5v5h-5zM68 271h5v5h-5zM74 271h5v5h-5zM11 274h5v5h-5zM32 274h5v5h-5zM41 274h5v5h-5zM62 274h5v5h-5zM68 274h5v5h-5zM74 274h5v5h-5zM77 274h5v5h-5zM11 277h5v5h-5zM35 277h5v5h-5zM41 277h5v5h-5zM53 277h5v5h-5zM80 277h5v5h-5zM8 280h5v5h-5zM41 280h5v5h-5zM44 280h5v5h-5zM47 280h5v5h-5zM80 280h5v5h-5zM83 280h5v5h-5zM8 283h5v5h-5zM11 283h5v5h-5zM32 283h5v5h-5zM35 283h5v5h-5zM41 283h5v5h-5zM44 283h5v5h-5zM47 283h5v5h-5zM44 286h5v5h-5zM47 286h5v5h-5zM50 286h5v5h-5zM77 286h5v5h-5zM80 286h5v5h-5zM83 286h5v5h-5zM44 289h5v5h-5zM74 289h5v5h-5zM80 289h5v5h-5zM8 295h5v5h-5zM44 295h5v5h-5zM71 295h5v5h-5zM8 298h5v5h-5zM44 298h5v5h-5zM47 298h5v5h-5zM50 298h5v5h-5zM53 298h5v5h-5zM56 298h5v5h-5zM47 301h5v5h-5zM56 301h5v5h-5zM59 301h5v5h-5zM68 301h5v5h-5zM44 304h5v5h-5zM50 304h5v5h-5zM53 304h5v5h-5zM59 304h5v5h-5zM65 304h5v5h-5zM68 304h5v5h-5zM41 307h5v5h-5zM47 307h5v5h-5zM53 307h5v5h-5zM56 307h5v5h-5zM68 307h5v5h-5zM71 307h5v5h-5zM8 310h5v5h-5zM8 313h5v5h-5zM71 313h5v5h-5zM74 313h5v5h-5zM161 313h5v5h-5zM11 316h5v5h-5zM77 316h5v5h-5zM80 316h5v5h-5zM77 319h5v5h-5zM83 319h5v5h-5zM146 319h5v5h-5zM77 322h5v5h-5zM80 322h5v5h-5zM83 322h5v5h-5zM77 325h5v5h-5zM80 325h5v5h-5zM77 328h5v5h-5zM80 328h5v5h-5zM32 331h5v5h-5zM35 331h5v5h-5zM41 331h5v5h-5zM77 331h5v5h-5zM86 331h5v5h-5zM8 334h5v5h-5zM11 334h5v5h-5zM14 334h5v5h-5zM17 334h5v5h-5zM20 334h5v5h-5zM32 334h5v5h-5zM38 334h5v5h-5zM41 334h5v5h-5zM44 334h5v5h-5zM104 334h5v5h-5zM11 337h5v5h-5zM14 337h5v5h-5zM17 337h5v5h-5zM23 337h5v5h-5zM32 337h5v5h-5zM35 337h5v5h-5zM38 337h5v5h-5zM44 337h5v5h-5zM47 337h5v5h-5zM77 337h5v5h-5zM89 337h5v5h-5zM14 340h5v5h-5zM17 340h5v5h-5zM20 340h5v5h-5zM23 340h5v5h-5zM26 340h5v5h-5zM41 340h5v5h-5zM44 340h5v5h-5zM47 340h5v5h-5zM50 340h5v5h-5zM53 340h5v5h-5zM59 340h5v5h-5zM65 340h5v5h-5zM68 340h5v5h-5zM71 340h5v5h-5zM74 340h5v5h-5zM92 340h5v5h-5zM146 340h5v5h-5zM17 343h5v5h-5zM23 343h5v5h-5zM26 343h5v5h-5zM44 343h5v5h-5zM47 343h5v5h-5zM56 343h5v5h-5zM59 343h5v5h-5zM62 343h5v5h-5zM65 343h5v5h-5zM83 343h5v5h-5zM131 343h5v5h-5zM161 343h5v5h-5zM20 346h5v5h-5zM50 346h5v5h-5zM56 346h5v5h-5zM59 346h5v5h-5zM62 346h5v5h-5zM68 346h5v5h-5zM71 346h5v5h-5zM128 346h5v5h-5zM131 346h5v5h-5zM161 346h5v5h-5zM164 346h5v5h-5zM11 349h5v5h-5zM20 349h5v5h-5zM23 349h5v5h-5zM50 349h5v5h-5zM56 349h5v5h-5zM59 349h5v5h-5zM68 349h5v5h-5zM71 349h5v5h-5zM74 349h5v5h-5zM8 352h5v5h-5zM20 352h5v5h-5zM26 352h5v5h-5zM29 352h5v5h-5zM32 352h5v5h-5zM35 352h5v5h-5zM59 352h5v5h-5zM74 352h5v5h-5zM77 352h5v5h-5zM152 352h5v5h-5zM11 355h5v5h-5zM14 355h5v5h-5zM26 355h5v5h-5zM41 355h5v5h-5zM56 355h5v5h-5zM62 355h5v5h-5zM65 355h5v5h-5zM71 355h5v5h-5zM74 355h5v5h-5zM77 355h5v5h-5zM86 355h5v5h-5zM92 355h5v5h-5zM116 355h5v5h-5zM119 355h5v5h-5zM122 355h5v5h-5zM164 355h5v5h-5z" fill="#0ce089"/><path d="M20 262h5v5h-5zM23 262h5v5h-5zM20 265h5v5h-5zM20 268h5v5h-5zM17 271h5v5h-5zM47 271h5v5h-5zM50 271h5v5h-5zM14 274h5v5h-5zM17 274h5v5h-5zM20 274h5v5h-5zM50 274h5v5h-5zM14 277h5v5h-5zM17 277h5v5h-5zM20 277h5v5h-5zM26 277h5v5h-5zM32 277h5v5h-5zM47 277h5v5h-5zM59 277h5v5h-5zM62 277h5v5h-5zM65 277h5v5h-5zM14 280h5v5h-5zM23 280h5v5h-5zM26 280h5v5h-5zM29 280h5v5h-5zM38 280h5v5h-5zM53 280h5v5h-5zM74 280h5v5h-5zM14 283h5v5h-5zM17 283h5v5h-5zM20 283h5v5h-5zM23 283h5v5h-5zM53 283h5v5h-5zM74 283h5v5h-5zM17 286h5v5h-5zM20 286h5v5h-5zM26 286h5v5h-5zM74 286h5v5h-5zM11 289h5v5h-5zM17 289h5v5h-5zM23 289h5v5h-5zM26 289h5v5h-5zM32 289h5v5h-5zM11 292h5v5h-5zM14 292h5v5h-5zM20 292h5v5h-5zM71 292h5v5h-5zM41 295h5v5h-5zM68 295h5v5h-5zM11 298h5v5h-5zM41 298h5v5h-5zM11 301h5v5h-5zM26 301h5v5h-5zM41 301h5v5h-5zM44 301h5v5h-5zM11 304h5v5h-5zM11 310h5v5h-5zM44 310h5v5h-5zM47 310h5v5h-5zM53 310h5v5h-5zM14 313h5v5h-5zM44 313h5v5h-5zM47 313h5v5h-5zM50 313h5v5h-5zM53 313h5v5h-5zM56 313h5v5h-5zM68 313h5v5h-5zM14 316h5v5h-5zM20 316h5v5h-5zM65 316h5v5h-5zM8 319h5v5h-5zM41 319h5v5h-5zM65 319h5v5h-5zM68 319h5v5h-5zM59 322h5v5h-5zM65 322h5v5h-5zM68 322h5v5h-5zM32 325h5v5h-5zM41 325h5v5h-5zM71 325h5v5h-5zM29 328h5v5h-5zM47 328h5v5h-5zM50 328h5v5h-5zM74 328h5v5h-5zM20 331h5v5h-5zM23 331h5v5h-5zM26 331h5v5h-5zM92 331h5v5h-5zM98 331h5v5h-5zM47 334h5v5h-5zM50 334h5v5h-5zM101 334h5v5h-5zM53 337h5v5h-5zM68 337h5v5h-5zM71 337h5v5h-5zM95 337h5v5h-5zM29 340h5v5h-5zM8 343h5v5h-5zM35 343h5v5h-5zM11 346h5v5h-5zM38 346h5v5h-5zM41 349h5v5h-5zM53 355h5v5h-5z" fill="#03dace"/><path d="M56 262h5v5h-5zM62 262h5v5h-5zM65 262h5v5h-5zM71 262h5v5h-5zM74 262h5v5h-5zM80 262h5v5h-5zM86 262h5v5h-5zM89 262h5v5h-5zM116 262h5v5h-5zM119 262h5v5h-5zM122 262h5v5h-5zM128 262h5v5h-5zM134 262h5v5h-5zM140 262h5v5h-5zM149 262h5v5h-5zM152 262h5v5h-5zM155 262h5v5h-5zM164 262h5v5h-5zM59 265h5v5h-5zM62 265h5v5h-5zM74 265h5v5h-5zM77 265h5v5h-5zM80 265h5v5h-5zM83 265h5v5h-5zM86 265h5v5h-5zM92 265h5v5h-5zM107 265h5v5h-5zM131 265h5v5h-5zM134 265h5v5h-5zM137 265h5v5h-5zM29 268h5v5h-5zM71 268h5v5h-5zM80 268h5v5h-5zM83 268h5v5h-5zM92 268h5v5h-5zM95 268h5v5h-5zM98 268h5v5h-5zM146 268h5v5h-5zM164 268h5v5h-5zM65 271h5v5h-5zM71 271h5v5h-5zM77 271h5v5h-5zM86 271h5v5h-5zM89 271h5v5h-5zM95 271h5v5h-5zM146 271h5v5h-5zM149 271h5v5h-5zM158 271h5v5h-5zM161 271h5v5h-5zM80 274h5v5h-5zM83 274h5v5h-5zM86 274h5v5h-5zM152 274h5v5h-5zM164 274h5v5h-5zM44 277h5v5h-5zM83 277h5v5h-5zM86 277h5v5h-5zM161 277h5v5h-5zM164 277h5v5h-5zM164 280h5v5h-5zM83 283h5v5h-5zM77 289h5v5h-5zM74 292h5v5h-5zM71 298h5v5h-5zM53 301h5v5h-5zM71 301h5v5h-5zM56 304h5v5h-5zM59 307h5v5h-5zM74 310h5v5h-5zM161 310h5v5h-5zM164 310h5v5h-5zM77 313h5v5h-5zM80 313h5v5h-5zM164 313h5v5h-5zM83 316h5v5h-5zM149 316h5v5h-5zM158 316h5v5h-5zM161 316h5v5h-5zM86 319h5v5h-5zM89 319h5v5h-5zM131 319h5v5h-5zM152 319h5v5h-5zM86 322h5v5h-5zM134 322h5v5h-5zM146 322h5v5h-5zM149 322h5v5h-5zM83 325h5v5h-5zM86 325h5v5h-5zM146 325h5v5h-5zM149 325h5v5h-5zM152 325h5v5h-5zM155 325h5v5h-5zM158 325h5v5h-5zM83 328h5v5h-5zM86 328h5v5h-5zM152 328h5v5h-5zM155 328h5v5h-5zM158 328h5v5h-5zM161 328h5v5h-5zM38 331h5v5h-5zM80 331h5v5h-5zM83 331h5v5h-5zM140 331h5v5h-5zM164 331h5v5h-5zM35 334h5v5h-5zM80 334h5v5h-5zM83 334h5v5h-5zM86 334h5v5h-5zM83 337h5v5h-5zM86 337h5v5h-5zM104 337h5v5h-5zM77 340h5v5h-5zM83 340h5v5h-5zM86 340h5v5h-5zM89 340h5v5h-5zM95 340h5v5h-5zM98 340h5v5h-5zM101 340h5v5h-5zM104 340h5v5h-5zM134 340h5v5h-5zM149 340h5v5h-5zM158 340h5v5h-5zM161 340h5v5h-5zM164 340h5v5h-5zM68 343h5v5h-5zM71 343h5v5h-5zM74 343h5v5h-5zM77 343h5v5h-5zM86 343h5v5h-5zM92 343h5v5h-5zM134 343h5v5h-5zM143 343h5v5h-5zM146 343h5v5h-5zM149 343h5v5h-5zM158 343h5v5h-5zM164 343h5v5h-5zM65 346h5v5h-5zM74 346h5v5h-5zM77 346h5v5h-5zM80 346h5v5h-5zM83 346h5v5h-5zM86 346h5v5h-5zM89 346h5v5h-5zM125 346h5v5h-5zM134 346h5v5h-5zM137 346h5v5h-5zM146 346h5v5h-5zM158 346h5v5h-5zM62 349h5v5h-5zM65 349h5v5h-5zM77 349h5v5h-5zM80 349h5v5h-5zM83 349h5v5h-5zM86 349h5v5h-5zM122 349h5v5h-5zM125 349h5v5h-5zM128 349h5v5h-5zM134 349h5v5h-5zM149 349h5v5h-5zM152 349h5v5h-5zM161 349h5v5h-5zM164 349h5v5h-5zM11 352h5v5h-5zM65 352h5v5h-5zM83 352h5v5h-5zM86 352h5v5h-5zM98 352h5v5h-5zM116 352h5v5h-5zM119 352h5v5h-5zM122 352h5v5h-5zM125 352h5v5h-5zM131 352h5v5h-5zM161 352h5v5h-5zM164 352h5v5h-5zM29 355h5v5h-5zM32 355h5v5h-5zM35 355h5v5h-5zM68 355h5v5h-5zM80 355h5v5h-5zM83 355h5v5h-5zM89 355h5v5h-5zM98 355h5v5h-5zM101 355h5v5h-5zM113 355h5v5h-5zM128 355h5v5h-5zM131 355h5v5h-5zM134 355h5v5h-5zM143 355h5v5h-5zM146 355h5v5h-5zM149 355h5v5h-5zM152 355h5v5h-5zM155 355h5v5h-5zM158 355h5v5h-5zM161 355h5v5h-5z" fill="#10e267"/><path d="M68 262h5v5h-5zM101 262h5v5h-5zM104 262h5v5h-5zM107 262h5v5h-5zM110 262h5v5h-5zM113 262h5v5h-5zM125 262h5v5h-5zM137 262h5v5h-5zM143 262h5v5h-5zM158 262h5v5h-5zM161 262h5v5h-5zM65 265h5v5h-5zM68 265h5v5h-5zM89 265h5v5h-5zM98 265h5v5h-5zM101 265h5v5h-5zM104 265h5v5h-5zM110 265h5v5h-5zM116 265h5v5h-5zM119 265h5v5h-5zM122 265h5v5h-5zM125 265h5v5h-5zM128 265h5v5h-5zM140 265h5v5h-5zM143 265h5v5h-5zM146 265h5v5h-5zM149 265h5v5h-5zM158 265h5v5h-5zM161 265h5v5h-5zM164 265h5v5h-5zM62 268h5v5h-5zM74 268h5v5h-5zM89 268h5v5h-5zM101 268h5v5h-5zM104 268h5v5h-5zM107 268h5v5h-5zM137 268h5v5h-5zM140 268h5v5h-5zM149 268h5v5h-5zM152 268h5v5h-5zM155 268h5v5h-5zM158 268h5v5h-5zM161 268h5v5h-5zM80 271h5v5h-5zM83 271h5v5h-5zM92 271h5v5h-5zM98 271h5v5h-5zM101 271h5v5h-5zM110 271h5v5h-5zM152 271h5v5h-5zM155 271h5v5h-5zM164 271h5v5h-5zM89 274h5v5h-5zM98 274h5v5h-5zM149 274h5v5h-5zM155 274h5v5h-5zM158 274h5v5h-5zM161 274h5v5h-5zM155 277h5v5h-5zM158 277h5v5h-5zM86 283h5v5h-5zM83 289h5v5h-5zM164 289h5v5h-5zM77 292h5v5h-5zM80 292h5v5h-5zM74 295h5v5h-5zM74 298h5v5h-5zM74 301h5v5h-5zM161 301h5v5h-5zM164 301h5v5h-5zM71 304h5v5h-5zM74 304h5v5h-5zM161 304h5v5h-5zM164 304h5v5h-5zM74 307h5v5h-5zM158 307h5v5h-5zM161 307h5v5h-5zM164 307h5v5h-5zM80 310h5v5h-5zM158 310h5v5h-5zM83 313h5v5h-5zM98 313h5v5h-5zM149 313h5v5h-5zM158 313h5v5h-5zM86 316h5v5h-5zM92 316h5v5h-5zM98 316h5v5h-5zM101 316h5v5h-5zM146 316h5v5h-5zM152 316h5v5h-5zM164 316h5v5h-5zM98 319h5v5h-5zM134 319h5v5h-5zM143 319h5v5h-5zM149 319h5v5h-5zM155 319h5v5h-5zM161 319h5v5h-5zM164 319h5v5h-5zM128 322h5v5h-5zM131 322h5v5h-5zM137 322h5v5h-5zM140 322h5v5h-5zM143 322h5v5h-5zM152 322h5v5h-5zM155 322h5v5h-5zM164 322h5v5h-5zM89 325h5v5h-5zM122 325h5v5h-5zM125 325h5v5h-5zM131 325h5v5h-5zM134 325h5v5h-5zM137 325h5v5h-5zM140 325h5v5h-5zM143 325h5v5h-5zM161 325h5v5h-5zM89 328h5v5h-5zM92 328h5v5h-5zM95 328h5v5h-5zM101 328h5v5h-5zM125 328h5v5h-5zM131 328h5v5h-5zM134 328h5v5h-5zM137 328h5v5h-5zM140 328h5v5h-5zM143 328h5v5h-5zM146 328h5v5h-5zM149 328h5v5h-5zM164 328h5v5h-5zM104 331h5v5h-5zM128 331h5v5h-5zM131 331h5v5h-5zM137 331h5v5h-5zM143 331h5v5h-5zM146 331h5v5h-5zM149 331h5v5h-5zM152 331h5v5h-5zM155 331h5v5h-5zM158 331h5v5h-5zM161 331h5v5h-5zM107 334h5v5h-5zM110 334h5v5h-5zM113 334h5v5h-5zM128 334h5v5h-5zM131 334h5v5h-5zM134 334h5v5h-5zM137 334h5v5h-5zM143 334h5v5h-5zM149 334h5v5h-5zM80 337h5v5h-5zM107 337h5v5h-5zM110 337h5v5h-5zM113 337h5v5h-5zM116 337h5v5h-5zM131 337h5v5h-5zM134 337h5v5h-5zM146 337h5v5h-5zM149 337h5v5h-5zM158 337h5v5h-5zM161 337h5v5h-5zM164 337h5v5h-5zM80 340h5v5h-5zM110 340h5v5h-5zM113 340h5v5h-5zM116 340h5v5h-5zM119 340h5v5h-5zM122 340h5v5h-5zM128 340h5v5h-5zM131 340h5v5h-5zM137 340h5v5h-5zM143 340h5v5h-5zM152 340h5v5h-5zM155 340h5v5h-5zM80 343h5v5h-5zM89 343h5v5h-5zM95 343h5v5h-5zM98 343h5v5h-5zM101 343h5v5h-5zM104 343h5v5h-5zM107 343h5v5h-5zM116 343h5v5h-5zM122 343h5v5h-5zM125 343h5v5h-5zM128 343h5v5h-5zM137 343h5v5h-5zM140 343h5v5h-5zM152 343h5v5h-5zM155 343h5v5h-5zM92 346h5v5h-5zM95 346h5v5h-5zM98 346h5v5h-5zM101 346h5v5h-5zM104 346h5v5h-5zM107 346h5v5h-5zM110 346h5v5h-5zM119 346h5v5h-5zM122 346h5v5h-5zM140 346h5v5h-5zM143 346h5v5h-5zM149 346h5v5h-5zM155 346h5v5h-5zM89 349h5v5h-5zM92 349h5v5h-5zM95 349h5v5h-5zM98 349h5v5h-5zM101 349h5v5h-5zM104 349h5v5h-5zM107 349h5v5h-5zM131 349h5v5h-5zM140 349h5v5h-5zM143 349h5v5h-5zM146 349h5v5h-5zM155 349h5v5h-5zM158 349h5v5h-5zM80 352h5v5h-5zM89 352h5v5h-5zM92 352h5v5h-5zM95 352h5v5h-5zM101 352h5v5h-5zM104 352h5v5h-5zM107 352h5v5h-5zM110 352h5v5h-5zM128 352h5v5h-5zM137 352h5v5h-5zM146 352h5v5h-5zM149 352h5v5h-5zM155 352h5v5h-5zM158 352h5v5h-5zM107 355h5v5h-5zM110 355h5v5h-5zM125 355h5v5h-5zM137 355h5v5h-5zM140 355h5v5h-5z" fill="#14e546"/><path d="M71 265h5v5h-5zM113 265h5v5h-5zM152 265h5v5h-5zM155 265h5v5h-5zM68 268h5v5h-5zM110 268h5v5h-5zM113 268h5v5h-5zM119 268h5v5h-5zM122 268h5v5h-5zM125 268h5v5h-5zM128 268h5v5h-5zM131 268h5v5h-5zM134 268h5v5h-5zM143 268h5v5h-5zM104 271h5v5h-5zM107 271h5v5h-5zM116 271h5v5h-5zM137 271h5v5h-5zM143 271h5v5h-5zM92 274h5v5h-5zM95 274h5v5h-5zM101 274h5v5h-5zM107 274h5v5h-5zM146 274h5v5h-5zM89 277h5v5h-5zM152 277h5v5h-5zM86 280h5v5h-5zM158 280h5v5h-5zM161 280h5v5h-5zM161 283h5v5h-5zM164 283h5v5h-5zM86 286h5v5h-5zM161 286h5v5h-5zM164 286h5v5h-5zM86 289h5v5h-5zM83 292h5v5h-5zM164 292h5v5h-5zM77 295h5v5h-5zM80 295h5v5h-5zM161 295h5v5h-5zM164 295h5v5h-5zM77 298h5v5h-5zM80 298h5v5h-5zM161 298h5v5h-5zM164 298h5v5h-5zM77 301h5v5h-5zM158 301h5v5h-5zM77 304h5v5h-5zM155 304h5v5h-5zM158 304h5v5h-5zM77 307h5v5h-5zM155 307h5v5h-5zM77 310h5v5h-5zM98 310h5v5h-5zM146 313h5v5h-5zM155 313h5v5h-5zM89 316h5v5h-5zM95 316h5v5h-5zM134 316h5v5h-5zM140 316h5v5h-5zM143 316h5v5h-5zM155 316h5v5h-5zM92 319h5v5h-5zM95 319h5v5h-5zM101 319h5v5h-5zM104 319h5v5h-5zM128 319h5v5h-5zM137 319h5v5h-5zM140 319h5v5h-5zM158 319h5v5h-5zM89 322h5v5h-5zM92 322h5v5h-5zM125 322h5v5h-5zM158 322h5v5h-5zM161 322h5v5h-5zM119 325h5v5h-5zM128 325h5v5h-5zM164 325h5v5h-5zM98 328h5v5h-5zM104 328h5v5h-5zM110 328h5v5h-5zM119 328h5v5h-5zM122 328h5v5h-5zM128 328h5v5h-5zM107 331h5v5h-5zM116 331h5v5h-5zM119 331h5v5h-5zM122 331h5v5h-5zM125 331h5v5h-5zM134 331h5v5h-5zM116 334h5v5h-5zM119 334h5v5h-5zM122 334h5v5h-5zM140 334h5v5h-5zM146 334h5v5h-5zM152 334h5v5h-5zM155 334h5v5h-5zM158 334h5v5h-5zM161 334h5v5h-5zM164 334h5v5h-5zM119 337h5v5h-5zM122 337h5v5h-5zM125 337h5v5h-5zM128 337h5v5h-5zM137 337h5v5h-5zM140 337h5v5h-5zM143 337h5v5h-5zM152 337h5v5h-5zM155 337h5v5h-5zM107 340h5v5h-5zM125 340h5v5h-5zM140 340h5v5h-5zM113 343h5v5h-5zM119 343h5v5h-5zM152 346h5v5h-5zM110 349h5v5h-5zM113 349h5v5h-5zM116 349h5v5h-5zM119 349h5v5h-5zM137 349h5v5h-5zM113 352h5v5h-5zM134 352h5v5h-5zM140 352h5v5h-5zM143 352h5v5h-5zM104 355h5v5h-5z" fill="#18e824"/><path d="M116 268h5v5h-5zM113 271h5v5h-5zM119 271h5v5h-5zM122 271h5v5h-5zM125 271h5v5h-5zM128 271h5v5h-5zM131 271h5v5h-5zM134 271h5v5h-5zM140 271h5v5h-5zM104 274h5v5h-5zM92 277h5v5h-5zM95 277h5v5h-5zM149 277h5v5h-5zM89 280h5v5h-5zM152 280h5v5h-5zM155 280h5v5h-5zM158 283h5v5h-5zM161 289h5v5h-5zM161 292h5v5h-5zM158 298h5v5h-5zM80 301h5v5h-5zM80 304h5v5h-5zM80 307h5v5h-5zM83 307h5v5h-5zM83 310h5v5h-5zM152 310h5v5h-5zM155 310h5v5h-5zM86 313h5v5h-5zM95 313h5v5h-5zM101 313h5v5h-5zM143 313h5v5h-5zM152 313h5v5h-5zM131 316h5v5h-5zM137 316h5v5h-5zM107 319h5v5h-5zM125 319h5v5h-5zM95 322h5v5h-5zM101 322h5v5h-5zM107 322h5v5h-5zM110 322h5v5h-5zM122 322h5v5h-5zM92 325h5v5h-5zM95 325h5v5h-5zM98 325h5v5h-5zM107 325h5v5h-5zM107 328h5v5h-5zM116 328h5v5h-5zM110 331h5v5h-5zM113 331h5v5h-5zM125 334h5v5h-5zM110 343h5v5h-5zM113 346h5v5h-5zM116 346h5v5h-5z" fill="#36e81c"/><path d="M110 274h5v5h-5zM143 274h5v5h-5zM98 277h5v5h-5zM101 277h5v5h-5zM152 283h5v5h-5zM155 283h5v5h-5zM158 286h5v5h-5zM158 292h5v5h-5zM83 295h5v5h-5zM158 295h5v5h-5zM83 298h5v5h-5zM155 298h5v5h-5zM83 301h5v5h-5zM155 301h5v5h-5zM98 307h5v5h-5zM152 307h5v5h-5zM86 310h5v5h-5zM101 310h5v5h-5zM149 310h5v5h-5zM89 313h5v5h-5zM134 313h5v5h-5zM137 313h5v5h-5zM140 313h5v5h-5zM104 316h5v5h-5zM128 316h5v5h-5zM110 319h5v5h-5zM119 319h5v5h-5zM122 319h5v5h-5zM98 322h5v5h-5zM104 322h5v5h-5zM119 322h5v5h-5zM101 325h5v5h-5zM104 325h5v5h-5zM110 325h5v5h-5zM116 325h5v5h-5zM113 328h5v5h-5z" fill="#54e814"/><path d="M113 274h5v5h-5zM116 274h5v5h-5zM119 274h5v5h-5zM125 274h5v5h-5zM128 274h5v5h-5zM131 274h5v5h-5zM134 274h5v5h-5zM137 274h5v5h-5zM140 274h5v5h-5zM104 277h5v5h-5zM146 277h5v5h-5zM92 280h5v5h-5zM89 283h5v5h-5zM89 286h5v5h-5zM155 286h5v5h-5zM89 289h5v5h-5zM158 289h5v5h-5zM86 292h5v5h-5zM155 295h5v5h-5zM152 298h5v5h-5zM152 301h5v5h-5zM83 304h5v5h-5zM86 304h5v5h-5zM152 304h5v5h-5zM86 307h5v5h-5zM95 310h5v5h-5zM146 310h5v5h-5zM92 313h5v5h-5zM104 313h5v5h-5zM131 313h5v5h-5zM107 316h5v5h-5zM116 316h5v5h-5zM113 319h5v5h-5zM116 319h5v5h-5zM113 322h5v5h-5zM116 322h5v5h-5zM113 325h5v5h-5z" fill="#72e80c"/><path d="M122 274h5v5h-5zM107 277h5v5h-5zM95 280h5v5h-5zM98 280h5v5h-5zM149 280h5v5h-5zM92 283h5v5h-5zM152 286h5v5h-5zM155 289h5v5h-5zM152 292h5v5h-5zM155 292h5v5h-5zM86 295h5v5h-5zM152 295h5v5h-5zM86 298h5v5h-5zM86 301h5v5h-5zM98 304h5v5h-5zM95 307h5v5h-5zM101 307h5v5h-5zM89 310h5v5h-5zM92 310h5v5h-5zM140 310h5v5h-5zM143 310h5v5h-5zM128 313h5v5h-5zM110 316h5v5h-5zM113 316h5v5h-5zM119 316h5v5h-5zM122 316h5v5h-5zM125 316h5v5h-5z" fill="#90e804"/><path d="M23 277h5v5h-5zM17 280h5v5h-5zM20 280h5v5h-5zM56 280h5v5h-5zM68 280h5v5h-5zM71 280h5v5h-5zM53 286h5v5h-5zM14 289h5v5h-5zM20 289h5v5h-5zM29 289h5v5h-5zM35 289h5v5h-5zM53 289h5v5h-5zM26 292h5v5h-5zM29 292h5v5h-5zM38 292h5v5h-5zM14 295h5v5h-5zM17 295h5v5h-5zM62 295h5v5h-5zM14 298h5v5h-5zM29 298h5v5h-5zM14 301h5v5h-5zM20 301h5v5h-5zM14 304h5v5h-5zM23 304h5v5h-5zM26 304h5v5h-5zM14 307h5v5h-5zM20 307h5v5h-5zM14 310h5v5h-5zM41 310h5v5h-5zM17 313h5v5h-5zM20 313h5v5h-5zM41 313h5v5h-5zM62 313h5v5h-5zM44 316h5v5h-5zM47 316h5v5h-5zM50 316h5v5h-5zM53 316h5v5h-5zM56 316h5v5h-5zM59 316h5v5h-5zM62 316h5v5h-5zM11 319h5v5h-5zM14 319h5v5h-5zM47 319h5v5h-5zM53 319h5v5h-5zM56 319h5v5h-5zM59 319h5v5h-5zM8 322h5v5h-5zM38 322h5v5h-5zM41 322h5v5h-5zM44 322h5v5h-5zM56 322h5v5h-5zM62 322h5v5h-5zM29 325h5v5h-5zM35 325h5v5h-5zM38 325h5v5h-5zM44 325h5v5h-5zM50 325h5v5h-5zM68 325h5v5h-5zM8 328h5v5h-5zM53 328h5v5h-5zM50 331h5v5h-5zM53 331h5v5h-5zM74 331h5v5h-5zM95 331h5v5h-5zM53 334h5v5h-5zM74 334h5v5h-5zM92 334h5v5h-5zM62 337h5v5h-5zM65 337h5v5h-5z" fill="#00d8f0"/><path d="M110 277h5v5h-5zM143 277h5v5h-5zM101 280h5v5h-5zM95 283h5v5h-5zM98 283h5v5h-5zM149 283h5v5h-5zM92 286h5v5h-5zM95 286h5v5h-5zM92 289h5v5h-5zM152 289h5v5h-5zM89 292h5v5h-5zM149 295h5v5h-5zM89 298h5v5h-5zM149 298h5v5h-5zM89 301h5v5h-5zM89 304h5v5h-5zM101 304h5v5h-5zM89 307h5v5h-5zM149 307h5v5h-5zM104 310h5v5h-5zM131 310h5v5h-5zM134 310h5v5h-5zM137 310h5v5h-5zM110 313h5v5h-5zM116 313h5v5h-5zM125 313h5v5h-5z" fill="#ade600"/><path d="M113 277h5v5h-5zM116 277h5v5h-5zM119 277h5v5h-5zM122 277h5v5h-5zM128 277h5v5h-5zM146 280h5v5h-5zM149 286h5v5h-5zM95 289h5v5h-5zM149 289h5v5h-5zM92 292h5v5h-5zM146 292h5v5h-5zM149 292h5v5h-5zM89 295h5v5h-5zM149 301h5v5h-5zM95 304h5v5h-5zM149 304h5v5h-5zM104 307h5v5h-5zM134 307h5v5h-5zM140 307h5v5h-5zM107 310h5v5h-5zM125 310h5v5h-5zM128 310h5v5h-5zM107 313h5v5h-5zM113 313h5v5h-5zM119 313h5v5h-5zM122 313h5v5h-5z" fill="#c7e400"/><path d="M125 277h5v5h-5zM131 277h5v5h-5zM134 277h5v5h-5zM137 277h5v5h-5zM140 277h5v5h-5zM104 280h5v5h-5zM119 280h5v5h-5zM125 280h5v5h-5zM146 283h5v5h-5zM98 286h5v5h-5zM101 286h5v5h-5zM146 286h5v5h-5zM98 289h5v5h-5zM143 289h5v5h-5zM146 289h5v5h-5zM95 292h5v5h-5zM143 292h5v5h-5zM92 295h5v5h-5zM95 295h5v5h-5zM146 295h5v5h-5zM92 298h5v5h-5zM146 298h5v5h-5zM92 301h5v5h-5zM95 301h5v5h-5zM98 301h5v5h-5zM104 301h5v5h-5zM92 304h5v5h-5zM104 304h5v5h-5zM92 307h5v5h-5zM125 307h5v5h-5zM128 307h5v5h-5zM131 307h5v5h-5zM137 307h5v5h-5zM143 307h5v5h-5zM110 310h5v5h-5zM113 310h5v5h-5zM116 310h5v5h-5zM119 310h5v5h-5zM122 310h5v5h-5z" fill="#e2e100"/><path d="M59 280h5v5h-5zM62 280h5v5h-5zM65 280h5v5h-5zM71 286h5v5h-5zM56 289h5v5h-5zM68 292h5v5h-5zM38 295h5v5h-5zM38 304h5v5h-5zM38 307h5v5h-5zM23 313h5v5h-5zM26 316h5v5h-5zM38 316h5v5h-5zM20 319h5v5h-5zM32 319h5v5h-5zM35 319h5v5h-5zM14 328h5v5h-5zM56 328h5v5h-5zM59 328h5v5h-5zM56 331h5v5h-5zM56 334h5v5h-5zM71 334h5v5h-5z" fill="#059ff5"/><path d="M107 280h5v5h-5zM110 280h5v5h-5zM116 280h5v5h-5zM122 280h5v5h-5zM128 280h5v5h-5zM143 280h5v5h-5zM101 283h5v5h-5zM116 283h5v5h-5zM119 283h5v5h-5zM122 283h5v5h-5zM128 283h5v5h-5zM143 283h5v5h-5zM119 286h5v5h-5zM140 286h5v5h-5zM143 286h5v5h-5zM101 289h5v5h-5zM104 289h5v5h-5zM107 289h5v5h-5zM119 289h5v5h-5zM140 289h5v5h-5zM98 292h5v5h-5zM101 292h5v5h-5zM104 292h5v5h-5zM140 292h5v5h-5zM98 295h5v5h-5zM101 295h5v5h-5zM107 295h5v5h-5zM143 295h5v5h-5zM95 298h5v5h-5zM98 298h5v5h-5zM101 298h5v5h-5zM104 298h5v5h-5zM107 298h5v5h-5zM101 301h5v5h-5zM107 301h5v5h-5zM107 304h5v5h-5zM131 304h5v5h-5zM140 304h5v5h-5zM107 307h5v5h-5zM122 307h5v5h-5zM146 307h5v5h-5z" fill="#f2d400"/><path d="M113 280h5v5h-5zM131 280h5v5h-5zM104 283h5v5h-5zM125 283h5v5h-5zM131 283h5v5h-5zM134 283h5v5h-5zM107 286h5v5h-5zM116 286h5v5h-5zM122 286h5v5h-5zM125 286h5v5h-5zM131 286h5v5h-5zM134 286h5v5h-5zM137 286h5v5h-5zM110 289h5v5h-5zM116 289h5v5h-5zM122 289h5v5h-5zM125 289h5v5h-5zM137 289h5v5h-5zM107 292h5v5h-5zM110 292h5v5h-5zM137 292h5v5h-5zM104 295h5v5h-5zM137 295h5v5h-5zM140 295h5v5h-5zM110 298h5v5h-5zM143 298h5v5h-5zM110 301h5v5h-5zM116 301h5v5h-5zM140 301h5v5h-5zM143 301h5v5h-5zM146 301h5v5h-5zM110 304h5v5h-5zM119 304h5v5h-5zM122 304h5v5h-5zM128 304h5v5h-5zM134 304h5v5h-5zM137 304h5v5h-5zM143 304h5v5h-5zM110 307h5v5h-5zM119 307h5v5h-5z" fill="#f6bc00"/><path d="M134 280h5v5h-5zM140 280h5v5h-5zM113 283h5v5h-5zM137 283h5v5h-5zM140 283h5v5h-5zM104 286h5v5h-5zM110 286h5v5h-5zM113 286h5v5h-5zM128 286h5v5h-5zM113 289h5v5h-5zM131 289h5v5h-5zM134 289h5v5h-5zM113 292h5v5h-5zM116 292h5v5h-5zM119 292h5v5h-5zM122 292h5v5h-5zM134 292h5v5h-5zM110 295h5v5h-5zM113 295h5v5h-5zM116 295h5v5h-5zM131 295h5v5h-5zM134 295h5v5h-5zM113 298h5v5h-5zM131 298h5v5h-5zM134 298h5v5h-5zM137 298h5v5h-5zM140 298h5v5h-5zM113 301h5v5h-5zM131 301h5v5h-5zM134 301h5v5h-5zM137 301h5v5h-5zM113 304h5v5h-5zM116 304h5v5h-5zM125 304h5v5h-5zM146 304h5v5h-5zM113 307h5v5h-5zM116 307h5v5h-5z" fill="#faa500"/><path d="M137 280h5v5h-5zM122 295h5v5h-5zM125 295h5v5h-5zM119 298h5v5h-5zM128 298h5v5h-5z" fill="#ff7300"/><path d="M56 283h5v5h-5zM56 286h5v5h-5zM32 292h5v5h-5zM35 292h5v5h-5zM59 292h5v5h-5zM65 292h5v5h-5zM29 307h5v5h-5zM38 310h5v5h-5zM26 313h5v5h-5zM38 313h5v5h-5zM29 316h5v5h-5zM26 319h5v5h-5zM11 322h5v5h-5zM26 322h5v5h-5zM20 328h5v5h-5zM68 328h5v5h-5zM71 331h5v5h-5zM59 334h5v5h-5z" fill="#0883f8"/><path d="M59 283h5v5h-5zM65 283h5v5h-5zM68 289h5v5h-5zM32 295h5v5h-5zM38 301h5v5h-5zM29 313h5v5h-5zM14 322h5v5h-5zM62 328h5v5h-5zM65 328h5v5h-5zM59 331h5v5h-5zM62 334h5v5h-5z" fill="#0e4bfd"/><path d="M62 283h5v5h-5zM65 289h5v5h-5zM32 298h5v5h-5zM32 304h5v5h-5zM35 313h5v5h-5zM17 322h5v5h-5zM14 325h5v5h-5zM62 331h5v5h-5z" fill="#2223ff"/><path d="M68 283h5v5h-5zM62 292h5v5h-5zM38 298h5v5h-5zM26 310h5v5h-5zM29 310h5v5h-5zM32 316h5v5h-5zM35 316h5v5h-5zM11 325h5v5h-5zM26 325h5v5h-5zM17 328h5v5h-5zM23 328h5v5h-5zM68 334h5v5h-5z" fill="#0b67fb"/><path d="M71 283h5v5h-5zM71 289h5v5h-5zM17 292h5v5h-5zM23 292h5v5h-5zM56 292h5v5h-5zM20 295h5v5h-5zM23 295h5v5h-5zM26 295h5v5h-5zM29 295h5v5h-5zM59 295h5v5h-5zM65 295h5v5h-5zM17 298h5v5h-5zM20 298h5v5h-5zM23 298h5v5h-5zM26 298h5v5h-5zM17 301h5v5h-5zM23 301h5v5h-5zM29 301h5v5h-5zM17 304h5v5h-5zM20 304h5v5h-5zM29 304h5v5h-5zM17 307h5v5h-5zM23 307h5v5h-5zM26 307h5v5h-5zM17 310h5v5h-5zM20 310h5v5h-5zM23 310h5v5h-5zM23 316h5v5h-5zM41 316h5v5h-5zM17 319h5v5h-5zM23 319h5v5h-5zM29 319h5v5h-5zM38 319h5v5h-5zM44 319h5v5h-5zM50 319h5v5h-5zM62 319h5v5h-5zM29 322h5v5h-5zM32 322h5v5h-5zM35 322h5v5h-5zM47 322h5v5h-5zM50 322h5v5h-5zM53 322h5v5h-5zM8 325h5v5h-5zM47 325h5v5h-5zM53 325h5v5h-5zM56 325h5v5h-5zM59 325h5v5h-5zM62 325h5v5h-5zM65 325h5v5h-5zM11 328h5v5h-5zM26 328h5v5h-5zM71 328h5v5h-5zM95 334h5v5h-5zM98 334h5v5h-5zM59 337h5v5h-5z" fill="#02bbf2"/><path d="M107 283h5v5h-5zM110 283h5v5h-5zM128 289h5v5h-5zM125 292h5v5h-5zM128 292h5v5h-5zM131 292h5v5h-5zM119 295h5v5h-5zM128 295h5v5h-5zM116 298h5v5h-5zM119 301h5v5h-5zM128 301h5v5h-5z" fill="#fe8e00"/><path d="M59 286h5v5h-5zM62 289h5v5h-5zM35 295h5v5h-5zM32 301h5v5h-5zM35 307h5v5h-5zM32 310h5v5h-5zM35 310h5v5h-5zM17 325h5v5h-5zM65 331h5v5h-5z" fill="#2e11ff"/><path d="M62 286h5v5h-5zM65 286h5v5h-5zM35 298h5v5h-5zM35 301h5v5h-5zM35 304h5v5h-5zM20 325h5v5h-5z" fill="#3a00ff"/><path d="M68 286h5v5h-5zM59 289h5v5h-5zM32 307h5v5h-5zM32 313h5v5h-5zM20 322h5v5h-5zM23 322h5v5h-5zM23 325h5v5h-5zM68 331h5v5h-5zM65 334h5v5h-5z" fill="#1735ff"/><path d="M122 298h5v5h-5zM125 298h5v5h-5z" fill="#ff3b00"/><path d="M122 301h5v5h-5zM125 301h5v5h-5z" fill="#ff5700"/></g></g><text x="0.0" y="187.8" font-size="19" text-anchor="start" fill="#111" font-weight="normal" font-style="normal" >d</text><text x="14.8" y="196.0" font-size="10.8" text-anchor="start" fill="#222" font-weight="normal" font-style="normal" >CZHE</text><text x="14.8" y="290.5" font-size="10.8" text-anchor="start" fill="#222" font-weight="normal" font-style="normal" >LE</text><rect x="178.00" y="217.60" width="11.50" height="85.20" fill="url(#cbd)" /><line x1="189.50" y1="261.20" x2="191.00" y2="261.20" stroke="#555" stroke-width="0.6" /><text x="174.2" y="193.5" font-size="10.5" text-anchor="start" fill="#111" font-weight="bold" font-style="normal" >μm</text><text x="174.2" y="206.5" font-size="10.5" text-anchor="start" fill="#111" font-weight="bold" font-style="normal" >25</text><text x="202.6" y="265.2" font-size="10.5" text-anchor="start" fill="#111" font-weight="bold" font-style="normal" >0</text><text x="172.8" y="319.0" font-size="10.5" text-anchor="start" fill="#111" font-weight="bold" font-style="normal" >-25</text><rect x="228.60" y="185.50" width="195.00" height="141.00" fill="none" stroke="#2a2a2a" stroke-width="1.2"/><line x1="228.60" y1="326.50" x2="228.60" y2="329.50" stroke="#2a2a2a" stroke-width="1" /><text x="228.6" y="339.3" font-size="9.5" text-anchor="middle" fill="#222" font-weight="normal" font-style="normal" >10</text><line x1="242.53" y1="326.50" x2="242.53" y2="328.30" stroke="#2a2a2a" stroke-width="0.8" /><line x1="256.46" y1="326.50" x2="256.46" y2="329.50" stroke="#2a2a2a" stroke-width="1" /><text x="256.5" y="339.3" font-size="9.5" text-anchor="middle" fill="#222" font-weight="normal" font-style="normal" >20</text><line x1="270.39" y1="326.50" x2="270.39" y2="328.30" stroke="#2a2a2a" stroke-width="0.8" /><line x1="284.31" y1="326.50" x2="284.31" y2="329.50" stroke="#2a2a2a" stroke-width="1" /><text x="284.3" y="339.3" font-size="9.5" text-anchor="middle" fill="#222" font-weight="normal" font-style="normal" >30</text><line x1="298.24" y1="326.50" x2="298.24" y2="328.30" stroke="#2a2a2a" stroke-width="0.8" /><line x1="312.17" y1="326.50" x2="312.17" y2="329.50" stroke="#2a2a2a" stroke-width="1" /><text x="312.2" y="339.3" font-size="9.5" text-anchor="middle" fill="#222" font-weight="normal" font-style="normal" >40</text><line x1="326.10" y1="326.50" x2="326.10" y2="328.30" stroke="#2a2a2a" stroke-width="0.8" /><line x1="340.03" y1="326.50" x2="340.03" y2="329.50" stroke="#2a2a2a" stroke-width="1" /><text x="340.0" y="339.3" font-size="9.5" text-anchor="middle" fill="#222" font-weight="normal" font-style="normal" >50</text><line x1="353.96" y1="326.50" x2="353.96" y2="328.30" stroke="#2a2a2a" stroke-width="0.8" /><line x1="367.89" y1="326.50" x2="367.89" y2="329.50" stroke="#2a2a2a" stroke-width="1" /><text x="367.9" y="339.3" font-size="9.5" text-anchor="middle" fill="#222" font-weight="normal" font-style="normal" >60</text><line x1="381.81" y1="326.50" x2="381.81" y2="328.30" stroke="#2a2a2a" stroke-width="0.8" /><line x1="395.74" y1="326.50" x2="395.74" y2="329.50" stroke="#2a2a2a" stroke-width="1" /><text x="395.7" y="339.3" font-size="9.5" text-anchor="middle" fill="#222" font-weight="normal" font-style="normal" >70</text><line x1="409.67" y1="326.50" x2="409.67" y2="328.30" stroke="#2a2a2a" stroke-width="0.8" /><line x1="423.60" y1="326.50" x2="423.60" y2="329.50" stroke="#2a2a2a" stroke-width="1" /><text x="423.6" y="339.3" font-size="9.5" text-anchor="middle" fill="#222" font-weight="normal" font-style="normal" >80</text><text x="326.5" y="356.0" font-size="11.7" text-anchor="middle" fill="#222" font-weight="normal" font-style="normal" >2θ (degree)</text><text transform="translate(222.6,256) rotate(-90)" font-size="11.7" text-anchor="middle" fill="#222">Intensity (arb. units)</text><text x="210.0" y="188.5" font-size="16.5" text-anchor="start" fill="#111" font-weight="normal" font-style="normal" >e</text><path d="M228.6 225.30 L301.4 225.26 L301.6 225.26 L301.9 225.25 L302.1 225.24 L302.4 225.21 L302.6 225.16 L302.9 225.04 L303.1 224.77 L303.4 224.21 L303.6 223.26 L303.9 221.87 L304.1 220.20 L304.4 218.67 L304.6 217.78 L304.9 217.89 L305.1 218.94 L305.4 220.54 L305.6 222.17 L305.9 223.48 L306.1 224.35 L306.4 224.84 L306.6 225.07 L306.9 225.17 L307.1 225.21 L307.4 225.23 L307.6 225.24 L307.9 225.25 L308.1 225.25 L308.4 225.26 L308.6 225.26 L308.9 225.26 L309.4 225.26 L309.6 225.26 L309.9 225.26 L310.1 225.24 L310.4 225.22 L310.6 225.15 L310.9 225.00 L311.1 224.74 L311.4 224.32 L311.6 223.78 L311.9 223.21 L312.1 222.80 L312.4 222.69 L312.6 222.94 L312.9 223.43 L313.1 224.00 L313.4 224.51 L313.6 224.86 L313.9 225.08 L314.1 225.19 L314.4 225.24 L314.6 225.26 L314.9 225.26 L319.1 225.26 L319.4 225.26 L319.6 225.26 L319.9 225.25 L320.1 225.25 L320.4 225.24 L320.6 225.23 L320.9 225.22 L321.1 225.21 L321.4 225.19 L321.6 225.17 L321.9 225.11 L322.1 224.97 L322.4 224.63 L322.6 223.91 L322.9 222.55 L323.1 220.34 L323.4 217.35 L323.6 214.10 L323.9 211.50 L324.1 210.50 L324.4 211.50 L324.6 214.10 L324.9 217.35 L325.1 220.34 L325.4 222.55 L325.6 223.92 L325.9 224.64 L326.1 224.97 L326.4 225.11 L326.6 225.17 L326.9 225.19 L327.1 225.21 L327.4 225.22 L327.6 225.23 L327.9 225.24 L328.1 225.25 L328.4 225.25 L328.6 225.26 L328.9 225.26 L352.1 225.26 L352.4 225.25 L352.6 225.23 L352.9 225.18 L353.1 225.05 L353.4 224.78 L353.6 224.29 L353.9 223.51 L354.1 222.51 L354.4 221.47 L354.6 220.71 L354.9 220.51 L355.1 220.96 L355.4 221.87 L355.6 222.93 L355.9 223.86 L356.1 224.52 L356.4 224.91 L356.6 225.11 L356.9 225.20 L357.1 225.24 L357.4 225.26 L357.6 225.27 L394.4 225.26 L394.6 225.26 L394.9 225.25 L395.1 225.25 L395.4 225.24 L395.6 225.23 L395.9 225.20 L396.1 225.16 L396.4 225.06 L396.6 224.84 L396.9 224.40 L397.1 223.64 L397.4 222.44 L397.6 220.84 L397.9 219.01 L398.1 217.34 L398.4 216.29 L398.6 216.18 L398.9 217.07 L399.1 218.65 L399.4 220.48 L399.6 222.15 L399.9 223.43 L400.1 224.28 L400.4 224.77 L400.6 225.02 L400.9 225.14 L401.1 225.20 L401.4 225.22 L401.6 225.24 L401.9 225.25 L402.1 225.25 L402.4 225.26 L402.6 225.26 L415.9 225.28 L416.1 225.26 L416.4 225.22 L416.6 225.15 L416.9 225.05 L417.1 224.91 L417.4 224.75 L417.6 224.61 L417.9 224.51 L418.1 224.51 L418.4 224.58 L418.6 224.72 L418.9 224.88 L419.1 225.02 L419.4 225.14 L419.6 225.21 L419.9 225.25 L420.1 225.27 L423.6 225.30" stroke="#3a78c0" fill="none" stroke-width="1.2" stroke-linejoin="round"/><path d="M228.6 253.97 L228.8 253.95 L229.1 253.93 L229.3 253.91 L229.6 253.88 L229.8 253.85 L230.1 253.81 L230.3 253.77 L230.6 253.73 L230.8 253.68 L231.1 253.62 L231.3 253.55 L231.6 253.47 L231.8 253.38 L232.1 253.28 L232.3 253.18 L232.6 253.06 L232.8 252.94 L233.1 252.83 L233.3 252.73 L233.6 252.65 L233.8 252.61 L234.1 252.60 L234.3 252.64 L234.6 252.71 L234.8 252.81 L235.1 252.92 L235.3 253.04 L235.6 253.15 L235.8 253.26 L236.1 253.36 L236.3 253.45 L236.6 253.53 L236.8 253.60 L237.1 253.66 L237.3 253.72 L237.6 253.76 L237.8 253.81 L238.1 253.84 L238.3 253.87 L238.6 253.90 L238.8 253.93 L239.1 253.95 L239.3 253.97 L239.6 253.99 L239.8 254.00 L240.1 254.02 L240.3 254.03 L240.6 254.04 L240.8 254.05 L241.1 254.06 L241.3 254.07 L241.6 254.08 L241.8 254.08 L242.1 254.09 L242.3 254.10 L242.6 254.10 L242.8 254.11 L243.1 254.11 L243.3 254.12 L243.6 254.12 L243.8 254.12 L244.1 254.13 L244.3 254.13 L244.6 254.13 L244.8 254.14 L245.1 254.14 L245.3 254.14 L245.6 254.14 L245.8 254.15 L246.1 254.15 L246.3 254.15 L246.6 254.15 L246.8 254.15 L247.1 254.16 L247.3 254.16 L247.6 254.16 L247.8 254.16 L300.4 254.16 L300.6 254.16 L300.9 254.15 L301.1 254.14 L301.4 254.14 L301.6 254.12 L301.9 254.11 L302.1 254.07 L302.4 253.98 L302.6 253.75 L302.9 253.17 L303.1 251.97 L303.4 249.94 L303.6 247.20 L303.9 244.44 L304.1 242.76 L304.4 242.96 L304.6 244.94 L304.9 247.78 L305.1 250.41 L305.4 252.27 L305.6 253.32 L305.9 253.81 L306.1 254.00 L306.4 254.08 L306.6 254.11 L306.9 254.12 L307.1 254.13 L307.4 254.14 L307.6 254.14 L307.9 254.15 L308.1 254.15 L308.4 254.15 L308.6 254.15 L308.9 254.15 L309.1 254.15 L309.4 254.15 L309.6 254.14 L309.9 254.11 L310.1 254.04 L310.4 253.87 L310.6 253.51 L310.9 252.90 L311.1 252.07 L311.4 251.24 L311.6 250.73 L311.9 250.79 L312.1 251.39 L312.4 252.25 L312.6 253.04 L312.9 253.61 L313.1 253.92 L313.4 254.07 L313.6 254.13 L313.9 254.15 L314.1 254.16 L314.4 254.16 L318.6 254.16 L318.9 254.16 L319.1 254.15 L319.4 254.15 L319.6 254.14 L319.9 254.14 L320.1 254.13 L320.4 254.12 L320.6 254.11 L320.9 254.09 L321.1 254.06 L321.4 254.02 L321.6 253.91 L321.9 253.60 L322.1 252.84 L322.4 251.22 L322.6 248.33 L322.9 244.24 L323.1 239.84 L323.4 236.76 L323.6 236.45 L323.9 239.07 L324.1 243.34 L324.4 247.59 L324.6 250.75 L324.9 252.60 L325.1 253.50 L325.4 253.87 L325.6 254.00 L325.9 254.06 L326.1 254.09 L326.4 254.10 L326.6 254.12 L326.9 254.13 L327.1 254.14 L327.4 254.14 L327.6 254.15 L327.9 254.16 L328.1 254.16 L351.9 254.16 L352.1 254.15 L352.4 254.14 L352.6 254.10 L352.9 254.00 L353.1 253.75 L353.4 253.20 L353.6 252.24 L353.9 250.88 L354.1 249.41 L354.4 248.39 L354.6 248.28 L354.9 249.15 L355.1 250.58 L355.4 252.00 L355.6 253.05 L355.9 253.67 L356.1 253.97 L356.4 254.09 L356.6 254.13 L356.9 254.15 L357.1 254.16 L394.1 254.16 L394.4 254.16 L394.6 254.15 L394.9 254.14 L395.1 254.13 L395.4 254.11 L395.6 254.07 L395.9 253.97 L396.1 253.77 L396.4 253.37 L396.6 252.66 L396.9 251.56 L397.1 250.08 L397.4 248.39 L397.6 246.85 L397.9 245.87 L398.1 245.78 L398.4 246.60 L398.6 248.06 L398.9 249.75 L399.1 251.29 L399.4 252.47 L399.6 253.26 L399.9 253.71 L400.1 253.94 L400.4 254.06 L400.6 254.11 L400.9 254.13 L401.1 254.14 L401.4 254.15 L401.6 254.16 L401.9 254.16 L415.9 254.18 L416.1 254.16 L416.4 254.12 L416.6 254.05 L416.9 253.95 L417.1 253.81 L417.4 253.65 L417.6 253.51 L417.9 253.41 L418.1 253.41 L418.4 253.48 L418.6 253.62 L418.9 253.78 L419.1 253.92 L419.4 254.04 L419.6 254.11 L419.9 254.15 L420.1 254.17 L423.6 254.20" stroke="#f5894a" fill="none" stroke-width="1.2" stroke-linejoin="round"/><path d="M228.6 292.40 L298.9 292.36 L299.1 292.36 L299.4 292.35 L299.6 292.35 L299.9 292.34 L300.1 292.33 L300.4 292.32 L300.6 292.30 L300.9 292.27 L301.1 292.21 L301.4 292.05 L301.6 291.58 L301.9 290.44 L302.1 288.21 L302.4 284.79 L302.6 280.88 L302.9 278.03 L303.1 277.73 L303.4 280.16 L303.6 284.00 L303.9 287.61 L304.1 290.09 L304.4 291.41 L304.6 291.98 L304.9 292.19 L305.1 292.26 L305.4 292.29 L305.6 292.31 L305.9 292.32 L306.1 292.33 L306.4 292.34 L306.6 292.34 L306.9 292.35 L307.1 292.35 L307.4 292.35 L307.6 292.35 L307.9 292.35 L308.1 292.35 L308.4 292.35 L308.6 292.34 L308.9 292.32 L309.1 292.26 L309.4 292.12 L309.6 291.80 L309.9 291.20 L310.1 290.32 L310.4 289.30 L310.6 288.51 L310.9 288.30 L311.1 288.78 L311.4 289.71 L311.6 290.70 L311.9 291.48 L312.1 291.96 L312.4 292.20 L312.6 292.30 L312.9 292.34 L313.1 292.35 L313.4 292.36 L313.6 292.36 L317.4 292.36 L317.6 292.36 L317.9 292.36 L318.1 292.35 L318.4 292.35 L318.6 292.34 L318.9 292.33 L319.1 292.32 L319.4 292.31 L319.6 292.30 L319.9 292.28 L320.1 292.26 L320.4 292.23 L320.6 292.16 L320.9 291.99 L321.1 291.45 L321.4 289.96 L321.6 286.66 L321.9 281.05 L322.1 274.16 L322.4 268.90 L322.6 268.35 L322.9 272.86 L323.1 279.71 L323.4 285.72 L323.6 289.48 L323.9 291.25 L324.1 291.92 L324.4 292.14 L324.6 292.22 L324.9 292.26 L325.1 292.28 L325.4 292.30 L325.6 292.31 L325.9 292.33 L326.1 292.34 L326.4 292.34 L326.6 292.35 L326.9 292.35 L327.1 292.36 L327.4 292.36 L350.4 292.37 L350.6 292.36 L350.9 292.35 L351.1 292.34 L351.4 292.32 L351.6 292.27 L351.9 292.14 L352.1 291.81 L352.4 291.11 L352.6 289.86 L352.9 288.08 L353.1 286.18 L353.4 284.84 L353.6 284.71 L353.9 285.84 L354.1 287.69 L354.4 289.54 L354.6 290.90 L354.9 291.71 L355.1 292.10 L355.4 292.26 L355.6 292.32 L355.9 292.34 L356.1 292.35 L356.4 292.36 L356.6 292.36 L393.6 292.36 L393.9 292.36 L394.1 292.35 L394.4 292.34 L394.6 292.33 L394.9 292.32 L395.1 292.29 L395.4 292.24 L395.6 292.10 L395.9 291.77 L396.1 291.11 L396.4 289.92 L396.6 288.13 L396.9 285.89 L397.1 283.71 L397.4 282.26 L397.6 282.12 L397.9 283.33 L398.1 285.43 L398.4 287.71 L398.6 289.61 L398.9 290.92 L399.1 291.67 L399.4 292.05 L399.6 292.22 L399.9 292.29 L400.1 292.32 L400.4 292.33 L400.6 292.34 L400.9 292.35 L401.1 292.36 L401.4 292.36 L415.9 292.38 L416.1 292.36 L416.4 292.32 L416.6 292.25 L416.9 292.15 L417.1 292.01 L417.4 291.85 L417.6 291.71 L417.9 291.61 L418.1 291.61 L418.4 291.68 L418.6 291.82 L418.9 291.98 L419.1 292.12 L419.4 292.24 L419.6 292.31 L419.9 292.35 L420.1 292.37 L423.6 292.40" stroke="#cc2848" fill="none" stroke-width="1.2" stroke-linejoin="round"/><path d="M228.6 323.50 L298.6 323.46 L298.9 323.46 L299.1 323.46 L299.4 323.45 L299.6 323.44 L299.9 323.43 L300.1 323.42 L300.4 323.41 L300.6 323.38 L300.9 323.32 L301.1 323.16 L301.4 322.81 L301.6 322.09 L301.9 320.80 L302.1 318.85 L302.4 316.42 L302.6 314.05 L302.9 312.47 L303.1 312.32 L303.4 313.64 L303.6 315.92 L303.9 318.39 L304.1 320.46 L304.4 321.88 L304.6 322.70 L304.9 323.11 L305.1 323.29 L305.4 323.36 L305.6 323.39 L305.9 323.41 L306.1 323.42 L306.4 323.43 L306.6 323.43 L306.9 323.43 L307.1 323.43 L307.4 323.43 L307.6 323.43 L307.9 323.43 L308.1 323.41 L308.4 323.38 L308.6 323.30 L308.9 323.14 L309.1 322.84 L309.4 322.34 L309.6 321.63 L309.9 320.76 L310.1 319.89 L310.4 319.23 L310.6 318.98 L310.9 319.23 L311.1 319.89 L311.4 320.77 L311.6 321.63 L311.9 322.34 L312.1 322.84 L312.4 323.14 L312.6 323.31 L312.9 323.39 L313.1 323.42 L313.4 323.44 L313.6 323.45 L313.9 323.45 L314.1 323.45 L314.4 323.46 L314.6 323.46 L314.9 323.46 L315.1 323.46 L315.4 323.46 L315.6 323.46 L315.9 323.46 L316.1 323.46 L316.4 323.46 L316.6 323.45 L316.9 323.45 L317.1 323.45 L317.4 323.45 L317.6 323.44 L317.9 323.44 L318.1 323.43 L318.4 323.42 L318.6 323.42 L318.9 323.41 L319.1 323.39 L319.4 323.38 L319.6 323.36 L319.9 323.33 L320.1 323.28 L320.4 323.16 L320.6 322.87 L320.9 322.20 L321.1 320.83 L321.4 318.38 L321.6 314.67 L321.9 310.05 L322.1 305.52 L322.4 302.53 L322.6 302.24 L322.9 304.76 L323.1 309.09 L323.4 313.80 L323.6 317.73 L323.9 320.44 L324.1 322.00 L324.4 322.78 L324.6 323.12 L324.9 323.26 L325.1 323.33 L325.4 323.36 L325.6 323.38 L325.9 323.40 L326.1 323.41 L326.4 323.42 L326.6 323.43 L326.9 323.44 L327.1 323.44 L327.4 323.45 L327.6 323.45 L327.9 323.46 L328.1 323.46 L328.4 323.46 L350.4 323.46 L350.6 323.46 L350.9 323.45 L351.1 323.42 L351.4 323.36 L351.6 323.24 L351.9 323.00 L352.1 322.58 L352.4 321.91 L352.6 321.03 L352.9 320.01 L353.1 319.09 L353.4 318.50 L353.6 318.44 L353.9 318.94 L354.1 319.81 L354.4 320.83 L354.6 321.75 L354.9 322.46 L355.1 322.93 L355.4 323.20 L355.6 323.35 L355.9 323.41 L356.1 323.44 L356.4 323.46 L356.6 323.46 L393.4 323.46 L393.6 323.45 L393.9 323.44 L394.1 323.42 L394.4 323.37 L394.6 323.29 L394.9 323.13 L395.1 322.86 L395.4 322.45 L395.6 321.85 L395.9 321.08 L396.1 320.18 L396.4 319.28 L396.6 318.53 L396.9 318.08 L397.1 318.03 L397.4 318.41 L397.6 319.11 L397.9 320.00 L398.1 320.90 L398.4 321.71 L398.6 322.34 L398.9 322.79 L399.1 323.09 L399.4 323.26 L399.6 323.36 L399.9 323.41 L400.1 323.44 L400.4 323.45 L400.6 323.46 L400.9 323.46 L416.1 323.47 L416.4 323.44 L416.6 323.39 L416.9 323.31 L417.1 323.21 L417.4 323.09 L417.6 322.98 L417.9 322.91 L418.1 322.90 L418.4 322.96 L418.6 323.07 L418.9 323.18 L419.1 323.29 L419.4 323.38 L419.6 323.43 L419.9 323.46 L423.6 323.50" stroke="#4a1022" fill="none" stroke-width="1.4" stroke-linejoin="round"/><text x="294.0" y="207.6" font-size="8.6" text-anchor="middle" fill="#222" font-weight="normal" font-style="normal" >(002)</text><text x="313.5" y="208.3" font-size="8.6" text-anchor="middle" fill="#222" font-weight="normal" font-style="normal" >(100)</text><text x="334.0" y="206.8" font-size="8.6" text-anchor="middle" fill="#222" font-weight="normal" font-style="normal" >(101)</text><text x="356.2" y="218.5" font-size="8.6" text-anchor="middle" fill="#222" font-weight="normal" font-style="normal" >(102)</text><text x="389.0" y="215.6" font-size="8.6" text-anchor="middle" fill="#222" font-weight="normal" font-style="normal" >(103)</text><text x="410.0" y="219.7" font-size="8.6" text-anchor="middle" fill="#222" font-weight="normal" font-style="normal" >(110)</text><text x="399.0" y="205.8" font-size="9" text-anchor="middle" fill="#3a78c0" font-weight="normal" font-style="normal" >LE</text><text x="335.8" y="243" font-size="8.3" fill="#f5894a">Zw gel + 3 m Zn(ClO<tspan font-size="6" dy="2">4</tspan><tspan dy="-2">)</tspan><tspan font-size="6" dy="2">2</tspan></text><text x="230" y="241" font-size="8.5" fill="#222">Zn<tspan font-size="6" dy="2">4</tspan><tspan dy="-2">ClO</tspan><tspan font-size="6" dy="2">4</tspan><tspan dy="-2">(OH)</tspan><tspan font-size="6" dy="2">7</tspan><tspan dy="-2">·</tspan><tspan font-style="italic">n</tspan>H<tspan font-size="6" dy="2">2</tspan><tspan dy="-2">O</tspan></text><line x1="234.80" y1="245.50" x2="234.80" y2="250.00" stroke="#222" stroke-width="0.8" /><polygon points="233.40,248.60 236.20,248.60 234.80,252.20" fill="#222" /><text x="405.5" y="280.2" font-size="9" text-anchor="middle" fill="#cc2848" font-weight="normal" font-style="normal" >CZHE</text><text x="405.7" y="317.0" font-size="9" text-anchor="middle" fill="#222" font-weight="normal" font-style="normal" >Zn foil</text><rect x="491.60" y="239.29" width="12.10" height="82.01" fill="#6e3a4c" /><rect x="506.30" y="257.51" width="11.90" height="63.79" fill="#3a7ab8" /><rect x="521.10" y="231.74" width="11.90" height="89.56" fill="#cc2f4c" /><rect x="547.10" y="268.62" width="11.70" height="52.68" fill="#6e3a4c" /><rect x="562.00" y="284.61" width="11.70" height="36.69" fill="#3a7ab8" /><rect x="576.70" y="284.61" width="11.90" height="36.69" fill="#cc2f4c" /><rect x="602.60" y="262.40" width="11.80" height="58.90" fill="#6e3a4c" /><rect x="617.40" y="273.95" width="11.70" height="47.35" fill="#3a7ab8" /><rect x="632.00" y="265.51" width="12.40" height="55.79" fill="#cc2f4c" /><path d="M483.7 321.3 V187.3 H651.3 V321.3" stroke="#2a2a2a" fill="none" stroke-width="1.1"/><rect x="484.40" y="321.30" width="166.90" height="13.20" fill="none" stroke="#2a2a2a" stroke-width="1.1"/><line x1="540.40" y1="321.30" x2="540.40" y2="334.50" stroke="#2a2a2a" stroke-width="1.1" /><line x1="595.60" y1="321.30" x2="595.60" y2="334.50" stroke="#2a2a2a" stroke-width="1.1" /><text x="512.4" y="329.9" font-size="7.2" text-anchor="middle" fill="#222" font-weight="bold" font-style="normal" >(002)</text><text x="568.0" y="329.9" font-size="7.2" text-anchor="middle" fill="#222" font-weight="bold" font-style="normal" >(100)</text><text x="623.4" y="329.9" font-size="7.2" text-anchor="middle" fill="#222" font-weight="bold" font-style="normal" >(101)</text><line x1="480.70" y1="320.60" x2="483.70" y2="320.60" stroke="#2a2a2a" stroke-width="1" /><text x="479.2" y="323.9" font-size="9" text-anchor="end" fill="#222" font-weight="bold" font-style="normal" >0</text><line x1="480.70" y1="276.17" x2="483.70" y2="276.17" stroke="#2a2a2a" stroke-width="1" /><text x="479.2" y="279.5" font-size="9" text-anchor="end" fill="#222" font-weight="bold" font-style="normal" >10</text><line x1="480.70" y1="231.74" x2="483.70" y2="231.74" stroke="#2a2a2a" stroke-width="1" /><text x="479.2" y="235.0" font-size="9" text-anchor="end" fill="#222" font-weight="bold" font-style="normal" >20</text><line x1="480.70" y1="187.31" x2="483.70" y2="187.31" stroke="#2a2a2a" stroke-width="1" /><text x="479.2" y="190.6" font-size="9" text-anchor="end" fill="#222" font-weight="bold" font-style="normal" >30</text><line x1="481.90" y1="298.39" x2="483.70" y2="298.39" stroke="#2a2a2a" stroke-width="0.8" /><line x1="481.90" y1="253.96" x2="483.70" y2="253.96" stroke="#2a2a2a" stroke-width="0.8" /><line x1="481.90" y1="209.53" x2="483.70" y2="209.53" stroke="#2a2a2a" stroke-width="0.8" /><text transform="translate(462.5,254) rotate(-90)" font-size="12" text-anchor="middle" fill="#222">RTC <tspan font-size="8.2" dy="3.6">(hkl)</tspan></text><text x="453.5" y="188.5" font-size="16.5" text-anchor="start" fill="#111" font-weight="normal" font-style="normal" >f</text><rect x="487.50" y="189.20" width="16.50" height="8.20" fill="#6e3a4c" /><text x="506.9" y="196.2" font-size="7.6" text-anchor="start" fill="#222" font-weight="bold" font-style="normal" >Pristine Zn</text><rect x="487.50" y="198.70" width="16.50" height="8.20" fill="#3a7ab8" /><text x="506.9" y="205.7" font-size="7.6" text-anchor="start" fill="#222" font-weight="bold" font-style="normal" >LE</text><rect x="487.50" y="208.20" width="16.50" height="8.20" fill="#cc2f4c" /><text x="506.9" y="215.2" font-size="7.6" text-anchor="start" fill="#222" font-weight="bold" font-style="normal" >CZHE</text><text x="514.5" y="349.2" font-size="11.5" text-anchor="middle" fill="#222" font-weight="normal" font-style="normal" >0-30°</text><text x="570.5" y="349.2" font-size="11.5" text-anchor="middle" fill="#222" font-weight="normal" font-style="normal" >70-90°</text><text x="625.5" y="349.2" font-size="11.5" text-anchor="middle" fill="#222" font-weight="normal" font-style="normal" >30°-70°</text><line x1="497.40" y1="233.80" x2="522.12" y2="224.80" stroke="#f01818" stroke-width="2.2" /><polygon points="528.70,222.40 523.56,228.74 520.69,220.85" fill="#f01818" /><line x1="557.00" y1="261.80" x2="580.70" y2="274.25" stroke="#f01818" stroke-width="2.2" /><polygon points="586.90,277.50 578.75,277.96 582.65,270.53" fill="#f01818" /><line x1="607.00" y1="253.00" x2="634.08" y2="259.31" stroke="#f01818" stroke-width="2.2" /><polygon points="640.90,260.90 633.13,263.40 635.04,255.22" fill="#f01818" /><polygon points="598.20,194.10 620.70,200.10 614.20,233.00 586.90,248.30 570.10,239.40 576.50,212.10" fill="#aca474" opacity="0.7"/><polygon points="575.70,191.20 586.10,205.70 586.10,232.00 575.70,236.00" fill="#e8a0a8" opacity="0.55"/><polygon points="569.50,219.50 577.00,212.30 606.00,212.30 621.00,219.50 614.00,227.50 586.00,227.50" fill="#25b8d8" opacity="0.85"/><line x1="586.00" y1="227.80" x2="614.00" y2="227.80" stroke="#c8f060" stroke-width="0.8" /><path d="M575.7 191.2 L604.6 191.2 L620.7 199.3 L615.8 205.7 L586.1 205.7 L569.3 199.3Z" stroke="#111" fill="none" stroke-width="0.9" /><path d="M569.3 199.3 V240.2 L586.1 248.3 H615.8 L620.7 240.2 V199.3 M586.1 205.7 V248.3 M615.8 205.7 V248.3" stroke="#111" fill="none" stroke-width="0.9" /><path d="M575.7 191.2 V233 L569.3 240.2 M575.7 233 H604.6 L620.7 240.2 M604.6 191.2 V233" stroke="#333" fill="none" stroke-width="0.8" stroke-dasharray="2.2 1.6"/><text transform="translate(562.5,217.7) rotate(-90)" font-size="6.3" text-anchor="middle" fill="#e05868">Zn (100)</text><text x="619.0" y="230.4" font-size="6.3" text-anchor="start" fill="#30b8d8" font-weight="normal" font-style="normal" >Zn (002)</text><text transform="translate(603,244.5) rotate(-52)" font-size="6.3" text-anchor="middle" fill="#d8d040">Zn (101)</text><rect x="43.40" y="380.10" width="378.50" height="154.50" fill="none" stroke="#3a3a3a" stroke-width="1.2"/><line x1="40.40" y1="534.60" x2="43.40" y2="534.60" stroke="#2a2a2a" stroke-width="1" /><text x="39.2" y="538.0" font-size="9.5" text-anchor="end" fill="#222" font-weight="normal" font-style="normal" >0</text><line x1="40.40" y1="503.70" x2="43.40" y2="503.70" stroke="#2a2a2a" stroke-width="1" /><text x="39.2" y="507.1" font-size="9.5" text-anchor="end" fill="#222" font-weight="normal" font-style="normal" >−2</text><line x1="40.40" y1="472.80" x2="43.40" y2="472.80" stroke="#2a2a2a" stroke-width="1" /><text x="39.2" y="476.2" font-size="9.5" text-anchor="end" fill="#222" font-weight="normal" font-style="normal" >−4</text><line x1="40.40" y1="441.90" x2="43.40" y2="441.90" stroke="#2a2a2a" stroke-width="1" /><text x="39.2" y="445.3" font-size="9.5" text-anchor="end" fill="#222" font-weight="normal" font-style="normal" >−6</text><line x1="40.40" y1="411.00" x2="43.40" y2="411.00" stroke="#2a2a2a" stroke-width="1" /><text x="39.2" y="414.4" font-size="9.5" text-anchor="end" fill="#222" font-weight="normal" font-style="normal" >−8</text><line x1="40.40" y1="380.10" x2="43.40" y2="380.10" stroke="#2a2a2a" stroke-width="1" /><text x="39.2" y="383.5" font-size="9.5" text-anchor="end" fill="#222" font-weight="normal" font-style="normal" >−10</text><line x1="41.60" y1="519.15" x2="43.40" y2="519.15" stroke="#2a2a2a" stroke-width="0.8" /><line x1="41.60" y1="488.25" x2="43.40" y2="488.25" stroke="#2a2a2a" stroke-width="0.8" /><line x1="41.60" y1="457.35" x2="43.40" y2="457.35" stroke="#2a2a2a" stroke-width="0.8" /><line x1="41.60" y1="426.45" x2="43.40" y2="426.45" stroke="#2a2a2a" stroke-width="0.8" /><line x1="41.60" y1="395.55" x2="43.40" y2="395.55" stroke="#2a2a2a" stroke-width="0.8" /><text transform="translate(18.4,456.5) rotate(-90)" font-size="12.7" text-anchor="middle" fill="#222">Binding energy (eV)</text><text x="0.0" y="378.5" font-size="18.5" text-anchor="start" fill="#111" font-weight="normal" font-style="normal" >g</text><rect x="60.40" y="525.18" width="20.00" height="9.42" fill="#d0452f" /><text x="70.4" y="522.8" font-size="8.6" text-anchor="middle" fill="#222" font-weight="normal" font-style="normal" >-0.61</text><text transform="translate(77.0,544.4) rotate(-43)" font-size="9.1" text-anchor="end" fill="#222">Zn-Zn(002)</text><rect x="96.80" y="504.63" width="20.00" height="29.97" fill="#c89c84" /><text x="106.8" y="502.2" font-size="8.6" text-anchor="middle" fill="#222" font-weight="normal" font-style="normal" >-1.94</text><text transform="translate(113.4,544.4) rotate(-43)" font-size="9.1" text-anchor="end" fill="#222">Zn-Zn(100)</text><rect x="132.90" y="515.29" width="20.00" height="19.31" fill="#7e5858" /><text x="142.9" y="512.9" font-size="8.6" text-anchor="middle" fill="#222" font-weight="normal" font-style="normal" >-1.25</text><text transform="translate(149.5,544.4) rotate(-43)" font-size="9.1" text-anchor="end" fill="#222">Zn-Zn(101)</text><rect x="186.80" y="509.73" width="20.00" height="24.87" fill="#d0452f" /><text x="196.8" y="507.3" font-size="8.6" text-anchor="middle" fill="#222" font-weight="normal" font-style="normal" >-1.61</text><text transform="translate(203.4,544.4) rotate(-43)" font-size="9.1" text-anchor="end" fill="#222">Zw-Zn(002)</text><rect x="222.70" y="493.97" width="20.00" height="40.63" fill="#c89c84" /><text x="232.7" y="491.6" font-size="8.6" text-anchor="middle" fill="#222" font-weight="normal" font-style="normal" >-2.63</text><text transform="translate(239.3,544.4) rotate(-43)" font-size="9.1" text-anchor="end" fill="#222">Zw-Zn(100)</text><rect x="258.90" y="508.18" width="20.00" height="26.42" fill="#7e5858" /><text x="268.9" y="505.8" font-size="8.6" text-anchor="middle" fill="#222" font-weight="normal" font-style="normal" >-1.71</text><text transform="translate(275.5,544.4) rotate(-43)" font-size="9.1" text-anchor="end" fill="#222">Zw-Zn(101)</text><rect x="312.50" y="512.35" width="20.00" height="22.25" fill="#3c1a1a" /><text x="322.5" y="510.0" font-size="8.6" text-anchor="middle" fill="#222" font-weight="normal" font-style="normal" >-1.44</text><text transform="translate(329.1,544.4) rotate(-43)" font-size="9.1" text-anchor="end" fill="#222">Zw-Zn</text><rect x="348.70" y="527.80" width="20.00" height="6.80" fill="#e0aca8" /><text x="358.7" y="525.4" font-size="8.6" text-anchor="middle" fill="#222" font-weight="normal" font-style="normal" >-0.44</text><text transform="translate(365.3,544.4) rotate(-43)" font-size="9.1" text-anchor="end" fill="#222">Zw-H<tspan font-size="6" dy="2">2</tspan><tspan dy="-2">O</tspan></text><rect x="385.90" y="531.66" width="20.00" height="2.94" fill="#f4dcae" /><text x="395.9" y="529.3" font-size="8.6" text-anchor="middle" fill="#222" font-weight="normal" font-style="normal" >-0.19</text><text transform="translate(402.5,544.4) rotate(-43)" font-size="9.1" text-anchor="end" fill="#222">H<tspan font-size="6" dy="2">2</tspan><tspan dy="-2">O-Zn(002)</tspan></text><line x1="43.40" y1="534.60" x2="421.90" y2="534.60" stroke="#3a3a3a" stroke-width="1.2" /><text x="70.0" y="437.8" font-size="11.2" text-anchor="middle" fill="#222" font-weight="normal" font-style="normal" >i</text><text x="106.6" y="437.8" font-size="11.2" text-anchor="middle" fill="#222" font-weight="normal" font-style="normal" >ii</text><text x="145.8" y="437.8" font-size="11.2" text-anchor="middle" fill="#222" font-weight="normal" font-style="normal" >iii</text><text x="191.5" y="398.0" font-size="11.2" text-anchor="middle" fill="#222" font-weight="normal" font-style="normal" >iv</text><text x="231.4" y="398.0" font-size="11.2" text-anchor="middle" fill="#222" font-weight="normal" font-style="normal" >v</text><text x="268.6" y="398.0" font-size="11.2" text-anchor="middle" fill="#222" font-weight="normal" font-style="normal" >vi</text><text x="325.8" y="407.6" font-size="11.2" text-anchor="middle" fill="#222" font-weight="normal" font-style="normal" >vii</text><text x="369.8" y="407.6" font-size="11.2" text-anchor="middle" fill="#222" font-weight="normal" font-style="normal" >viii</text><text x="398.5" y="431.6" font-size="11.2" text-anchor="middle" fill="#222" font-weight="normal" font-style="normal" >ix</text><path d="M56.6 447.8H77.0M56.6 447.8L59.1 452.2M61.7 447.8L59.2 452.2M61.7 447.8L64.2 452.2M66.8 447.8L64.2 452.2M66.8 447.8L69.3 452.2M71.9 447.8L69.3 452.2M71.9 447.8L74.4 452.2M77.0 447.8L74.4 452.2M77.0 447.8L79.5 452.2M59.1 452.2H79.5M59.1 452.2L56.6 456.5M59.1 452.2L61.7 456.5M64.2 452.2L61.7 456.5M64.2 452.2L66.8 456.5M69.3 452.2L66.8 456.5M69.3 452.2L71.9 456.5M74.4 452.2L71.9 456.5M74.4 452.2L77.0 456.5M79.5 452.2L77.0 456.5M56.6 456.5H77.0M56.6 456.5L59.1 460.9M61.7 456.5L59.2 460.9M61.7 456.5L64.2 460.9M66.8 456.5L64.2 460.9M66.8 456.5L69.3 460.9M71.9 456.5L69.3 460.9M71.9 456.5L74.4 460.9M77.0 456.5L74.4 460.9M77.0 456.5L79.5 460.9M59.1 460.9H79.5M59.1 460.9L56.6 465.2M59.1 460.9L61.7 465.2M64.2 460.9L61.7 465.2M64.2 460.9L66.8 465.2M69.3 460.9L66.8 465.2M69.3 460.9L71.9 465.2M74.4 460.9L71.9 465.2M74.4 460.9L77.0 465.2M79.5 460.9L77.0 465.2M56.6 465.2H77.0M56.6 465.2L59.1 469.6M61.7 465.2L59.2 469.6M61.7 465.2L64.2 469.6M66.8 465.2L64.2 469.6M66.8 465.2L69.3 469.6M71.9 465.2L69.3 469.6M71.9 465.2L74.4 469.6M77.0 465.2L74.4 469.6M77.0 465.2L79.5 469.6M59.1 469.6H79.5" stroke="#bcc0e4" fill="none" stroke-width="0.6" /><path d="M55.4 447.8a1.25 1.25 0 1 0 2.5 0a1.25 1.25 0 1 0 -2.5 0M60.5 447.8a1.25 1.25 0 1 0 2.5 0a1.25 1.25 0 1 0 -2.5 0M65.5 447.8a1.25 1.25 0 1 0 2.5 0a1.25 1.25 0 1 0 -2.5 0M70.6 447.8a1.25 1.25 0 1 0 2.5 0a1.25 1.25 0 1 0 -2.5 0M75.7 447.8a1.25 1.25 0 1 0 2.5 0a1.25 1.25 0 1 0 -2.5 0M57.9 452.2a1.25 1.25 0 1 0 2.5 0a1.25 1.25 0 1 0 -2.5 0M63.0 452.2a1.25 1.25 0 1 0 2.5 0a1.25 1.25 0 1 0 -2.5 0M68.1 452.2a1.25 1.25 0 1 0 2.5 0a1.25 1.25 0 1 0 -2.5 0M73.2 452.2a1.25 1.25 0 1 0 2.5 0a1.25 1.25 0 1 0 -2.5 0M78.3 452.2a1.25 1.25 0 1 0 2.5 0a1.25 1.25 0 1 0 -2.5 0M55.4 456.5a1.25 1.25 0 1 0 2.5 0a1.25 1.25 0 1 0 -2.5 0M60.5 456.5a1.25 1.25 0 1 0 2.5 0a1.25 1.25 0 1 0 -2.5 0M65.5 456.5a1.25 1.25 0 1 0 2.5 0a1.25 1.25 0 1 0 -2.5 0M70.6 456.5a1.25 1.25 0 1 0 2.5 0a1.25 1.25 0 1 0 -2.5 0M75.7 456.5a1.25 1.25 0 1 0 2.5 0a1.25 1.25 0 1 0 -2.5 0M57.9 460.9a1.25 1.25 0 1 0 2.5 0a1.25 1.25 0 1 0 -2.5 0M63.0 460.9a1.25 1.25 0 1 0 2.5 0a1.25 1.25 0 1 0 -2.5 0M68.1 460.9a1.25 1.25 0 1 0 2.5 0a1.25 1.25 0 1 0 -2.5 0M73.2 460.9a1.25 1.25 0 1 0 2.5 0a1.25 1.25 0 1 0 -2.5 0M78.3 460.9a1.25 1.25 0 1 0 2.5 0a1.25 1.25 0 1 0 -2.5 0M55.4 465.2a1.25 1.25 0 1 0 2.5 0a1.25 1.25 0 1 0 -2.5 0M60.5 465.2a1.25 1.25 0 1 0 2.5 0a1.25 1.25 0 1 0 -2.5 0M65.5 465.2a1.25 1.25 0 1 0 2.5 0a1.25 1.25 0 1 0 -2.5 0M70.6 465.2a1.25 1.25 0 1 0 2.5 0a1.25 1.25 0 1 0 -2.5 0M75.7 465.2a1.25 1.25 0 1 0 2.5 0a1.25 1.25 0 1 0 -2.5 0M57.9 469.6a1.25 1.25 0 1 0 2.5 0a1.25 1.25 0 1 0 -2.5 0M63.0 469.6a1.25 1.25 0 1 0 2.5 0a1.25 1.25 0 1 0 -2.5 0M68.1 469.6a1.25 1.25 0 1 0 2.5 0a1.25 1.25 0 1 0 -2.5 0M73.2 469.6a1.25 1.25 0 1 0 2.5 0a1.25 1.25 0 1 0 -2.5 0M78.3 469.6a1.25 1.25 0 1 0 2.5 0a1.25 1.25 0 1 0 -2.5 0" stroke="none" fill="#9094cc" stroke-width="1" /><circle cx="68.20" cy="444.40" r="1.30" fill="#9094cc" /><rect x="89.20" y="452.00" width="41.10" height="14.40" fill="#a6aad8" /><path d="M90.6 456.8a2 2 0 1 0 4 0a2 2 0 1 0 -4 0M97.0 456.8a2 2 0 1 0 4 0a2 2 0 1 0 -4 0M103.4 456.8a2 2 0 1 0 4 0a2 2 0 1 0 -4 0M109.8 456.8a2 2 0 1 0 4 0a2 2 0 1 0 -4 0M116.2 456.8a2 2 0 1 0 4 0a2 2 0 1 0 -4 0M122.6 456.8a2 2 0 1 0 4 0a2 2 0 1 0 -4 0M93.8 463.4a2 2 0 1 0 4 0a2 2 0 1 0 -4 0M100.2 463.4a2 2 0 1 0 4 0a2 2 0 1 0 -4 0M106.6 463.4a2 2 0 1 0 4 0a2 2 0 1 0 -4 0M113.0 463.4a2 2 0 1 0 4 0a2 2 0 1 0 -4 0M119.4 463.4a2 2 0 1 0 4 0a2 2 0 1 0 -4 0M125.8 463.4a2 2 0 1 0 4 0a2 2 0 1 0 -4 0" stroke="none" fill="#f6f6fb" stroke-width="1" /><path d="M94.3 458.3a1 1 0 1 0 2 0a1 1 0 1 0 -2 0M91.6 459.9a1 1 0 1 0 2 0a1 1 0 1 0 -2 0M88.9 458.3a1 1 0 1 0 2 0a1 1 0 1 0 -2 0M88.9 455.2a1 1 0 1 0 2 0a1 1 0 1 0 -2 0M91.6 453.7a1 1 0 1 0 2 0a1 1 0 1 0 -2 0M94.3 455.2a1 1 0 1 0 2 0a1 1 0 1 0 -2 0M100.7 458.3a1 1 0 1 0 2 0a1 1 0 1 0 -2 0M98.0 459.9a1 1 0 1 0 2 0a1 1 0 1 0 -2 0M95.3 458.3a1 1 0 1 0 2 0a1 1 0 1 0 -2 0M95.3 455.2a1 1 0 1 0 2 0a1 1 0 1 0 -2 0M98.0 453.7a1 1 0 1 0 2 0a1 1 0 1 0 -2 0M100.7 455.2a1 1 0 1 0 2 0a1 1 0 1 0 -2 0M107.1 458.3a1 1 0 1 0 2 0a1 1 0 1 0 -2 0M104.4 459.9a1 1 0 1 0 2 0a1 1 0 1 0 -2 0M101.7 458.3a1 1 0 1 0 2 0a1 1 0 1 0 -2 0M101.7 455.2a1 1 0 1 0 2 0a1 1 0 1 0 -2 0M104.4 453.7a1 1 0 1 0 2 0a1 1 0 1 0 -2 0M107.1 455.2a1 1 0 1 0 2 0a1 1 0 1 0 -2 0M113.5 458.3a1 1 0 1 0 2 0a1 1 0 1 0 -2 0M110.8 459.9a1 1 0 1 0 2 0a1 1 0 1 0 -2 0M108.1 458.3a1 1 0 1 0 2 0a1 1 0 1 0 -2 0M108.1 455.2a1 1 0 1 0 2 0a1 1 0 1 0 -2 0M110.8 453.7a1 1 0 1 0 2 0a1 1 0 1 0 -2 0M113.5 455.2a1 1 0 1 0 2 0a1 1 0 1 0 -2 0M119.9 458.3a1 1 0 1 0 2 0a1 1 0 1 0 -2 0M117.2 459.9a1 1 0 1 0 2 0a1 1 0 1 0 -2 0M114.5 458.3a1 1 0 1 0 2 0a1 1 0 1 0 -2 0M114.5 455.2a1 1 0 1 0 2 0a1 1 0 1 0 -2 0M117.2 453.7a1 1 0 1 0 2 0a1 1 0 1 0 -2 0M119.9 455.2a1 1 0 1 0 2 0a1 1 0 1 0 -2 0M126.3 458.3a1 1 0 1 0 2 0a1 1 0 1 0 -2 0M123.6 459.9a1 1 0 1 0 2 0a1 1 0 1 0 -2 0M120.9 458.3a1 1 0 1 0 2 0a1 1 0 1 0 -2 0M120.9 455.2a1 1 0 1 0 2 0a1 1 0 1 0 -2 0M123.6 453.7a1 1 0 1 0 2 0a1 1 0 1 0 -2 0M126.3 455.2a1 1 0 1 0 2 0a1 1 0 1 0 -2 0M97.5 464.9a1 1 0 1 0 2 0a1 1 0 1 0 -2 0M94.8 466.5a1 1 0 1 0 2 0a1 1 0 1 0 -2 0M92.1 464.9a1 1 0 1 0 2 0a1 1 0 1 0 -2 0M92.1 461.8a1 1 0 1 0 2 0a1 1 0 1 0 -2 0M94.8 460.3a1 1 0 1 0 2 0a1 1 0 1 0 -2 0M97.5 461.8a1 1 0 1 0 2 0a1 1 0 1 0 -2 0M103.9 464.9a1 1 0 1 0 2 0a1 1 0 1 0 -2 0M101.2 466.5a1 1 0 1 0 2 0a1 1 0 1 0 -2 0M98.5 464.9a1 1 0 1 0 2 0a1 1 0 1 0 -2 0M98.5 461.8a1 1 0 1 0 2 0a1 1 0 1 0 -2 0M101.2 460.3a1 1 0 1 0 2 0a1 1 0 1 0 -2 0M103.9 461.8a1 1 0 1 0 2 0a1 1 0 1 0 -2 0M110.3 464.9a1 1 0 1 0 2 0a1 1 0 1 0 -2 0M107.6 466.5a1 1 0 1 0 2 0a1 1 0 1 0 -2 0M104.9 464.9a1 1 0 1 0 2 0a1 1 0 1 0 -2 0M104.9 461.8a1 1 0 1 0 2 0a1 1 0 1 0 -2 0M107.6 460.3a1 1 0 1 0 2 0a1 1 0 1 0 -2 0M110.3 461.8a1 1 0 1 0 2 0a1 1 0 1 0 -2 0M116.7 464.9a1 1 0 1 0 2 0a1 1 0 1 0 -2 0M114.0 466.5a1 1 0 1 0 2 0a1 1 0 1 0 -2 0M111.3 464.9a1 1 0 1 0 2 0a1 1 0 1 0 -2 0M111.3 461.8a1 1 0 1 0 2 0a1 1 0 1 0 -2 0M114.0 460.3a1 1 0 1 0 2 0a1 1 0 1 0 -2 0M116.7 461.8a1 1 0 1 0 2 0a1 1 0 1 0 -2 0M123.1 464.9a1 1 0 1 0 2 0a1 1 0 1 0 -2 0M120.4 466.5a1 1 0 1 0 2 0a1 1 0 1 0 -2 0M117.7 464.9a1 1 0 1 0 2 0a1 1 0 1 0 -2 0M117.7 461.8a1 1 0 1 0 2 0a1 1 0 1 0 -2 0M120.4 460.3a1 1 0 1 0 2 0a1 1 0 1 0 -2 0M123.1 461.8a1 1 0 1 0 2 0a1 1 0 1 0 -2 0M129.5 464.9a1 1 0 1 0 2 0a1 1 0 1 0 -2 0M126.8 466.5a1 1 0 1 0 2 0a1 1 0 1 0 -2 0M124.1 464.9a1 1 0 1 0 2 0a1 1 0 1 0 -2 0M124.1 461.8a1 1 0 1 0 2 0a1 1 0 1 0 -2 0M126.8 460.3a1 1 0 1 0 2 0a1 1 0 1 0 -2 0M129.5 461.8a1 1 0 1 0 2 0a1 1 0 1 0 -2 0" stroke="none" fill="#7e82c2" stroke-width="1" /><path d="M133.9 448.7H168.3M133.9 448.7L136.1 452.4M138.2 448.7L136.1 452.4M138.2 448.7L140.4 452.4M142.5 448.7L140.4 452.4M142.5 448.7L144.7 452.4M146.8 448.7L144.7 452.4M146.8 448.7L149.0 452.4M151.1 448.7L149.0 452.4M151.1 448.7L153.3 452.4M155.4 448.7L153.3 452.4M155.4 448.7L157.6 452.4M159.7 448.7L157.6 452.4M159.7 448.7L161.9 452.4M164.0 448.7L161.9 452.4M164.0 448.7L166.2 452.4M168.3 448.7L166.2 452.4M136.1 452.4H166.2M136.1 452.4L133.9 456.0M136.1 452.4L138.2 456.0M140.4 452.4L138.2 456.0M140.4 452.4L142.5 456.0M144.7 452.4L142.5 456.0M144.7 452.4L146.8 456.0M149.0 452.4L146.8 456.0M149.0 452.4L151.1 456.0M153.3 452.4L151.1 456.0M153.3 452.4L155.4 456.0M157.6 452.4L155.4 456.0M157.6 452.4L159.7 456.0M161.9 452.4L159.7 456.0M161.9 452.4L164.0 456.0M166.2 452.4L164.0 456.0M166.2 452.4L168.3 456.0M133.9 456.0H168.3M133.9 456.0L136.1 459.7M138.2 456.0L136.1 459.7M138.2 456.0L140.4 459.7M142.5 456.0L140.4 459.7M142.5 456.0L144.7 459.7M146.8 456.0L144.7 459.7M146.8 456.0L149.0 459.7M151.1 456.0L149.0 459.7M151.1 456.0L153.3 459.7M155.4 456.0L153.3 459.7M155.4 456.0L157.6 459.7M159.7 456.0L157.6 459.7M159.7 456.0L161.9 459.7M164.0 456.0L161.9 459.7M164.0 456.0L166.2 459.7M168.3 456.0L166.2 459.7M136.1 459.7H166.2M136.1 459.7L133.9 463.3M136.1 459.7L138.2 463.3M140.4 459.7L138.2 463.3M140.4 459.7L142.5 463.3M144.7 459.7L142.5 463.3M144.7 459.7L146.8 463.3M149.0 459.7L146.8 463.3M149.0 459.7L151.1 463.3M153.3 459.7L151.1 463.3M153.3 459.7L155.4 463.3M157.6 459.7L155.4 463.3M157.6 459.7L159.7 463.3M161.9 459.7L159.7 463.3M161.9 459.7L164.0 463.3M166.2 459.7L164.0 463.3M166.2 459.7L168.3 463.3M133.9 463.3H168.3M133.9 463.3L136.1 467.0M138.2 463.3L136.1 467.0M138.2 463.3L140.4 467.0M142.5 463.3L140.4 467.0M142.5 463.3L144.7 467.0M146.8 463.3L144.7 467.0M146.8 463.3L149.0 467.0M151.1 463.3L149.0 467.0M151.1 463.3L153.3 467.0M155.4 463.3L153.3 467.0M155.4 463.3L157.6 467.0M159.7 463.3L157.6 467.0M159.7 463.3L161.9 467.0M164.0 463.3L161.9 467.0M164.0 463.3L166.2 467.0M168.3 463.3L166.2 467.0M136.1 467.0H166.2" stroke="#bcc0e4" fill="none" stroke-width="0.6" /><path d="M132.7 448.7a1.25 1.25 0 1 0 2.5 0a1.25 1.25 0 1 0 -2.5 0M137.0 448.7a1.25 1.25 0 1 0 2.5 0a1.25 1.25 0 1 0 -2.5 0M141.3 448.7a1.25 1.25 0 1 0 2.5 0a1.25 1.25 0 1 0 -2.5 0M145.6 448.7a1.25 1.25 0 1 0 2.5 0a1.25 1.25 0 1 0 -2.5 0M149.9 448.7a1.25 1.25 0 1 0 2.5 0a1.25 1.25 0 1 0 -2.5 0M154.2 448.7a1.25 1.25 0 1 0 2.5 0a1.25 1.25 0 1 0 -2.5 0M158.5 448.7a1.25 1.25 0 1 0 2.5 0a1.25 1.25 0 1 0 -2.5 0M162.8 448.7a1.25 1.25 0 1 0 2.5 0a1.25 1.25 0 1 0 -2.5 0M167.1 448.7a1.25 1.25 0 1 0 2.5 0a1.25 1.25 0 1 0 -2.5 0M134.8 452.4a1.25 1.25 0 1 0 2.5 0a1.25 1.25 0 1 0 -2.5 0M139.1 452.4a1.25 1.25 0 1 0 2.5 0a1.25 1.25 0 1 0 -2.5 0M143.4 452.4a1.25 1.25 0 1 0 2.5 0a1.25 1.25 0 1 0 -2.5 0M147.7 452.4a1.25 1.25 0 1 0 2.5 0a1.25 1.25 0 1 0 -2.5 0M152.0 452.4a1.25 1.25 0 1 0 2.5 0a1.25 1.25 0 1 0 -2.5 0M156.3 452.4a1.25 1.25 0 1 0 2.5 0a1.25 1.25 0 1 0 -2.5 0M160.6 452.4a1.25 1.25 0 1 0 2.5 0a1.25 1.25 0 1 0 -2.5 0M164.9 452.4a1.25 1.25 0 1 0 2.5 0a1.25 1.25 0 1 0 -2.5 0M132.7 456.0a1.25 1.25 0 1 0 2.5 0a1.25 1.25 0 1 0 -2.5 0M137.0 456.0a1.25 1.25 0 1 0 2.5 0a1.25 1.25 0 1 0 -2.5 0M141.3 456.0a1.25 1.25 0 1 0 2.5 0a1.25 1.25 0 1 0 -2.5 0M145.6 456.0a1.25 1.25 0 1 0 2.5 0a1.25 1.25 0 1 0 -2.5 0M149.9 456.0a1.25 1.25 0 1 0 2.5 0a1.25 1.25 0 1 0 -2.5 0M154.2 456.0a1.25 1.25 0 1 0 2.5 0a1.25 1.25 0 1 0 -2.5 0M158.5 456.0a1.25 1.25 0 1 0 2.5 0a1.25 1.25 0 1 0 -2.5 0M162.8 456.0a1.25 1.25 0 1 0 2.5 0a1.25 1.25 0 1 0 -2.5 0M167.1 456.0a1.25 1.25 0 1 0 2.5 0a1.25 1.25 0 1 0 -2.5 0M134.8 459.7a1.25 1.25 0 1 0 2.5 0a1.25 1.25 0 1 0 -2.5 0M139.1 459.7a1.25 1.25 0 1 0 2.5 0a1.25 1.25 0 1 0 -2.5 0M143.4 459.7a1.25 1.25 0 1 0 2.5 0a1.25 1.25 0 1 0 -2.5 0M147.7 459.7a1.25 1.25 0 1 0 2.5 0a1.25 1.25 0 1 0 -2.5 0M152.0 459.7a1.25 1.25 0 1 0 2.5 0a1.25 1.25 0 1 0 -2.5 0M156.3 459.7a1.25 1.25 0 1 0 2.5 0a1.25 1.25 0 1 0 -2.5 0M160.6 459.7a1.25 1.25 0 1 0 2.5 0a1.25 1.25 0 1 0 -2.5 0M164.9 459.7a1.25 1.25 0 1 0 2.5 0a1.25 1.25 0 1 0 -2.5 0M132.7 463.3a1.25 1.25 0 1 0 2.5 0a1.25 1.25 0 1 0 -2.5 0M137.0 463.3a1.25 1.25 0 1 0 2.5 0a1.25 1.25 0 1 0 -2.5 0M141.3 463.3a1.25 1.25 0 1 0 2.5 0a1.25 1.25 0 1 0 -2.5 0M145.6 463.3a1.25 1.25 0 1 0 2.5 0a1.25 1.25 0 1 0 -2.5 0M149.9 463.3a1.25 1.25 0 1 0 2.5 0a1.25 1.25 0 1 0 -2.5 0M154.2 463.3a1.25 1.25 0 1 0 2.5 0a1.25 1.25 0 1 0 -2.5 0M158.5 463.3a1.25 1.25 0 1 0 2.5 0a1.25 1.25 0 1 0 -2.5 0M162.8 463.3a1.25 1.25 0 1 0 2.5 0a1.25 1.25 0 1 0 -2.5 0M167.1 463.3a1.25 1.25 0 1 0 2.5 0a1.25 1.25 0 1 0 -2.5 0M134.8 467.0a1.25 1.25 0 1 0 2.5 0a1.25 1.25 0 1 0 -2.5 0M139.1 467.0a1.25 1.25 0 1 0 2.5 0a1.25 1.25 0 1 0 -2.5 0M143.4 467.0a1.25 1.25 0 1 0 2.5 0a1.25 1.25 0 1 0 -2.5 0M147.7 467.0a1.25 1.25 0 1 0 2.5 0a1.25 1.25 0 1 0 -2.5 0M152.0 467.0a1.25 1.25 0 1 0 2.5 0a1.25 1.25 0 1 0 -2.5 0M156.3 467.0a1.25 1.25 0 1 0 2.5 0a1.25 1.25 0 1 0 -2.5 0M160.6 467.0a1.25 1.25 0 1 0 2.5 0a1.25 1.25 0 1 0 -2.5 0M164.9 467.0a1.25 1.25 0 1 0 2.5 0a1.25 1.25 0 1 0 -2.5 0" stroke="none" fill="#9094cc" stroke-width="1" /><path d="M183.3 436.8H204.5M183.3 436.8L186.0 441.0M188.6 436.8L186.0 441.0M188.6 436.8L191.3 441.0M193.9 436.8L191.3 441.0M193.9 436.8L196.6 441.0M199.2 436.8L196.6 441.0M199.2 436.8L201.9 441.0M204.5 436.8L201.9 441.0M186.0 441.0H201.9M186.0 441.0L183.3 445.2M186.0 441.0L188.6 445.2M191.3 441.0L188.6 445.2M191.3 441.0L193.9 445.2M196.6 441.0L193.9 445.2M196.6 441.0L199.2 445.2M201.9 441.0L199.2 445.2M201.9 441.0L204.5 445.2M183.3 445.2H204.5M183.3 445.2L186.0 449.4M188.6 445.2L186.0 449.4M188.6 445.2L191.3 449.4M193.9 445.2L191.3 449.4M193.9 445.2L196.6 449.4M199.2 445.2L196.6 449.4M199.2 445.2L201.9 449.4M204.5 445.2L201.9 449.4M186.0 449.4H201.9M186.0 449.4L183.3 453.6M186.0 449.4L188.6 453.6M191.3 449.4L188.6 453.6M191.3 449.4L193.9 453.6M196.6 449.4L193.9 453.6M196.6 449.4L199.2 453.6M201.9 449.4L199.2 453.6M201.9 449.4L204.5 453.6M183.3 453.6H204.5M183.3 453.6L186.0 457.8M188.6 453.6L186.0 457.8M188.6 453.6L191.3 457.8M193.9 453.6L191.3 457.8M193.9 453.6L196.6 457.8M199.2 453.6L196.6 457.8M199.2 453.6L201.9 457.8M204.5 453.6L201.9 457.8M186.0 457.8H201.9" stroke="#bcc0e4" fill="none" stroke-width="0.6" /><path d="M182.1 436.8a1.25 1.25 0 1 0 2.5 0a1.25 1.25 0 1 0 -2.5 0M187.4 436.8a1.25 1.25 0 1 0 2.5 0a1.25 1.25 0 1 0 -2.5 0M192.7 436.8a1.25 1.25 0 1 0 2.5 0a1.25 1.25 0 1 0 -2.5 0M198.0 436.8a1.25 1.25 0 1 0 2.5 0a1.25 1.25 0 1 0 -2.5 0M203.3 436.8a1.25 1.25 0 1 0 2.5 0a1.25 1.25 0 1 0 -2.5 0M184.7 441.0a1.25 1.25 0 1 0 2.5 0a1.25 1.25 0 1 0 -2.5 0M190.0 441.0a1.25 1.25 0 1 0 2.5 0a1.25 1.25 0 1 0 -2.5 0M195.3 441.0a1.25 1.25 0 1 0 2.5 0a1.25 1.25 0 1 0 -2.5 0M200.6 441.0a1.25 1.25 0 1 0 2.5 0a1.25 1.25 0 1 0 -2.5 0M182.1 445.2a1.25 1.25 0 1 0 2.5 0a1.25 1.25 0 1 0 -2.5 0M187.4 445.2a1.25 1.25 0 1 0 2.5 0a1.25 1.25 0 1 0 -2.5 0M192.7 445.2a1.25 1.25 0 1 0 2.5 0a1.25 1.25 0 1 0 -2.5 0M198.0 445.2a1.25 1.25 0 1 0 2.5 0a1.25 1.25 0 1 0 -2.5 0M203.3 445.2a1.25 1.25 0 1 0 2.5 0a1.25 1.25 0 1 0 -2.5 0M184.7 449.4a1.25 1.25 0 1 0 2.5 0a1.25 1.25 0 1 0 -2.5 0M190.0 449.4a1.25 1.25 0 1 0 2.5 0a1.25 1.25 0 1 0 -2.5 0M195.3 449.4a1.25 1.25 0 1 0 2.5 0a1.25 1.25 0 1 0 -2.5 0M200.6 449.4a1.25 1.25 0 1 0 2.5 0a1.25 1.25 0 1 0 -2.5 0M182.1 453.6a1.25 1.25 0 1 0 2.5 0a1.25 1.25 0 1 0 -2.5 0M187.4 453.6a1.25 1.25 0 1 0 2.5 0a1.25 1.25 0 1 0 -2.5 0M192.7 453.6a1.25 1.25 0 1 0 2.5 0a1.25 1.25 0 1 0 -2.5 0M198.0 453.6a1.25 1.25 0 1 0 2.5 0a1.25 1.25 0 1 0 -2.5 0M203.3 453.6a1.25 1.25 0 1 0 2.5 0a1.25 1.25 0 1 0 -2.5 0M184.7 457.8a1.25 1.25 0 1 0 2.5 0a1.25 1.25 0 1 0 -2.5 0M190.0 457.8a1.25 1.25 0 1 0 2.5 0a1.25 1.25 0 1 0 -2.5 0M195.3 457.8a1.25 1.25 0 1 0 2.5 0a1.25 1.25 0 1 0 -2.5 0M200.6 457.8a1.25 1.25 0 1 0 2.5 0a1.25 1.25 0 1 0 -2.5 0" stroke="none" fill="#9094cc" stroke-width="1" /><rect x="209.90" y="444.70" width="35.10" height="11.70" fill="#a6aad8" /><path d="M211.3 448.5a2 2 0 1 0 4 0a2 2 0 1 0 -4 0M217.7 448.5a2 2 0 1 0 4 0a2 2 0 1 0 -4 0M224.1 448.5a2 2 0 1 0 4 0a2 2 0 1 0 -4 0M230.5 448.5a2 2 0 1 0 4 0a2 2 0 1 0 -4 0M236.9 448.5a2 2 0 1 0 4 0a2 2 0 1 0 -4 0M214.5 454.1a2 2 0 1 0 4 0a2 2 0 1 0 -4 0M220.9 454.1a2 2 0 1 0 4 0a2 2 0 1 0 -4 0M227.3 454.1a2 2 0 1 0 4 0a2 2 0 1 0 -4 0M233.7 454.1a2 2 0 1 0 4 0a2 2 0 1 0 -4 0M240.1 454.1a2 2 0 1 0 4 0a2 2 0 1 0 -4 0" stroke="none" fill="#f6f6fb" stroke-width="1" /><path d="M215.0 450.0a1 1 0 1 0 2 0a1 1 0 1 0 -2 0M212.3 451.6a1 1 0 1 0 2 0a1 1 0 1 0 -2 0M209.6 450.0a1 1 0 1 0 2 0a1 1 0 1 0 -2 0M209.6 446.9a1 1 0 1 0 2 0a1 1 0 1 0 -2 0M212.3 445.4a1 1 0 1 0 2 0a1 1 0 1 0 -2 0M215.0 446.9a1 1 0 1 0 2 0a1 1 0 1 0 -2 0M221.4 450.0a1 1 0 1 0 2 0a1 1 0 1 0 -2 0M218.7 451.6a1 1 0 1 0 2 0a1 1 0 1 0 -2 0M216.0 450.0a1 1 0 1 0 2 0a1 1 0 1 0 -2 0M216.0 446.9a1 1 0 1 0 2 0a1 1 0 1 0 -2 0M218.7 445.4a1 1 0 1 0 2 0a1 1 0 1 0 -2 0M221.4 446.9a1 1 0 1 0 2 0a1 1 0 1 0 -2 0M227.8 450.0a1 1 0 1 0 2 0a1 1 0 1 0 -2 0M225.1 451.6a1 1 0 1 0 2 0a1 1 0 1 0 -2 0M222.4 450.0a1 1 0 1 0 2 0a1 1 0 1 0 -2 0M222.4 446.9a1 1 0 1 0 2 0a1 1 0 1 0 -2 0M225.1 445.4a1 1 0 1 0 2 0a1 1 0 1 0 -2 0M227.8 446.9a1 1 0 1 0 2 0a1 1 0 1 0 -2 0M234.2 450.0a1 1 0 1 0 2 0a1 1 0 1 0 -2 0M231.5 451.6a1 1 0 1 0 2 0a1 1 0 1 0 -2 0M228.8 450.0a1 1 0 1 0 2 0a1 1 0 1 0 -2 0M228.8 446.9a1 1 0 1 0 2 0a1 1 0 1 0 -2 0M231.5 445.4a1 1 0 1 0 2 0a1 1 0 1 0 -2 0M234.2 446.9a1 1 0 1 0 2 0a1 1 0 1 0 -2 0M240.6 450.0a1 1 0 1 0 2 0a1 1 0 1 0 -2 0M237.9 451.6a1 1 0 1 0 2 0a1 1 0 1 0 -2 0M235.2 450.0a1 1 0 1 0 2 0a1 1 0 1 0 -2 0M235.2 446.9a1 1 0 1 0 2 0a1 1 0 1 0 -2 0M237.9 445.4a1 1 0 1 0 2 0a1 1 0 1 0 -2 0M240.6 446.9a1 1 0 1 0 2 0a1 1 0 1 0 -2 0M218.2 455.6a1 1 0 1 0 2 0a1 1 0 1 0 -2 0M215.5 457.2a1 1 0 1 0 2 0a1 1 0 1 0 -2 0M212.8 455.6a1 1 0 1 0 2 0a1 1 0 1 0 -2 0M212.8 452.5a1 1 0 1 0 2 0a1 1 0 1 0 -2 0M215.5 451.0a1 1 0 1 0 2 0a1 1 0 1 0 -2 0M218.2 452.5a1 1 0 1 0 2 0a1 1 0 1 0 -2 0M224.6 455.6a1 1 0 1 0 2 0a1 1 0 1 0 -2 0M221.9 457.2a1 1 0 1 0 2 0a1 1 0 1 0 -2 0M219.2 455.6a1 1 0 1 0 2 0a1 1 0 1 0 -2 0M219.2 452.5a1 1 0 1 0 2 0a1 1 0 1 0 -2 0M221.9 451.0a1 1 0 1 0 2 0a1 1 0 1 0 -2 0M224.6 452.5a1 1 0 1 0 2 0a1 1 0 1 0 -2 0M231.0 455.6a1 1 0 1 0 2 0a1 1 0 1 0 -2 0M228.3 457.2a1 1 0 1 0 2 0a1 1 0 1 0 -2 0M225.6 455.6a1 1 0 1 0 2 0a1 1 0 1 0 -2 0M225.6 452.5a1 1 0 1 0 2 0a1 1 0 1 0 -2 0M228.3 451.0a1 1 0 1 0 2 0a1 1 0 1 0 -2 0M231.0 452.5a1 1 0 1 0 2 0a1 1 0 1 0 -2 0M237.4 455.6a1 1 0 1 0 2 0a1 1 0 1 0 -2 0M234.7 457.2a1 1 0 1 0 2 0a1 1 0 1 0 -2 0M232.0 455.6a1 1 0 1 0 2 0a1 1 0 1 0 -2 0M232.0 452.5a1 1 0 1 0 2 0a1 1 0 1 0 -2 0M234.7 451.0a1 1 0 1 0 2 0a1 1 0 1 0 -2 0M237.4 452.5a1 1 0 1 0 2 0a1 1 0 1 0 -2 0M243.8 455.6a1 1 0 1 0 2 0a1 1 0 1 0 -2 0M241.1 457.2a1 1 0 1 0 2 0a1 1 0 1 0 -2 0M238.4 455.6a1 1 0 1 0 2 0a1 1 0 1 0 -2 0M238.4 452.5a1 1 0 1 0 2 0a1 1 0 1 0 -2 0M241.1 451.0a1 1 0 1 0 2 0a1 1 0 1 0 -2 0M243.8 452.5a1 1 0 1 0 2 0a1 1 0 1 0 -2 0" stroke="none" fill="#7e82c2" stroke-width="1" /><path d="M248.6 438.5H282.2M248.6 438.5L250.7 442.4M252.8 438.5L250.7 442.4M252.8 438.5L254.9 442.4M257.0 438.5L254.9 442.4M257.0 438.5L259.1 442.4M261.2 438.5L259.1 442.4M261.2 438.5L263.3 442.4M265.4 438.5L263.3 442.4M265.4 438.5L267.5 442.4M269.6 438.5L267.5 442.4M269.6 438.5L271.7 442.4M273.8 438.5L271.7 442.4M273.8 438.5L275.9 442.4M278.0 438.5L275.9 442.4M278.0 438.5L280.1 442.4M282.2 438.5L280.1 442.4M282.2 438.5L284.3 442.4M250.7 442.4H284.3M250.7 442.4L248.6 446.3M250.7 442.4L252.8 446.3M254.9 442.4L252.8 446.3M254.9 442.4L257.0 446.3M259.1 442.4L257.0 446.3M259.1 442.4L261.2 446.3M263.3 442.4L261.2 446.3M263.3 442.4L265.4 446.3M267.5 442.4L265.4 446.3M267.5 442.4L269.6 446.3M271.7 442.4L269.6 446.3M271.7 442.4L273.8 446.3M275.9 442.4L273.8 446.3M275.9 442.4L278.0 446.3M280.1 442.4L278.0 446.3M280.1 442.4L282.2 446.3M284.3 442.4L282.2 446.3M248.6 446.3H282.2M248.6 446.3L250.7 450.1M252.8 446.3L250.7 450.1M252.8 446.3L254.9 450.1M257.0 446.3L254.9 450.1M257.0 446.3L259.1 450.1M261.2 446.3L259.1 450.1M261.2 446.3L263.3 450.1M265.4 446.3L263.3 450.1M265.4 446.3L267.5 450.1M269.6 446.3L267.5 450.1M269.6 446.3L271.7 450.1M273.8 446.3L271.7 450.1M273.8 446.3L275.9 450.1M278.0 446.3L275.9 450.1M278.0 446.3L280.1 450.1M282.2 446.3L280.1 450.1M282.2 446.3L284.3 450.1M250.7 450.1H284.3M250.7 450.1L248.6 454.0M250.7 450.1L252.8 454.0M254.9 450.1L252.8 454.0M254.9 450.1L257.0 454.0M259.1 450.1L257.0 454.0M259.1 450.1L261.2 454.0M263.3 450.1L261.2 454.0M263.3 450.1L265.4 454.0M267.5 450.1L265.4 454.0M267.5 450.1L269.6 454.0M271.7 450.1L269.6 454.0M271.7 450.1L273.8 454.0M275.9 450.1L273.8 454.0M275.9 450.1L278.0 454.0M280.1 450.1L278.0 454.0M280.1 450.1L282.2 454.0M284.3 450.1L282.2 454.0M248.6 454.0H282.2M248.6 454.0L250.7 457.9M252.8 454.0L250.7 457.9M252.8 454.0L254.9 457.9M257.0 454.0L254.9 457.9M257.0 454.0L259.1 457.9M261.2 454.0L259.1 457.9M261.2 454.0L263.3 457.9M265.4 454.0L263.3 457.9M265.4 454.0L267.5 457.9M269.6 454.0L267.5 457.9M269.6 454.0L271.7 457.9M273.8 454.0L271.7 457.9M273.8 454.0L275.9 457.9M278.0 454.0L275.9 457.9M278.0 454.0L280.1 457.9M282.2 454.0L280.1 457.9M282.2 454.0L284.3 457.9M250.7 457.9H284.3" stroke="#bcc0e4" fill="none" stroke-width="0.6" /><path d="M247.3 438.5a1.25 1.25 0 1 0 2.5 0a1.25 1.25 0 1 0 -2.5 0M251.5 438.5a1.25 1.25 0 1 0 2.5 0a1.25 1.25 0 1 0 -2.5 0M255.8 438.5a1.25 1.25 0 1 0 2.5 0a1.25 1.25 0 1 0 -2.5 0M259.9 438.5a1.25 1.25 0 1 0 2.5 0a1.25 1.25 0 1 0 -2.5 0M264.1 438.5a1.25 1.25 0 1 0 2.5 0a1.25 1.25 0 1 0 -2.5 0M268.3 438.5a1.25 1.25 0 1 0 2.5 0a1.25 1.25 0 1 0 -2.5 0M272.5 438.5a1.25 1.25 0 1 0 2.5 0a1.25 1.25 0 1 0 -2.5 0M276.7 438.5a1.25 1.25 0 1 0 2.5 0a1.25 1.25 0 1 0 -2.5 0M280.9 438.5a1.25 1.25 0 1 0 2.5 0a1.25 1.25 0 1 0 -2.5 0M249.4 442.4a1.25 1.25 0 1 0 2.5 0a1.25 1.25 0 1 0 -2.5 0M253.6 442.4a1.25 1.25 0 1 0 2.5 0a1.25 1.25 0 1 0 -2.5 0M257.8 442.4a1.25 1.25 0 1 0 2.5 0a1.25 1.25 0 1 0 -2.5 0M262.0 442.4a1.25 1.25 0 1 0 2.5 0a1.25 1.25 0 1 0 -2.5 0M266.2 442.4a1.25 1.25 0 1 0 2.5 0a1.25 1.25 0 1 0 -2.5 0M270.4 442.4a1.25 1.25 0 1 0 2.5 0a1.25 1.25 0 1 0 -2.5 0M274.6 442.4a1.25 1.25 0 1 0 2.5 0a1.25 1.25 0 1 0 -2.5 0M278.8 442.4a1.25 1.25 0 1 0 2.5 0a1.25 1.25 0 1 0 -2.5 0M283.0 442.4a1.25 1.25 0 1 0 2.5 0a1.25 1.25 0 1 0 -2.5 0M247.3 446.3a1.25 1.25 0 1 0 2.5 0a1.25 1.25 0 1 0 -2.5 0M251.5 446.3a1.25 1.25 0 1 0 2.5 0a1.25 1.25 0 1 0 -2.5 0M255.8 446.3a1.25 1.25 0 1 0 2.5 0a1.25 1.25 0 1 0 -2.5 0M259.9 446.3a1.25 1.25 0 1 0 2.5 0a1.25 1.25 0 1 0 -2.5 0M264.1 446.3a1.25 1.25 0 1 0 2.5 0a1.25 1.25 0 1 0 -2.5 0M268.3 446.3a1.25 1.25 0 1 0 2.5 0a1.25 1.25 0 1 0 -2.5 0M272.5 446.3a1.25 1.25 0 1 0 2.5 0a1.25 1.25 0 1 0 -2.5 0M276.7 446.3a1.25 1.25 0 1 0 2.5 0a1.25 1.25 0 1 0 -2.5 0M280.9 446.3a1.25 1.25 0 1 0 2.5 0a1.25 1.25 0 1 0 -2.5 0M249.4 450.1a1.25 1.25 0 1 0 2.5 0a1.25 1.25 0 1 0 -2.5 0M253.6 450.1a1.25 1.25 0 1 0 2.5 0a1.25 1.25 0 1 0 -2.5 0M257.8 450.1a1.25 1.25 0 1 0 2.5 0a1.25 1.25 0 1 0 -2.5 0M262.0 450.1a1.25 1.25 0 1 0 2.5 0a1.25 1.25 0 1 0 -2.5 0M266.2 450.1a1.25 1.25 0 1 0 2.5 0a1.25 1.25 0 1 0 -2.5 0M270.4 450.1a1.25 1.25 0 1 0 2.5 0a1.25 1.25 0 1 0 -2.5 0M274.6 450.1a1.25 1.25 0 1 0 2.5 0a1.25 1.25 0 1 0 -2.5 0M278.8 450.1a1.25 1.25 0 1 0 2.5 0a1.25 1.25 0 1 0 -2.5 0M283.0 450.1a1.25 1.25 0 1 0 2.5 0a1.25 1.25 0 1 0 -2.5 0M247.3 454.0a1.25 1.25 0 1 0 2.5 0a1.25 1.25 0 1 0 -2.5 0M251.5 454.0a1.25 1.25 0 1 0 2.5 0a1.25 1.25 0 1 0 -2.5 0M255.8 454.0a1.25 1.25 0 1 0 2.5 0a1.25 1.25 0 1 0 -2.5 0M259.9 454.0a1.25 1.25 0 1 0 2.5 0a1.25 1.25 0 1 0 -2.5 0M264.1 454.0a1.25 1.25 0 1 0 2.5 0a1.25 1.25 0 1 0 -2.5 0M268.3 454.0a1.25 1.25 0 1 0 2.5 0a1.25 1.25 0 1 0 -2.5 0M272.5 454.0a1.25 1.25 0 1 0 2.5 0a1.25 1.25 0 1 0 -2.5 0M276.7 454.0a1.25 1.25 0 1 0 2.5 0a1.25 1.25 0 1 0 -2.5 0M280.9 454.0a1.25 1.25 0 1 0 2.5 0a1.25 1.25 0 1 0 -2.5 0M249.4 457.9a1.25 1.25 0 1 0 2.5 0a1.25 1.25 0 1 0 -2.5 0M253.6 457.9a1.25 1.25 0 1 0 2.5 0a1.25 1.25 0 1 0 -2.5 0M257.8 457.9a1.25 1.25 0 1 0 2.5 0a1.25 1.25 0 1 0 -2.5 0M262.0 457.9a1.25 1.25 0 1 0 2.5 0a1.25 1.25 0 1 0 -2.5 0M266.2 457.9a1.25 1.25 0 1 0 2.5 0a1.25 1.25 0 1 0 -2.5 0M270.4 457.9a1.25 1.25 0 1 0 2.5 0a1.25 1.25 0 1 0 -2.5 0M274.6 457.9a1.25 1.25 0 1 0 2.5 0a1.25 1.25 0 1 0 -2.5 0M278.8 457.9a1.25 1.25 0 1 0 2.5 0a1.25 1.25 0 1 0 -2.5 0M283.0 457.9a1.25 1.25 0 1 0 2.5 0a1.25 1.25 0 1 0 -2.5 0" stroke="none" fill="#9094cc" stroke-width="1" /><path d="M381.5 446.7H403.5M381.5 446.7L383.7 450.6M385.9 446.7L383.7 450.6M385.9 446.7L388.1 450.6M390.3 446.7L388.1 450.6M390.3 446.7L392.5 450.6M394.7 446.7L392.5 450.6M394.7 446.7L396.9 450.6M399.1 446.7L396.9 450.6M399.1 446.7L401.3 450.6M403.5 446.7L401.3 450.6M403.5 446.7L405.7 450.6M383.7 450.6H405.7M383.7 450.6L381.5 454.6M383.7 450.6L385.9 454.6M388.1 450.6L385.9 454.6M388.1 450.6L390.3 454.6M392.5 450.6L390.3 454.6M392.5 450.6L394.7 454.6M396.9 450.6L394.7 454.6M396.9 450.6L399.1 454.6M401.3 450.6L399.1 454.6M401.3 450.6L403.5 454.6M405.7 450.6L403.5 454.6M381.5 454.6H403.5M381.5 454.6L383.7 458.5M385.9 454.6L383.7 458.5M385.9 454.6L388.1 458.5M390.3 454.6L388.1 458.5M390.3 454.6L392.5 458.5M394.7 454.6L392.5 458.5M394.7 454.6L396.9 458.5M399.1 454.6L396.9 458.5M399.1 454.6L401.3 458.5M403.5 454.6L401.3 458.5M403.5 454.6L405.7 458.5M383.7 458.5H405.7M383.7 458.5L381.5 462.4M383.7 458.5L385.9 462.4M388.1 458.5L385.9 462.4M388.1 458.5L390.3 462.4M392.5 458.5L390.3 462.4M392.5 458.5L394.7 462.4M396.9 458.5L394.7 462.4M396.9 458.5L399.1 462.4M401.3 458.5L399.1 462.4M401.3 458.5L403.5 462.4M405.7 458.5L403.5 462.4M381.5 462.4H403.5M381.5 462.4L383.7 466.4M385.9 462.4L383.7 466.4M385.9 462.4L388.1 466.4M390.3 462.4L388.1 466.4M390.3 462.4L392.5 466.4M394.7 462.4L392.5 466.4M394.7 462.4L396.9 466.4M399.1 462.4L396.9 466.4M399.1 462.4L401.3 466.4M403.5 462.4L401.3 466.4M403.5 462.4L405.7 466.4M383.7 466.4H405.7M383.7 466.4L381.5 470.3M383.7 466.4L385.9 470.3M388.1 466.4L385.9 470.3M388.1 466.4L390.3 470.3M392.5 466.4L390.3 470.3M392.5 466.4L394.7 470.3M396.9 466.4L394.7 470.3M396.9 466.4L399.1 470.3M401.3 466.4L399.1 470.3M401.3 466.4L403.5 470.3M405.7 466.4L403.5 470.3M381.5 470.3H403.5" stroke="#bcc0e4" fill="none" stroke-width="0.6" /><path d="M380.2 446.7a1.25 1.25 0 1 0 2.5 0a1.25 1.25 0 1 0 -2.5 0M384.6 446.7a1.25 1.25 0 1 0 2.5 0a1.25 1.25 0 1 0 -2.5 0M389.0 446.7a1.25 1.25 0 1 0 2.5 0a1.25 1.25 0 1 0 -2.5 0M393.4 446.7a1.25 1.25 0 1 0 2.5 0a1.25 1.25 0 1 0 -2.5 0M397.8 446.7a1.25 1.25 0 1 0 2.5 0a1.25 1.25 0 1 0 -2.5 0M402.2 446.7a1.25 1.25 0 1 0 2.5 0a1.25 1.25 0 1 0 -2.5 0M382.4 450.6a1.25 1.25 0 1 0 2.5 0a1.25 1.25 0 1 0 -2.5 0M386.8 450.6a1.25 1.25 0 1 0 2.5 0a1.25 1.25 0 1 0 -2.5 0M391.2 450.6a1.25 1.25 0 1 0 2.5 0a1.25 1.25 0 1 0 -2.5 0M395.6 450.6a1.25 1.25 0 1 0 2.5 0a1.25 1.25 0 1 0 -2.5 0M400.0 450.6a1.25 1.25 0 1 0 2.5 0a1.25 1.25 0 1 0 -2.5 0M404.4 450.6a1.25 1.25 0 1 0 2.5 0a1.25 1.25 0 1 0 -2.5 0M380.2 454.6a1.25 1.25 0 1 0 2.5 0a1.25 1.25 0 1 0 -2.5 0M384.6 454.6a1.25 1.25 0 1 0 2.5 0a1.25 1.25 0 1 0 -2.5 0M389.0 454.6a1.25 1.25 0 1 0 2.5 0a1.25 1.25 0 1 0 -2.5 0M393.4 454.6a1.25 1.25 0 1 0 2.5 0a1.25 1.25 0 1 0 -2.5 0M397.8 454.6a1.25 1.25 0 1 0 2.5 0a1.25 1.25 0 1 0 -2.5 0M402.2 454.6a1.25 1.25 0 1 0 2.5 0a1.25 1.25 0 1 0 -2.5 0M382.4 458.5a1.25 1.25 0 1 0 2.5 0a1.25 1.25 0 1 0 -2.5 0M386.8 458.5a1.25 1.25 0 1 0 2.5 0a1.25 1.25 0 1 0 -2.5 0M391.2 458.5a1.25 1.25 0 1 0 2.5 0a1.25 1.25 0 1 0 -2.5 0M395.6 458.5a1.25 1.25 0 1 0 2.5 0a1.25 1.25 0 1 0 -2.5 0M400.0 458.5a1.25 1.25 0 1 0 2.5 0a1.25 1.25 0 1 0 -2.5 0M404.4 458.5a1.25 1.25 0 1 0 2.5 0a1.25 1.25 0 1 0 -2.5 0M380.2 462.4a1.25 1.25 0 1 0 2.5 0a1.25 1.25 0 1 0 -2.5 0M384.6 462.4a1.25 1.25 0 1 0 2.5 0a1.25 1.25 0 1 0 -2.5 0M389.0 462.4a1.25 1.25 0 1 0 2.5 0a1.25 1.25 0 1 0 -2.5 0M393.4 462.4a1.25 1.25 0 1 0 2.5 0a1.25 1.25 0 1 0 -2.5 0M397.8 462.4a1.25 1.25 0 1 0 2.5 0a1.25 1.25 0 1 0 -2.5 0M402.2 462.4a1.25 1.25 0 1 0 2.5 0a1.25 1.25 0 1 0 -2.5 0M382.4 466.4a1.25 1.25 0 1 0 2.5 0a1.25 1.25 0 1 0 -2.5 0M386.8 466.4a1.25 1.25 0 1 0 2.5 0a1.25 1.25 0 1 0 -2.5 0M391.2 466.4a1.25 1.25 0 1 0 2.5 0a1.25 1.25 0 1 0 -2.5 0M395.6 466.4a1.25 1.25 0 1 0 2.5 0a1.25 1.25 0 1 0 -2.5 0M400.0 466.4a1.25 1.25 0 1 0 2.5 0a1.25 1.25 0 1 0 -2.5 0M404.4 466.4a1.25 1.25 0 1 0 2.5 0a1.25 1.25 0 1 0 -2.5 0M380.2 470.3a1.25 1.25 0 1 0 2.5 0a1.25 1.25 0 1 0 -2.5 0M384.6 470.3a1.25 1.25 0 1 0 2.5 0a1.25 1.25 0 1 0 -2.5 0M389.0 470.3a1.25 1.25 0 1 0 2.5 0a1.25 1.25 0 1 0 -2.5 0M393.4 470.3a1.25 1.25 0 1 0 2.5 0a1.25 1.25 0 1 0 -2.5 0M397.8 470.3a1.25 1.25 0 1 0 2.5 0a1.25 1.25 0 1 0 -2.5 0M402.2 470.3a1.25 1.25 0 1 0 2.5 0a1.25 1.25 0 1 0 -2.5 0" stroke="none" fill="#9094cc" stroke-width="1" /><circle cx="68.20" cy="446.00" r="8.20" fill="none" stroke="#e0304a" stroke-width="1.1" stroke-dasharray="1.3 1"/><circle cx="110.20" cy="450.50" r="7.60" fill="none" stroke="#e0304a" stroke-width="1.1" stroke-dasharray="1.3 1"/><circle cx="158.60" cy="450.50" r="7.40" fill="none" stroke="#e0304a" stroke-width="1.1" stroke-dasharray="1.3 1"/><circle cx="394.60" cy="441.40" r="6.30" fill="none" stroke="#e0304a" stroke-width="1.1" stroke-dasharray="1.3 1"/><path d="M392.5 439 L394.9 441.5 L397.3 439 M394.9 441.5 V444" stroke="#d84050" fill="none" stroke-width="0.7" /><path d="M190.0 435.0 L192.0 430.0 L196.0 427.0 L198.0 423.0 L200.0 420.0 L202.0 416.0 L199.0 413.0 L204.0 414.0" stroke="#a0a0a0" fill="none" stroke-width="1.1" /><circle cx="190.00" cy="433.00" r="1.10" fill="#e03030" /><circle cx="192.00" cy="430.00" r="1.10" fill="#e8c020" /><circle cx="196.00" cy="426.00" r="1.10" fill="#a0a0a0" /><circle cx="200.00" cy="420.00" r="1.10" fill="#3050d0" /><circle cx="204.00" cy="414.00" r="1.10" fill="#e03030" /><path d="M225.0 441.0 L226.0 436.0 L229.0 433.0 L231.0 429.0 L233.0 425.0 L231.0 421.0 L234.0 419.0 L237.0 420.0" stroke="#a0a0a0" fill="none" stroke-width="1.1" /><circle cx="225.00" cy="440.00" r="1.10" fill="#e03030" /><circle cx="226.00" cy="436.00" r="1.10" fill="#e8c020" /><circle cx="230.00" cy="431.00" r="1.10" fill="#a0a0a0" /><circle cx="233.00" cy="425.00" r="1.10" fill="#3050d0" /><circle cx="234.00" cy="419.00" r="1.10" fill="#a0a0a0" /><path d="M268.0 438.0 L270.0 433.0 L268.0 429.0 L271.0 425.0 L270.0 421.0 L272.0 417.0 L269.0 415.0 L274.0 415.0" stroke="#a0a0a0" fill="none" stroke-width="1.1" /><circle cx="268.00" cy="437.00" r="1.10" fill="#e03030" /><circle cx="270.00" cy="433.00" r="1.10" fill="#e8c020" /><circle cx="271.00" cy="425.00" r="1.10" fill="#3050d0" /><circle cx="272.00" cy="417.00" r="1.10" fill="#a0a0a0" /><path d="M321 410 C328 409 334 412 333 420 C333 426 327 429 325 435 C323 442 327 447 331 451 C336 456 334 464 326 465 C318 466 312 464 311 456 C310 448 311 440 310 430 C310 421 312 412 321 410Z" stroke="none" fill="url(#espv)" stroke-width="1" /><circle cx="329.00" cy="458.50" r="5.80" fill="url(#espbl)" /><circle cx="318.50" cy="425.00" r="0.90" fill="#2040c0" /><circle cx="325.00" cy="424.50" r="0.90" fill="#d02020" /><circle cx="317.50" cy="456.00" r="0.90" fill="#e08020" /><circle cx="316.50" cy="458.00" r="0.90" fill="#d02020" /><circle cx="319.00" cy="440.00" r="0.90" fill="#2040c0" /><circle cx="323.00" cy="418.00" r="0.90" fill="#555" /><circle cx="326.00" cy="419.00" r="0.90" fill="#555" /><circle cx="318.00" cy="429.00" r="0.90" fill="#555" /><circle cx="321.00" cy="436.00" r="0.90" fill="#555" /><circle cx="318.00" cy="447.00" r="0.90" fill="#555" /><circle cx="323.00" cy="443.00" r="0.90" fill="#777" /><circle cx="323.50" cy="455.00" r="0.90" fill="#d02020" /><path d="M360 414 C368 409 380 411 381 420 C381 428 376 432 375 440 C375 446 378 450 375 455 C372 460 366 462 362 463 L358 466 C350 468 342 465 342 457 C342 450 347 445 350 438 C353 430 354 420 360 414Z" stroke="none" fill="url(#espw2)" stroke-width="1" /><circle cx="352.00" cy="458.00" r="8.30" fill="url(#espr)" /><circle cx="372.00" cy="418.00" r="4.50" fill="#b8e4e8" opacity="0.7"/><circle cx="368.00" cy="452.00" r="0.90" fill="#d02020" /><circle cx="366.00" cy="424.00" r="0.90" fill="#333" /><circle cx="372.00" cy="420.00" r="0.90" fill="#333" /><circle cx="362.00" cy="432.00" r="0.90" fill="#333" /><circle cx="366.00" cy="438.00" r="0.90" fill="#333" /><circle cx="356.00" cy="447.00" r="0.90" fill="#333" /><circle cx="360.00" cy="428.00" r="0.90" fill="#333" /><circle cx="364.00" cy="444.00" r="0.90" fill="#333" /><line x1="441.00" y1="352.00" x2="685.00" y2="352.00" stroke="#dedede" stroke-width="0.8" /><rect x="453.60" y="368.60" width="101.00" height="158.00" fill="url(#pinkbg)" /><rect x="558.00" y="369.00" width="100.00" height="158.00" fill="#f8fafd" /><line x1="555.50" y1="370.00" x2="555.50" y2="527.00" stroke="#b8b8b8" stroke-width="0.8" stroke-dasharray="2.2 2"/><text x="440.0" y="377.3" font-size="17.5" text-anchor="start" fill="#111" font-weight="normal" font-style="normal" >h</text><text x="453.0" y="380.1" font-size="11.8" text-anchor="start" fill="#1a1a1a" font-weight="normal" font-style="normal" stroke="#1a1a1a" stroke-width="0.3">CZHE</text><text x="642.3" y="380.0" font-size="12" text-anchor="start" fill="#1a1a1a" font-weight="normal" font-style="normal" stroke="#1a1a1a" stroke-width="0.25">LE</text><path d="M492 408 Q474 430 478.6 474" stroke="#d93440" fill="none" stroke-width="1.0" stroke-dasharray="2.4 1.5"/><path d="M499.9 408 V474" stroke="#d93440" fill="none" stroke-width="1.0" stroke-dasharray="2.4 1.5"/><path d="M507 408 Q524 430 518.5 474" stroke="#d93440" fill="none" stroke-width="1.0" stroke-dasharray="2.4 1.5"/><path d="M480.4 472.5L478.6 475.5L476.8 472.5" stroke="#d93440" fill="none" stroke-width="0.9" /><path d="M501.7 472.5L499.9 475.5L498.1 472.5" stroke="#d93440" fill="none" stroke-width="0.9" /><path d="M520.3 472.5L518.5 475.5L516.7 472.5" stroke="#d93440" fill="none" stroke-width="0.9" /><path d="M478 411 Q474 428 462 433" stroke="#d93440" fill="none" stroke-width="1.0" stroke-dasharray="2.4 1.5"/><path d="M463.6 435.3L461.0 433.0L464.3 431.7" stroke="#d93440" fill="none" stroke-width="0.9" /><path d="M523 412 Q527 428 540 430" stroke="#d93440" fill="none" stroke-width="1.0" stroke-dasharray="2.4 1.5"/><path d="M538.4 427.7L541.0 430.0L537.7 431.3" stroke="#d93440" fill="none" stroke-width="0.9" /><path d="M472.0 426.0 L474.0 426.4 L475.9 426.9 L477.6 427.4 L479.1 427.8 L480.1 428.2 L480.8 428.7 L481.0 429.1 L480.7 429.6 L480.0 430.1 L478.9 430.5 L477.5 430.9 L475.7 431.4 L473.8 431.9 L471.8 432.3 L469.8 432.8 L467.9 433.2 L466.2 433.6 L464.8 434.1 L463.8 434.6 L463.2 435.0 L463.0 435.4 L463.3 435.9 L464.1 436.4 L465.2 436.8 L466.7 437.2 L468.5 437.7 L470.4 438.1 L472.5 438.6 L474.5 439.1 L476.3 439.5 L478.0 439.9 L479.3 440.4 L480.3 440.9 L480.9 441.3 L481.0 441.8 L480.6 442.2 L479.8 442.6 L478.6 443.1 L477.1 443.6 L475.3 444.0 L473.4 444.4 L471.3 444.9 L469.3 445.4 L467.5 445.8 L465.8 446.2 L464.5 446.7 L463.6 447.1 L463.1 447.6 L463.0 448.1 L463.4 448.5 L464.3 448.9 L465.5 449.4 L467.1 449.9 L468.9 450.3 L470.9 450.8 L472.9 451.2 L474.9 451.6 L476.7 452.1 L478.3 452.6 L479.6 453.0 L480.5 453.4 L480.9 453.9 L480.9 454.4 L480.5 454.8 L479.6 455.2 L478.3 455.7 L476.7 456.1 L474.9 456.6 L472.9 457.1 L470.9 457.5 L468.9 457.9 L467.1 458.4 L465.5 458.9 L464.3 459.3 L463.4 459.8 L463.0 460.2 L463.1 460.6 L463.6 461.1 L464.5 461.6 L465.8 462.0" stroke="#2e3c44" fill="none" stroke-width="0.95" /><path d="M503.7 428.0 L504.4 428.4 L504.9 428.8 L505.0 429.2 L504.8 429.6 L504.2 430.0 L503.3 430.4 L502.2 430.8 L500.8 431.2 L499.3 431.6 L497.6 432.0 L495.9 432.4 L494.2 432.8 L492.6 433.2 L491.2 433.6 L490.0 434.0 L489.0 434.4 L488.4 434.8 L488.0 435.2 L488.0 435.6 L488.4 436.0 L489.1 436.4 L490.1 436.8 L491.3 437.2 L492.7 437.6 L494.3 438.0 L496.0 438.4 L497.7 438.8 L499.4 439.2 L500.9 439.6 L502.3 440.0 L503.4 440.4 L504.3 440.8 L504.8 441.2 L505.0 441.6 L504.9 442.0 L504.4 442.4 L503.6 442.8 L502.5 443.2 L501.2 443.6 L499.7 444.0 L498.0 444.4 L496.3 444.8 L494.6 445.2 L493.0 445.6 L491.5 446.0 L490.3 446.4 L489.2 446.8 L488.5 447.2 L488.1 447.6 L488.0 448.0 L488.3 448.4 L488.9 448.8 L489.8 449.2 L491.0 449.6 L492.4 450.0 L493.9 450.4 L495.6 450.8 L497.3 451.2 L499.0 451.6 L500.6 452.0 L502.0 452.4 L503.2 452.8 L504.1 453.2 L504.7 453.6 L505.0 454.0 L504.9 454.4 L504.5 454.8 L503.8 455.2 L502.8 455.6 L501.5 456.0 L500.1 456.4 L498.5 456.8 L496.8 457.2 L495.1 457.6 L493.4 458.0 L491.9 458.4 L490.6 458.8 L489.5 459.2 L488.7 459.6 L488.2 460.0" stroke="#2e3c44" fill="none" stroke-width="0.95" /><path d="M521.7 428.0 L520.8 428.4 L519.6 428.9 L518.1 429.3 L516.4 429.7 L514.6 430.1 L512.8 430.6 L511.1 431.0 L509.4 431.4 L508.0 431.8 L506.9 432.2 L506.1 432.7 L505.6 433.1 L505.5 433.5 L505.8 433.9 L506.5 434.4 L507.5 434.8 L508.8 435.2 L510.4 435.6 L512.1 436.1 L513.9 436.5 L515.7 436.9 L517.4 437.4 L519.0 437.8 L520.4 438.2 L521.4 438.6 L522.1 439.1 L522.5 439.5 L522.4 439.9 L522.0 440.3 L521.2 440.8 L520.1 441.2 L518.7 441.6 L517.1 442.0 L515.4 442.4 L513.6 442.9 L511.8 443.3 L510.1 443.7 L508.6 444.1 L507.3 444.6 L506.3 445.0 L505.7 445.4 L505.5 445.9 L505.7 446.3 L506.2 446.7 L507.1 447.1 L508.3 447.6 L509.7 448.0 L511.4 448.4 L513.2 448.8 L515.0 449.2 L516.7 449.7 L518.4 450.1 L519.8 450.5 L521.0 450.9 L521.9 451.4 L522.4 451.8 L522.5 452.2 L522.2 452.6 L521.6 453.1 L520.6 453.5 L519.3 453.9 L517.8 454.4 L516.1 454.8 L514.3 455.2 L512.5 455.6 L510.8 456.1 L509.2 456.5 L507.8 456.9 L506.7 457.3 L505.9 457.8 L505.6 458.2 L505.5 458.6 L505.9 459.0 L506.7 459.4 L507.7 459.9 L509.1 460.3 L510.7 460.7 L512.4 461.1 L514.2 461.6 L516.0 462.0" stroke="#2e3c44" fill="none" stroke-width="0.95" /><path d="M539.1 425.0 L540.6 425.4 L541.8 425.9 L542.7 426.3 L543.3 426.7 L543.5 427.1 L543.3 427.6 L542.7 428.0 L541.8 428.4 L540.6 428.8 L539.1 429.2 L537.4 429.7 L535.7 430.1 L533.9 430.5 L532.1 430.9 L530.5 431.4 L529.0 431.8 L527.9 432.2 L527.1 432.6 L526.6 433.1 L526.5 433.5 L526.8 433.9 L527.5 434.4 L528.5 434.8 L529.8 435.2 L531.4 435.6 L533.1 436.1 L534.9 436.5 L536.7 436.9 L538.4 437.3 L540.0 437.8 L541.3 438.2 L542.4 438.6 L543.1 439.0 L543.5 439.4 L543.4 439.9 L543.0 440.3 L542.2 440.7 L541.1 441.1 L539.8 441.6 L538.2 442.0 L536.4 442.4 L534.6 442.9 L532.8 443.3 L531.1 443.7 L529.6 444.1 L528.3 444.6 L527.4 445.0 L526.7 445.4 L526.5 445.8 L526.6 446.2 L527.2 446.7 L528.0 447.1 L529.2 447.5 L530.7 447.9 L532.4 448.4 L534.1 448.8 L535.9 449.2 L537.7 449.6 L539.4 450.1 L540.8 450.5 L542.0 450.9 L542.9 451.4 L543.4 451.8 L543.5 452.2 L543.2 452.6 L542.6 453.1 L541.6 453.5 L540.4 453.9 L538.8 454.3 L537.1 454.8 L535.3 455.2 L533.5 455.6 L531.8 456.0 L530.2 456.4 L528.8 456.9 L527.7 457.3 L527.0 457.7 L526.6 458.1 L526.5 458.6 L526.9 459.0" stroke="#2e3c44" fill="none" stroke-width="0.95" /><path d="M455.7 465 Q470 460 488 456" stroke="#2a3840" fill="none" stroke-width="1.1" /><path d="M478 462 Q497 470 520 464" stroke="#2a3840" fill="none" stroke-width="1.1" /><line x1="470.00" y1="440.00" x2="472.00" y2="444.00" stroke="#333" stroke-width="0.9" /><circle cx="472.40" cy="444.60" r="1.10" fill="#d02030" /><line x1="486.00" y1="448.00" x2="488.00" y2="452.00" stroke="#333" stroke-width="0.9" /><circle cx="488.40" cy="452.60" r="1.10" fill="#d02030" /><line x1="500.00" y1="432.00" x2="502.00" y2="436.00" stroke="#333" stroke-width="0.9" /><circle cx="502.40" cy="436.60" r="1.10" fill="#d02030" /><line x1="512.00" y1="452.00" x2="514.00" y2="456.00" stroke="#333" stroke-width="0.9" /><circle cx="514.40" cy="456.60" r="1.10" fill="#d02030" /><line x1="525.00" y1="445.00" x2="527.00" y2="449.00" stroke="#333" stroke-width="0.9" /><circle cx="527.40" cy="449.60" r="1.10" fill="#d02030" /><line x1="540.00" y1="457.00" x2="542.00" y2="461.00" stroke="#333" stroke-width="0.9" /><circle cx="542.40" cy="461.60" r="1.10" fill="#d02030" /><line x1="468.00" y1="466.00" x2="470.00" y2="470.00" stroke="#333" stroke-width="0.9" /><circle cx="470.40" cy="470.60" r="1.10" fill="#d02030" /><line x1="532.00" y1="470.00" x2="534.00" y2="474.00" stroke="#333" stroke-width="0.9" /><circle cx="534.40" cy="474.60" r="1.10" fill="#d02030" /><circle cx="497.60" cy="463.30" r="10.00" fill="none" stroke="#d93440" stroke-width="0.6"/><path d="M488 466 L480 490 M507 466 L516 488" stroke="#d93440" fill="none" stroke-width="0.6" /><circle cx="483.30" cy="439.50" r="4.10" fill="url(#msp)" /><circle cx="505.20" cy="436.60" r="4.10" fill="url(#msp)" /><circle cx="521.40" cy="442.30" r="4.10" fill="url(#msp)" /><circle cx="499.90" cy="448.00" r="4.10" fill="url(#msp)" /><circle cx="475.70" cy="455.70" r="4.10" fill="url(#msp)" /><circle cx="516.60" cy="452.80" r="4.10" fill="url(#msp)" /><circle cx="499.90" cy="397.60" r="5.70" fill="url(#znsp)" /><line x1="488.00" y1="386.20" x2="488.67" y2="381.45" stroke="#a8a8a8" stroke-width="1.3" /><circle cx="488.67" cy="381.45" r="1.80" fill="url(#hsp)" /><line x1="488.00" y1="386.20" x2="492.45" y2="388.00" stroke="#a8a8a8" stroke-width="1.3" /><circle cx="492.45" cy="388.00" r="1.80" fill="url(#hsp)" /><circle cx="488.00" cy="386.20" r="2.80" fill="url(#osp)" /><line x1="511.00" y1="385.20" x2="515.75" y2="385.87" stroke="#a8a8a8" stroke-width="1.3" /><circle cx="515.75" cy="385.87" r="1.80" fill="url(#hsp)" /><line x1="511.00" y1="385.20" x2="509.20" y2="389.65" stroke="#a8a8a8" stroke-width="1.3" /><circle cx="509.20" cy="389.65" r="1.80" fill="url(#hsp)" /><circle cx="511.00" cy="385.20" r="2.80" fill="url(#osp)" /><line x1="478.60" y1="404.30" x2="473.85" y2="403.63" stroke="#a8a8a8" stroke-width="1.3" /><circle cx="473.85" cy="403.63" r="1.80" fill="url(#hsp)" /><line x1="478.60" y1="404.30" x2="480.40" y2="399.85" stroke="#a8a8a8" stroke-width="1.3" /><circle cx="480.40" cy="399.85" r="1.80" fill="url(#hsp)" /><circle cx="478.60" cy="404.30" r="2.80" fill="url(#osp)" /><line x1="521.40" y1="406.20" x2="525.47" y2="403.66" stroke="#a8a8a8" stroke-width="1.3" /><circle cx="525.47" cy="403.66" r="1.80" fill="url(#hsp)" /><line x1="521.40" y1="406.20" x2="522.88" y2="410.77" stroke="#a8a8a8" stroke-width="1.3" /><circle cx="522.88" cy="410.77" r="1.80" fill="url(#hsp)" /><circle cx="521.40" cy="406.20" r="2.80" fill="url(#osp)" /><path d="M482.0 483.0 L482.7 484.0 L483.3 484.9 L484.0 485.5 L484.6 485.8 L485.2 485.6 L485.7 485.1 L486.2 484.3 L486.7 483.2 L487.2 482.0 L487.7 481.0 L488.2 480.1 L488.8 479.5 L489.3 479.4 L489.9 479.6 L490.6 480.2 L491.2 481.0 L491.9 482.1 L492.6 483.1 L493.2 484.0 L493.9 484.6 L494.5 484.9 L495.1 484.8 L495.6 484.3 L496.1 483.5 L496.6 482.4 L497.1 481.3 L497.6 480.2 L498.1 479.3 L498.7 478.7 L499.2 478.5 L499.8 478.7 L500.5 479.3 L501.1 480.1 L501.8 481.1 L502.5 482.2 L503.2 483.1 L503.8 483.7 L504.4 484.1 L505.0 484.0 L505.5 483.5 L506.1 482.7 L506.6 481.7 L507.1 480.5 L507.5 479.4 L508.1 478.5 L508.6 477.9 L509.2 477.7 L509.8 477.8 L510.4 478.4 L511.1 479.2 L511.7 480.2 L512.4 481.2 L513.1 482.2 L513.7 482.8 L514.3 483.2 L514.9 483.1 L515.5 482.7 L516.0 481.9 L516.5 480.9 L517.0 479.8" stroke="#2a3840" fill="none" stroke-width="1.2" stroke-linecap="round"/><circle cx="498.30" cy="480.90" r="4.10" fill="url(#msp)" /><line x1="481.10" y1="485.60" x2="479.20" y2="494.20" stroke="#333" stroke-width="0.8" /><circle cx="481.10" cy="485.60" r="2.40" fill="#e02030" /><line x1="479.80" y1="485.60" x2="482.40" y2="485.60" stroke="#fff" stroke-width="0.7" /><line x1="481.10" y1="484.30" x2="481.10" y2="486.90" stroke="#fff" stroke-width="0.7" /><circle cx="479.20" cy="494.20" r="2.40" fill="#151515" /><line x1="478.00" y1="494.20" x2="480.40" y2="494.20" stroke="#fff" stroke-width="0.7" /><line x1="487.80" y1="496.10" x2="485.90" y2="503.70" stroke="#333" stroke-width="0.8" /><circle cx="487.80" cy="496.10" r="2.40" fill="#e02030" /><line x1="486.50" y1="496.10" x2="489.10" y2="496.10" stroke="#fff" stroke-width="0.7" /><line x1="487.80" y1="494.80" x2="487.80" y2="497.40" stroke="#fff" stroke-width="0.7" /><circle cx="485.90" cy="503.70" r="2.40" fill="#151515" /><line x1="484.70" y1="503.70" x2="487.10" y2="503.70" stroke="#fff" stroke-width="0.7" /><line x1="503.00" y1="495.20" x2="504.90" y2="503.70" stroke="#333" stroke-width="0.8" /><circle cx="503.00" cy="495.20" r="2.40" fill="#e02030" /><line x1="501.70" y1="495.20" x2="504.30" y2="495.20" stroke="#fff" stroke-width="0.7" /><line x1="503.00" y1="493.90" x2="503.00" y2="496.50" stroke="#fff" stroke-width="0.7" /><circle cx="504.90" cy="503.70" r="2.40" fill="#151515" /><line x1="503.70" y1="503.70" x2="506.10" y2="503.70" stroke="#fff" stroke-width="0.7" /><line x1="511.60" y1="489.80" x2="512.50" y2="497.00" stroke="#333" stroke-width="0.8" /><circle cx="511.60" cy="489.80" r="2.40" fill="#e02030" /><line x1="510.30" y1="489.80" x2="512.90" y2="489.80" stroke="#fff" stroke-width="0.7" /><line x1="511.60" y1="488.50" x2="511.60" y2="491.10" stroke="#fff" stroke-width="0.7" /><circle cx="512.50" cy="497.00" r="2.40" fill="#151515" /><line x1="511.30" y1="497.00" x2="513.70" y2="497.00" stroke="#fff" stroke-width="0.7" /><polygon points="484.74,496.33 461.30,516.21 457.10,511.25 456.70,524.70 470.03,526.50 465.83,521.55 489.26,501.67" fill="url(#parr2)" /><polygon points="492.00,499.00 492.00,517.40 487.50,517.40 496.50,525.40 505.50,517.40 501.00,517.40 501.00,499.00" fill="url(#parr2)" /><polygon points="503.67,501.61 525.75,521.32 521.43,526.17 534.80,524.70 534.74,511.25 530.42,516.10 508.33,496.39" fill="url(#parr2)" /><path d="M532.5 472 Q536 470 538 462 Q540 470 542 474 Q545 479 549 479" stroke="#d93440" fill="none" stroke-width="0.9" /><path d="M547.5 477.8L550.0 479.3L547.5 480.8" stroke="#d93440" fill="none" stroke-width="0.9" /><line x1="538.00" y1="464.00" x2="538.00" y2="476.00" stroke="#d93440" stroke-width="0.7" stroke-dasharray="1.2 1"/><text x="535.5" y="489" font-size="7.5" fill="#222">E<tspan font-size="5" dy="1.8">a</tspan></text><rect x="451.6" y="526.5" width="8.6" height="14.8" rx="4.1" fill="url(#cap)"/><rect x="451.6" y="526.5" width="8.6" height="14.8" rx="4.1" fill="url(#capb)"/><rect x="462.1" y="526.5" width="8.6" height="14.8" rx="4.1" fill="url(#cap)"/><rect x="462.1" y="526.5" width="8.6" height="14.8" rx="4.1" fill="url(#capb)"/><rect x="472.7" y="526.5" width="8.6" height="14.8" rx="4.1" fill="url(#cap)"/><rect x="472.7" y="526.5" width="8.6" height="14.8" rx="4.1" fill="url(#capb)"/><rect x="483.2" y="526.5" width="8.6" height="14.8" rx="4.1" fill="url(#cap)"/><rect x="483.2" y="526.5" width="8.6" height="14.8" rx="4.1" fill="url(#capb)"/><rect x="493.8" y="526.5" width="8.6" height="14.8" rx="4.1" fill="url(#cap)"/><rect x="493.8" y="526.5" width="8.6" height="14.8" rx="4.1" fill="url(#capb)"/><rect x="504.3" y="526.5" width="8.6" height="14.8" rx="4.1" fill="url(#cap)"/><rect x="504.3" y="526.5" width="8.6" height="14.8" rx="4.1" fill="url(#capb)"/><rect x="514.8" y="526.5" width="8.6" height="14.8" rx="4.1" fill="url(#cap)"/><rect x="514.8" y="526.5" width="8.6" height="14.8" rx="4.1" fill="url(#capb)"/><rect x="525.4" y="526.5" width="8.6" height="14.8" rx="4.1" fill="url(#cap)"/><rect x="525.4" y="526.5" width="8.6" height="14.8" rx="4.1" fill="url(#capb)"/><rect x="535.9" y="526.5" width="8.6" height="14.8" rx="4.1" fill="url(#cap)"/><rect x="535.9" y="526.5" width="8.6" height="14.8" rx="4.1" fill="url(#capb)"/><rect x="546.5" y="526.5" width="8.6" height="14.8" rx="4.1" fill="url(#cap)"/><rect x="546.5" y="526.5" width="8.6" height="14.8" rx="4.1" fill="url(#capb)"/><rect x="557.0" y="526.5" width="8.6" height="14.8" rx="4.1" fill="url(#cap)"/><rect x="557.0" y="526.5" width="8.6" height="14.8" rx="4.1" fill="url(#capb)"/><rect x="567.5" y="526.5" width="8.6" height="14.8" rx="4.1" fill="url(#cap)"/><rect x="567.5" y="526.5" width="8.6" height="14.8" rx="4.1" fill="url(#capb)"/><rect x="578.1" y="526.5" width="8.6" height="14.8" rx="4.1" fill="url(#cap)"/><rect x="578.1" y="526.5" width="8.6" height="14.8" rx="4.1" fill="url(#capb)"/><rect x="588.6" y="526.5" width="8.6" height="14.8" rx="4.1" fill="url(#cap)"/><rect x="588.6" y="526.5" width="8.6" height="14.8" rx="4.1" fill="url(#capb)"/><rect x="599.2" y="526.5" width="8.6" height="14.8" rx="4.1" fill="url(#cap)"/><rect x="599.2" y="526.5" width="8.6" height="14.8" rx="4.1" fill="url(#capb)"/><rect x="609.7" y="526.5" width="8.6" height="14.8" rx="4.1" fill="url(#cap)"/><rect x="609.7" y="526.5" width="8.6" height="14.8" rx="4.1" fill="url(#capb)"/><rect x="620.2" y="526.5" width="8.6" height="14.8" rx="4.1" fill="url(#cap)"/><rect x="620.2" y="526.5" width="8.6" height="14.8" rx="4.1" fill="url(#capb)"/><rect x="630.8" y="526.5" width="8.6" height="14.8" rx="4.1" fill="url(#cap)"/><rect x="630.8" y="526.5" width="8.6" height="14.8" rx="4.1" fill="url(#capb)"/><rect x="641.3" y="526.5" width="8.6" height="14.8" rx="4.1" fill="url(#cap)"/><rect x="641.3" y="526.5" width="8.6" height="14.8" rx="4.1" fill="url(#capb)"/><rect x="651.9" y="526.5" width="8.6" height="14.8" rx="4.1" fill="url(#cap)"/><rect x="651.9" y="526.5" width="8.6" height="14.8" rx="4.1" fill="url(#capb)"/><path d="M464 533 C478 527 500 521 520 520 C530 520 533 522 533 525 C533 530 520 534 500 536 C482 537 468 536 464 533Z" stroke="none" fill="#eeeeee" stroke-width="1" opacity="0.95"/><path d="M472 536 C490 531 510 529 533 531 L533 536 Z" stroke="none" fill="#cfcfcf" stroke-width="1" opacity="0.8"/><path d="M503 524 C515 520 528 519 533 521 L533 527 C524 526 512 526 503 524Z" stroke="none" fill="#4a4a4a" stroke-width="1" opacity="0.8"/><text x="527.6" y="551.6" font-size="9.35" text-anchor="start" fill="#222" font-weight="normal" font-style="normal" >Zn electrode</text><path d="M590.4 409 C584 419 596 429 590 440 C584 451 596 461 590 472 C584 483 596 493 590 505" stroke="#58b4d8" fill="none" stroke-width="0.9" stroke-dasharray="3.5 2"/><path d="M591.8 504.0L590.0 507.0L588.2 504.0" stroke="#60b8d8" fill="none" stroke-width="0.9" /><path d="M605.2 446.4 L605.9 446.7 L606.6 446.9 L607.3 447.1 L608.0 447.1 L608.7 447.0 L609.4 446.8 L610.1 446.4 L610.8 445.7 L611.5 444.8 L612.2 443.5 L612.9 441.9 L613.6 439.9 L614.3 437.5 L615.0 434.7 L615.7 431.5 L616.4 427.9 L617.1 424.0 L617.8 419.9 L618.5 415.7 L619.2 411.4 L619.9 407.3 L620.6 403.5 L621.3 400.1 L622.0 397.2 L622.7 395.0 L623.4 393.6 L624.1 393.1 L624.8 393.5 L625.5 394.8 L626.2 397.0 L626.9 399.9 L627.6 403.6 L628.3 407.9 L629.0 412.6 L629.7 417.6 L630.4 422.7 L631.1 427.9 L631.8 432.9 L632.5 437.7 L633.2 442.3 L633.9 446.4 L634.6 450.2 L635.3 453.6 L636.0 456.5 L636.7 459.1 L637.4 461.3 L638.1 463.2 L638.8 464.8 L639.5 466.2 L640.2 467.4 L640.9 468.4 L641.6 469.2 L642.3 470.0 L643.0 470.7 L643.7 471.3 L644.4 471.9 L645.1 472.4 L645.8 472.9 L646.5 473.4 L647.2 473.9 L647.9 474.3 L648.6 474.8 L649.3 475.3 L650.0 475.7 L650.7 476.2 L651.4 476.6 L652.1 477.1 L652.8 477.6 L653.5 478.0 L654.2 478.5 L654.9 478.9 L655.6 479.4 L656.3 479.8 L657.0 480.3" stroke="#d93440" fill="none" stroke-width="1.0" /><path d="M655.5 478.8L658.5 480.6L655.5 482.4" stroke="#d93440" fill="none" stroke-width="0.9" /><line x1="625.00" y1="398.00" x2="625.00" y2="477.00" stroke="#d93440" stroke-width="1.1" stroke-dasharray="2.2 1.4"/><path d="M626.7 476.2L625.0 479.0L623.3 476.2" stroke="#d93440" fill="none" stroke-width="0.9" /><text x="630.5" y="480" font-size="8.2" fill="#222">E<tspan font-size="5.5" dy="2">a</tspan></text><circle cx="575.60" cy="396.00" r="5.60" fill="url(#znsp)" /><line x1="572.70" y1="382.70" x2="568.46" y2="380.45" stroke="#a8a8a8" stroke-width="1.3" /><circle cx="568.46" cy="380.45" r="1.80" fill="url(#hsp)" /><line x1="572.70" y1="382.70" x2="575.91" y2="379.13" stroke="#a8a8a8" stroke-width="1.3" /><circle cx="575.91" cy="379.13" r="1.80" fill="url(#hsp)" /><circle cx="572.70" cy="382.70" r="2.80" fill="url(#osp)" /><line x1="588.00" y1="392.50" x2="592.45" y2="390.70" stroke="#a8a8a8" stroke-width="1.3" /><circle cx="592.45" cy="390.70" r="1.80" fill="url(#hsp)" /><line x1="588.00" y1="392.50" x2="588.67" y2="397.25" stroke="#a8a8a8" stroke-width="1.3" /><circle cx="588.67" cy="397.25" r="1.80" fill="url(#hsp)" /><circle cx="588.00" cy="392.50" r="2.80" fill="url(#osp)" /><line x1="562.80" y1="397.40" x2="562.13" y2="402.15" stroke="#a8a8a8" stroke-width="1.3" /><circle cx="562.13" cy="402.15" r="1.80" fill="url(#hsp)" /><line x1="562.80" y1="397.40" x2="558.35" y2="395.60" stroke="#a8a8a8" stroke-width="1.3" /><circle cx="558.35" cy="395.60" r="1.80" fill="url(#hsp)" /><circle cx="562.80" cy="397.40" r="2.80" fill="url(#osp)" /><line x1="579.20" y1="406.30" x2="580.68" y2="401.73" stroke="#a8a8a8" stroke-width="1.3" /><circle cx="580.68" cy="401.73" r="1.80" fill="url(#hsp)" /><line x1="579.20" y1="406.30" x2="583.27" y2="408.84" stroke="#a8a8a8" stroke-width="1.3" /><circle cx="583.27" cy="408.84" r="1.80" fill="url(#hsp)" /><circle cx="579.20" cy="406.30" r="2.80" fill="url(#osp)" /><ellipse cx="575" cy="520" rx="14" ry="11" fill="url(#dend)"/><ellipse cx="597" cy="519" rx="14" ry="11" fill="url(#dend)"/><ellipse cx="619" cy="520" rx="14" ry="11" fill="url(#dend)"/><path d="M605.1 525.6q1.8 2.7 2.4 3.4M565.9 519.8q2.7 0.9 4.0 -3.1M595.0 515.2q0.3 0.4 -4.9 -2.3M582.4 529.2q1.6 -2.0 3.0 -2.9M604.8 512.7q-3.0 2.2 -2.9 -2.3M628.8 528.3q-1.3 2.8 0.4 1.4M577.5 529.8q1.1 2.8 3.9 -1.6M587.8 513.5q-2.1 -2.6 -2.0 0.8M564.2 524.2q-1.0 -1.1 3.2 -0.2M584.8 520.1q1.2 -2.7 4.8 -3.8M613.5 527.7q-2.9 1.7 -1.3 0.6M564.6 511.0q-1.9 2.7 -3.0 2.0M625.4 529.8q-0.9 -0.9 0.2 2.2M571.1 525.7q1.8 2.2 -4.6 3.6M570.0 517.2q0.7 2.5 -1.6 3.4M600.0 516.6q-1.1 -1.9 -4.2 -2.8M609.5 530.9q-2.0 -2.7 4.9 0.3M590.8 515.0q0.6 2.0 -0.4 -0.6M567.7 529.2q-2.8 -0.0 3.4 -3.0M612.3 529.9q0.8 1.7 -3.9 -0.5M573.9 527.7q-1.2 -0.3 5.0 2.8M628.4 519.5q-0.1 1.4 -0.2 -1.7M590.7 513.1q-0.7 2.9 4.6 1.0M597.0 517.1q-2.5 -1.4 2.8 2.9M587.8 526.5q1.6 1.2 1.6 2.1M588.0 524.8q-1.3 -0.1 2.7 1.5M583.4 529.9q0.9 0.5 -4.9 0.4M580.5 524.1q-0.2 1.9 1.5 2.4M587.0 523.5q1.4 2.0 -1.5 2.7M621.4 524.5q2.9 2.7 0.2 0.2M575.0 527.6q2.6 -0.1 1.9 1.8M612.2 513.6q1.7 0.5 1.7 -0.6M605.2 526.3q0.8 1.3 -4.7 -2.7M593.1 523.7q-1.7 1.1 1.3 -3.7M595.1 514.8q-2.7 -2.2 -1.8 -2.5M576.8 510.7q-0.2 -0.7 1.1 0.7M579.7 529.0q-3.0 -0.6 -2.2 -0.7M571.6 527.5q-0.8 -2.8 1.1 -3.2M600.0 517.1q0.5 2.7 3.2 -0.6M617.7 523.5q-0.8 -2.1 1.0 0.5M627.2 530.3q0.7 -0.9 3.9 -4.0M571.1 521.9q0.7 -2.2 1.3 3.1M588.8 519.1q-1.6 -1.3 4.7 -1.0M627.4 529.2q0.6 -1.4 4.8 -0.0M591.4 516.7q2.9 -0.0 -2.1 -0.2M572.0 523.1q-0.3 -1.2 2.8 2.6M564.9 521.2q-1.4 2.6 2.8 -2.0M581.7 513.3q2.9 -1.2 1.1 -0.2M606.6 522.7q1.5 -2.3 2.6 -1.6M599.2 517.1q-1.2 0.2 -0.4 -1.1M613.2 522.4q-2.8 -1.5 -0.4 3.3M622.6 521.5q-2.9 1.7 -0.7 0.6M610.7 523.3q-0.1 2.5 -1.1 -0.9M620.2 514.1q-1.2 2.0 -4.3 2.7M609.8 519.1q-1.3 1.7 4.1 -2.9M595.6 521.5q-0.0 -1.0 -3.5 0.7M617.6 511.4q-1.6 1.9 2.9 1.3M565.7 525.2q2.9 3.0 2.0 -3.6M619.6 514.6q0.9 2.7 2.1 -2.9M583.3 529.3q-2.1 0.7 -0.9 -2.7M605.1 510.9q-2.4 -0.7 -4.3 -3.5M602.0 525.6q2.3 -2.2 -0.7 -1.5M603.6 520.3q2.6 -0.8 -4.4 1.6M574.0 523.3q0.0 2.5 0.5 1.0M581.4 521.6q-1.5 1.5 0.2 -2.9M579.5 517.8q1.4 -1.9 2.1 1.2M569.6 524.0q-2.5 -2.3 0.9 -2.1M621.9 520.1q-1.1 1.8 -4.7 1.8M567.5 513.2q2.7 1.1 -2.8 -3.1M628.2 524.0q1.9 -2.2 1.2 -1.2M579.5 517.0q0.7 -0.9 -1.1 -2.9M618.9 523.6q1.8 -0.4 3.5 0.1M603.1 522.0q1.4 -0.6 -4.0 -3.7M577.4 510.8q2.3 -0.1 2.6 -4.0M595.0 528.7q0.7 -0.4 -0.3 -3.2M574.2 513.3q-0.8 -0.7 3.8 -2.8M580.8 515.8q-2.0 -1.3 -2.6 -0.1M566.1 529.4q-0.8 2.6 1.9 1.4M595.1 529.9q-2.3 1.0 -2.1 1.4M612.1 513.4q-1.8 -2.9 -2.7 -3.4M590.5 530.4q-0.8 -1.1 -0.3 -1.7M612.3 525.1q-2.0 -1.6 1.7 3.5M606.6 519.0q2.9 -3.0 -4.4 2.2M591.1 510.9q0.3 2.9 0.2 -1.2M570.2 511.5q2.4 -0.1 4.4 -3.6M580.1 511.1q-0.6 -2.6 -2.4 -0.7M584.2 511.1q-2.8 2.8 -3.2 0.1M590.6 521.2q-2.5 -1.1 -3.9 0.3M624.8 522.6q2.1 -1.7 -4.8 0.3M596.1 522.0q-0.7 0.8 2.3 3.3M584.3 519.4q2.0 -1.7 -3.8 -1.5M569.8 526.2q1.9 -1.1 -3.7 -3.3M580.2 511.8q-0.4 0.5 -2.5 -3.5M610.2 511.0q-1.8 -1.3 -1.3 -3.2M591.8 516.6q1.5 0.3 4.0 1.2M614.1 522.1q-0.3 1.9 1.6 3.6M612.0 524.7q-1.4 1.9 -1.2 -3.0M568.4 513.6q-1.4 1.1 -2.1 -3.5M614.4 521.7q-2.8 -2.7 -3.7 -1.1M620.7 529.9q0.7 -1.6 -0.7 -1.1M585.8 510.3q0.5 2.0 2.3 -3.2M599.0 513.6q1.3 -0.3 4.4 2.4M571.8 516.7q2.5 -0.2 -0.7 -0.5M614.7 529.7q0.2 2.8 1.0 -3.2M617.7 518.8q-2.7 2.9 -4.7 0.6M595.8 528.5q-0.6 -1.7 -2.2 -2.4M601.1 517.5q1.5 -1.6 -1.5 -2.0M628.8 527.6q2.1 0.7 -1.0 -2.9M618.9 520.3q-2.8 -2.0 -4.0 1.7M623.4 514.2q1.8 -1.1 1.8 2.9M605.1 526.8q-0.7 -2.9 0.1 0.7M576.2 518.2q-1.1 -2.8 -1.9 -0.9M595.4 524.8q-0.6 2.9 3.2 3.4M609.7 524.1q0.2 1.8 -1.4 0.7M608.8 521.0q-1.3 -2.5 -4.1 -1.2M602.3 526.0q1.3 -1.2 4.3 -1.8M611.3 511.5q1.5 1.0 4.6 3.2M609.4 527.6q1.4 0.7 -2.9 0.1M623.1 515.0q2.8 0.3 -1.1 -4.0M589.8 513.7q0.9 2.4 4.1 0.9M589.5 512.3q1.1 0.3 2.2 -1.0M622.5 514.5q-1.2 -1.4 1.2 3.2M575.0 523.3q1.6 -1.7 -4.4 0.5M618.8 528.5q1.4 -0.5 -0.7 0.2M623.7 516.3q-1.3 0.6 4.7 -2.5M566.0 512.4q0.4 0.6 -3.2 -2.5M603.2 523.6q1.1 1.4 -4.4 -0.1M619.1 530.1q-1.1 2.1 1.5 3.4M579.1 524.6q2.0 -0.1 -4.0 -2.5M574.3 511.9q-2.1 0.7 -4.0 2.1M612.6 527.1q1.8 1.3 4.2 3.7M605.3 530.3q-2.4 -2.4 -4.4 -2.3M588.7 519.6q1.1 1.5 -4.2 -0.8M599.9 517.9q-2.3 0.6 -1.3 1.5M596.7 530.2q2.7 -2.6 2.6 1.8M583.5 512.5q-0.1 -0.9 2.4 3.3M589.2 516.1q-0.0 1.2 2.9 0.6M583.5 517.1q2.1 0.1 -4.5 -0.6M579.7 524.0q-2.6 -1.4 -4.0 -0.2M629.0 521.4q-0.7 2.6 -4.1 -1.2M617.5 510.1q1.6 -0.8 -4.8 -2.0M594.2 518.0q0.1 -2.7 -2.8 3.8M593.2 519.9q-2.5 -1.3 4.5 1.5M597.5 511.1q-0.6 1.7 -0.7 0.7M623.6 523.5q0.8 -2.8 -4.8 2.2M591.3 528.4q2.0 2.5 -1.2 4.0M613.9 528.7q-2.1 1.7 -0.8 3.8M629.6 514.6q-0.5 -1.4 -0.3 -1.7M608.0 512.6q-2.0 -0.3 -4.3 -1.0M623.2 528.6q-1.8 -2.9 3.3 3.7M603.5 512.9q-1.6 2.5 4.4 -3.8M576.2 519.0q-1.4 1.5 -1.3 2.2M574.0 520.9q2.8 1.2 -4.1 -3.1M606.5 517.9q-0.8 -0.1 0.8 3.7M579.9 521.9q-1.4 0.3 2.3 -2.9M595.8 524.8q-3.0 1.6 -0.8 0.0M604.3 526.7q-2.7 0.0 -4.6 -0.9M586.8 510.4q-1.2 -0.3 1.5 3.4M588.4 521.1q1.3 2.6 4.5 3.9M583.9 513.5q2.6 -2.5 -0.5 1.9M598.9 518.2q2.5 -1.2 0.5 2.6M573.1 517.4q-0.0 0.4 -2.9 -0.4M567.9 511.8q-0.9 -2.1 4.7 -1.9M582.2 526.5q1.4 -1.4 3.3 1.0M589.6 523.2q-1.5 -1.4 3.8 -0.5M623.2 513.7q-2.2 -2.7 2.4 0.5M564.6 510.9q1.9 -0.0 3.7 -3.7M602.9 512.5q1.3 0.7 1.1 -2.2M626.6 512.3q-2.6 1.1 -4.1 -3.5M594.4 523.6q2.4 1.3 -4.3 1.1" stroke="#7a7a7a" fill="none" stroke-width="0.3" /><line x1="574.60" y1="491.40" x2="579.30" y2="490.40" stroke="#a8a8a8" stroke-width="1.3" /><circle cx="579.30" cy="490.40" r="1.80" fill="url(#hsp)" /><line x1="574.60" y1="491.40" x2="574.43" y2="496.20" stroke="#a8a8a8" stroke-width="1.3" /><circle cx="574.43" cy="496.20" r="1.80" fill="url(#hsp)" /><circle cx="574.60" cy="491.40" r="2.80" fill="url(#osp)" /><line x1="570.80" y1="504.00" x2="570.13" y2="508.75" stroke="#a8a8a8" stroke-width="1.3" /><circle cx="570.13" cy="508.75" r="1.80" fill="url(#hsp)" /><line x1="570.80" y1="504.00" x2="566.35" y2="502.20" stroke="#a8a8a8" stroke-width="1.3" /><circle cx="566.35" cy="502.20" r="1.80" fill="url(#hsp)" /><circle cx="570.80" cy="504.00" r="2.80" fill="url(#osp)" /><line x1="609.70" y1="493.00" x2="605.25" y2="494.80" stroke="#a8a8a8" stroke-width="1.3" /><circle cx="605.25" cy="494.80" r="1.80" fill="url(#hsp)" /><line x1="609.70" y1="493.00" x2="609.03" y2="488.25" stroke="#a8a8a8" stroke-width="1.3" /><circle cx="609.03" cy="488.25" r="1.80" fill="url(#hsp)" /><circle cx="609.70" cy="493.00" r="2.80" fill="url(#osp)" /><line x1="639.60" y1="496.60" x2="643.17" y2="493.39" stroke="#a8a8a8" stroke-width="1.3" /><circle cx="643.17" cy="493.39" r="1.80" fill="url(#hsp)" /><line x1="639.60" y1="496.60" x2="641.85" y2="500.84" stroke="#a8a8a8" stroke-width="1.3" /><circle cx="641.85" cy="500.84" r="1.80" fill="url(#hsp)" /><circle cx="639.60" cy="496.60" r="2.80" fill="url(#osp)" /><circle cx="597.80" cy="503.30" r="3.60" fill="url(#msp)" /><circle cx="624.10" cy="496.60" r="3.60" fill="url(#msp)" /><circle cx="447.20" cy="561.80" r="5.30" fill="url(#znsp)" /><text x="455" y="563.6" font-size="7.6" fill="#222">Zn<tspan font-size="5" dy="-3">2+</tspan></text><circle cx="479.30" cy="561.80" r="5.00" fill="url(#msp)" /><text x="486.5" y="563.6" font-size="7.6" text-anchor="start" fill="#222" font-weight="normal" font-style="normal" >Maltose</text><line x1="522.00" y1="559.80" x2="527.00" y2="562.80" stroke="#b0b0b0" stroke-width="1.0" /><circle cx="527.50" cy="563.00" r="1.40" fill="url(#hsp)" /><line x1="522.00" y1="559.80" x2="521.00" y2="565.30" stroke="#b0b0b0" stroke-width="1.0" /><circle cx="521.00" cy="565.80" r="1.40" fill="url(#hsp)" /><circle cx="522.00" cy="559.30" r="2.80" fill="url(#osp)" /><text x="533.7" y="565.6" font-size="7.6" fill="#222">H<tspan font-size="5" dy="1.8">2</tspan><tspan dy="-1.8">O</tspan></text><path d="M549 560.8 Q552 556.8 556 561.8 Q559 565.8 563.4 559.8" stroke="#2a3840" fill="none" stroke-width="1.1" /><text x="565.2" y="563.6" font-size="7.6" text-anchor="start" fill="#222" font-weight="normal" font-style="normal" >Polymer chain</text><line x1="613.50" y1="568.00" x2="618.80" y2="561.80" stroke="#333" stroke-width="0.8" /><line x1="618.80" y1="561.80" x2="629.60" y2="559.30" stroke="#333" stroke-width="0.8" /><circle cx="618.80" cy="561.80" r="3.60" fill="#e02030" /><line x1="617.00" y1="561.80" x2="620.60" y2="561.80" stroke="#fff" stroke-width="0.9" /><line x1="618.80" y1="560.00" x2="618.80" y2="563.60" stroke="#fff" stroke-width="0.9" /><circle cx="629.60" cy="559.30" r="3.60" fill="#111" /><line x1="628.00" y1="559.30" x2="631.20" y2="559.30" stroke="#fff" stroke-width="0.9" /><text x="636.0" y="563.6" font-size="7.6" text-anchor="start" fill="#222" font-weight="normal" font-style="normal" >Zw group</text>
</svg></body></html>
